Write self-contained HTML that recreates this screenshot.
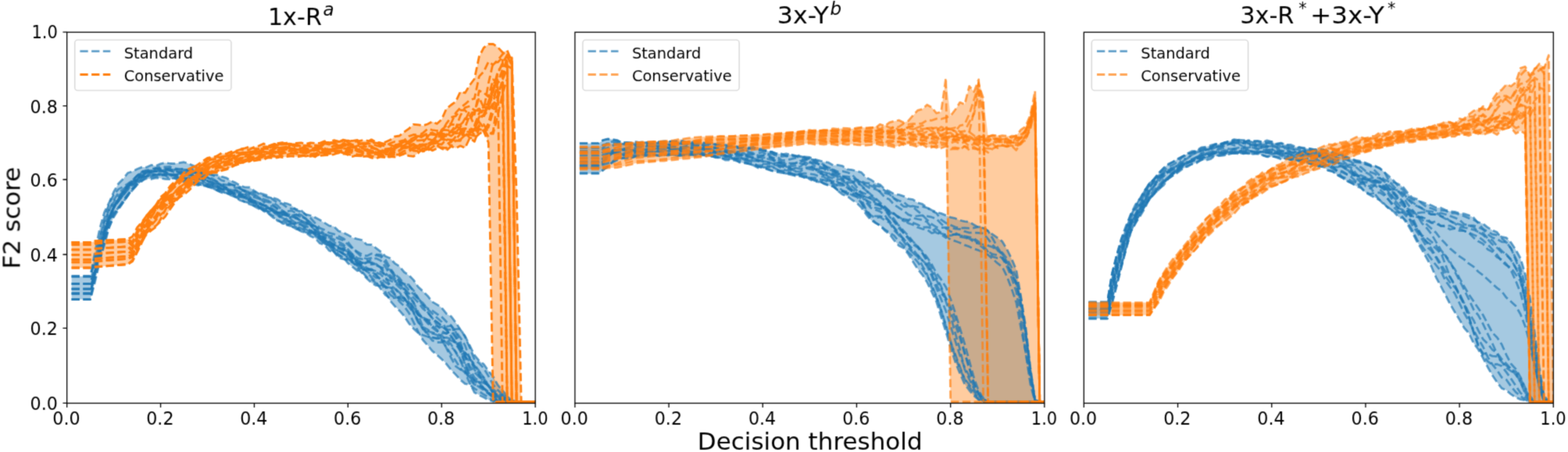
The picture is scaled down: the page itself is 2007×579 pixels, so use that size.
<!DOCTYPE html>
<html lang="en"><head><meta charset="utf-8"><title>F2 score vs decision threshold</title>
<style>
html,body{margin:0;padding:0;background:#fff}
body{width:2007px;height:579px;overflow:hidden}
svg{display:block}
text{font-family:"DejaVu Sans","Liberation Sans",sans-serif;fill:#000}
.tk text{font-size:22.2px}
.lg{font-size:19.44px}
.tt{font-size:31px}
.sup{font-size:23px;font-style:italic}
.st{font-size:20.5px}
</style></head><body>
<svg width="2007" height="579" viewBox="0 0 2007 579" role="img" aria-label="F2 score versus decision threshold for three models">
<rect width="2007" height="579" fill="#fff"/>
<defs>
<clipPath id="c0"><rect x="85.7" y="41.3" width="599.6" height="475.2"/></clipPath>
<clipPath id="c1"><rect x="735.9" y="41.3" width="600.9" height="475.2"/></clipPath>
<clipPath id="c2"><rect x="1387.3" y="41.3" width="601.0" height="475.2"/></clipPath>
<filter id="bl" filterUnits="userSpaceOnUse" x="0" y="0" width="2007" height="579" color-interpolation-filters="sRGB"><feConvolveMatrix order="3" kernelMatrix="0.0277 0.1110 0.0277 0.1110 0.4452 0.1110 0.0277 0.1110 0.0277" edgeMode="duplicate" preserveAlpha="false"/></filter>
</defs>
<g filter="url(#bl)">
<g clip-path="url(#c0)">
<path d="M91.6 354.0L97.6 354.0L103.6 354.0L109.6 354.0L115.6 354.0L121.6 322.6L127.6 293.1L133.6 271.8L139.6 259.7L145.6 245.7L151.6 235.3L157.6 229.2L163.6 221.5L169.6 219.6L175.6 216.5L181.6 214.1L187.6 214.3L193.6 211.4L199.6 212.6L205.6 209.8L211.6 208.6L217.6 209.5L223.5 209.6L229.5 208.7L235.5 207.7L241.5 209.7L247.5 212.2L253.5 214.2L259.5 217.4L265.5 222.3L271.5 223.6L277.5 224.0L283.5 226.1L289.5 227.8L295.5 231.5L301.5 234.1L307.5 237.9L313.5 239.8L319.5 240.0L325.5 244.4L331.5 247.1L337.5 248.9L343.5 250.8L349.5 253.4L355.4 255.4L361.4 259.6L367.4 260.8L373.4 263.2L379.4 268.0L385.4 269.5L391.4 274.6L397.4 276.0L403.4 278.6L409.4 281.7L415.4 285.4L421.4 289.1L427.4 290.0L433.4 296.0L439.4 297.9L445.4 300.9L451.4 304.5L457.4 306.1L463.4 307.5L469.4 313.2L475.4 313.5L481.4 317.8L487.3 322.4L493.3 328.3L499.3 330.7L505.3 337.3L511.3 341.1L517.3 348.5L523.3 352.4L529.3 358.6L535.3 367.5L541.3 373.1L547.3 378.9L553.3 386.6L559.3 390.1L565.3 394.1L571.3 401.7L577.3 405.2L583.3 413.0L589.3 421.2L595.3 430.6L601.3 442.7L607.3 454.8L613.3 462.1L619.2 466.5L625.2 475.1L631.2 482.4L637.2 493.2L643.2 500.2L649.2 507.4L655.2 512.8L661.2 515.3L667.2 516.0L673.2 516.0L679.2 516.0L685.2 516.0L685.2 516.0L679.2 516.0L673.2 516.0L667.2 516.0L661.2 516.0L655.2 516.2L649.2 516.5L643.2 515.5L637.2 515.0L631.2 514.2L625.2 512.3L619.2 509.1L613.3 506.1L607.3 502.8L601.3 492.8L595.3 491.6L589.3 486.5L583.3 479.9L577.3 473.8L571.3 466.1L565.3 460.1L559.3 454.5L553.3 449.6L547.3 442.3L541.3 435.5L535.3 426.6L529.3 420.9L523.3 414.1L517.3 404.8L511.3 397.9L505.3 392.2L499.3 385.0L493.3 377.9L487.3 370.0L481.4 365.7L475.4 362.4L469.4 356.6L463.4 349.7L457.4 346.9L451.4 342.0L445.4 337.2L439.4 331.9L433.4 330.2L427.4 323.1L421.4 321.1L415.4 313.6L409.4 311.7L403.4 305.3L397.4 302.6L391.4 297.9L385.4 296.3L379.4 293.6L373.4 290.1L367.4 288.4L361.4 286.3L355.4 283.0L349.5 278.7L343.5 273.6L337.5 270.4L331.5 267.4L325.5 264.2L319.5 261.7L313.5 258.8L307.5 256.8L301.5 252.6L295.5 250.3L289.5 248.0L283.5 246.7L277.5 243.9L271.5 241.1L265.5 239.1L259.5 238.6L253.5 237.4L247.5 236.0L241.5 233.3L235.5 232.6L229.5 232.2L223.5 228.2L217.6 229.7L211.6 229.4L205.6 228.4L199.6 227.8L193.6 229.5L187.6 228.7L181.6 232.2L175.6 236.7L169.6 243.7L163.6 250.6L157.6 259.4L151.6 268.5L145.6 277.9L139.6 291.6L133.6 314.2L127.6 335.2L121.6 361.0L115.6 383.5L109.6 383.5L103.6 383.5L97.6 383.5L91.6 383.5Z" fill="#1f77b4" fill-opacity="0.4"/>
<path d="M91.6 310.5L97.6 310.5L103.6 310.5L109.6 310.5L115.6 310.5L121.6 309.0L127.6 308.6L133.6 308.3L139.6 307.9L145.6 307.6L151.6 307.2L157.6 306.9L163.6 306.5L169.6 303.0L175.6 291.5L181.6 284.4L187.6 276.1L193.6 269.1L199.6 262.4L205.6 252.4L211.6 247.5L217.6 238.5L223.5 232.5L229.5 228.4L235.5 221.2L241.5 216.4L247.5 213.7L253.5 210.6L259.5 206.5L265.5 202.3L271.5 201.1L277.5 199.9L283.5 196.2L289.5 197.2L295.5 194.4L301.5 193.3L307.5 191.1L313.5 189.8L319.5 188.0L325.5 188.3L331.5 186.8L337.5 184.0L343.5 187.0L349.5 184.1L355.4 183.6L361.4 182.6L367.4 183.1L373.4 184.4L379.4 183.4L385.4 182.9L391.4 184.5L397.4 182.9L403.4 183.4L409.4 183.4L415.4 180.8L421.4 182.0L427.4 179.7L433.4 181.1L439.4 179.1L445.4 180.0L451.4 180.3L457.4 179.5L463.4 179.8L469.4 180.2L475.4 178.8L481.4 182.0L487.3 182.9L493.3 182.0L499.3 179.3L505.3 174.8L511.3 174.0L517.3 169.2L523.3 164.9L529.3 159.3L535.3 159.8L541.3 160.9L547.3 159.0L553.3 155.8L559.3 158.5L565.3 153.0L571.3 139.5L577.3 134.5L583.3 130.2L589.3 117.4L595.3 119.0L601.3 109.1L607.3 101.0L613.3 72.4L619.2 61.2L625.2 56.5L631.2 56.4L637.2 60.6L643.2 67.0L649.2 64.6L655.2 74.0L661.2 250.0L667.2 516.5L673.2 516.5L679.2 516.5L685.2 516.5L685.2 516.5L679.2 516.5L673.2 516.5L667.2 516.5L661.2 516.5L655.2 516.5L649.2 516.5L643.2 516.5L637.2 516.5L631.2 516.5L625.2 182.6L619.2 168.5L613.3 171.6L607.3 181.4L601.3 176.7L595.3 189.6L589.3 186.8L583.3 189.8L577.3 187.4L571.3 193.0L565.3 190.3L559.3 190.0L553.3 192.9L547.3 193.1L541.3 194.0L535.3 196.1L529.3 200.4L523.3 199.6L517.3 197.7L511.3 199.4L505.3 201.1L499.3 201.2L493.3 201.6L487.3 200.9L481.4 203.0L475.4 202.2L469.4 200.2L463.4 200.6L457.4 199.5L451.4 200.5L445.4 198.4L439.4 197.1L433.4 195.9L427.4 197.8L421.4 198.7L415.4 198.8L409.4 199.3L403.4 201.0L397.4 200.4L391.4 200.1L385.4 200.1L379.4 201.1L373.4 199.8L367.4 200.5L361.4 201.7L355.4 201.8L349.5 202.4L343.5 201.8L337.5 204.6L331.5 204.9L325.5 205.9L319.5 206.9L313.5 207.6L307.5 209.7L301.5 211.6L295.5 214.4L289.5 217.2L283.5 218.7L277.5 221.1L271.5 221.4L265.5 224.2L259.5 230.0L253.5 231.7L247.5 238.1L241.5 244.2L235.5 249.2L229.5 253.1L223.5 260.0L217.6 268.3L211.6 277.2L205.6 283.6L199.6 290.7L193.6 295.2L187.6 299.9L181.6 310.6L175.6 323.2L169.6 334.8L163.6 338.5L157.6 339.0L151.6 339.5L145.6 340.0L139.6 340.5L133.6 341.0L127.6 341.5L121.6 342.0L115.6 343.0L109.6 343.0L103.6 343.0L97.6 343.0L91.6 343.0Z" fill="#ff7f0e" fill-opacity="0.4"/>
<g fill="none" stroke="#1f77b4" stroke-width="2.78" stroke-dasharray="10.28 4.44" stroke-opacity="0.70" stroke-linejoin="round">
<path d="M91.6 354.0L97.6 354.0L103.6 354.0L109.6 354.0L115.6 354.0L121.6 322.6L127.6 293.1L133.6 271.8L139.6 259.7L145.6 245.7L151.6 235.3L157.6 229.2L163.6 221.5L169.6 219.6L175.6 216.5L181.6 214.1L187.6 214.3L193.6 211.4L199.6 212.6L205.6 209.8L211.6 208.6L217.6 209.5L223.5 209.6L229.5 208.7L235.5 207.7L241.5 209.7L247.5 212.2L253.5 214.2L259.5 217.4L265.5 222.3L271.5 223.6L277.5 224.0L283.5 226.1L289.5 227.8L295.5 231.5L301.5 234.1L307.5 237.9L313.5 239.8L319.5 240.0L325.5 244.4L331.5 248.5L337.5 250.8L343.5 253.1L349.5 253.4L355.4 255.4L361.4 259.6L367.4 260.8L373.4 263.2L379.4 269.5L385.4 271.3L391.4 274.6L397.4 276.0L403.4 278.6L409.4 281.7L415.4 285.4L421.4 289.1L427.4 290.0L433.4 296.0L439.4 297.9L445.4 300.9L451.4 304.5L457.4 306.1L463.4 307.5L469.4 313.2L475.4 313.5L481.4 317.8L487.3 322.4L493.3 328.3L499.3 330.7L505.3 337.3L511.3 341.1L517.3 348.5L523.3 352.4L529.3 358.6L535.3 367.5L541.3 373.1L547.3 378.9L553.3 386.6L559.3 390.1L565.3 394.1L571.3 401.7L577.3 405.2L583.3 413.0L589.3 422.3L595.3 430.6L601.3 442.7L607.3 454.8L613.3 462.1L619.2 466.5L625.2 475.1L631.2 482.4L637.2 493.2L643.2 500.2L649.2 507.4L655.2 512.8L661.2 514.6L667.2 514.6L673.2 514.6L679.2 514.6L685.2 514.6"/>
<path d="M91.6 354.0L97.6 354.0L103.6 354.0L109.6 354.0L115.6 354.0L121.6 330.1L127.6 306.0L133.6 284.5L139.6 268.8L145.6 259.1L151.6 251.2L157.6 245.4L163.6 236.5L169.6 231.0L175.6 224.8L181.6 220.3L187.6 218.1L193.6 216.8L199.6 215.2L205.6 213.6L211.6 214.0L217.6 213.5L223.5 217.2L229.5 217.7L235.5 219.4L241.5 217.3L247.5 216.1L253.5 219.5L259.5 220.1L265.5 222.4L271.5 224.5L277.5 226.5L283.5 231.0L289.5 232.5L295.5 236.6L301.5 238.0L307.5 242.0L313.5 244.3L319.5 247.1L325.5 245.7L331.5 247.1L337.5 248.9L343.5 250.8L349.5 255.9L355.4 259.6L361.4 261.2L367.4 265.8L373.4 267.4L379.4 268.0L385.4 269.5L391.4 275.3L397.4 279.2L403.4 285.9L409.4 292.1L415.4 294.6L421.4 298.4L427.4 299.9L433.4 302.5L439.4 305.4L445.4 310.2L451.4 317.8L457.4 324.1L463.4 329.7L469.4 331.5L475.4 330.3L481.4 326.9L487.3 328.7L493.3 336.7L499.3 345.9L505.3 354.8L511.3 361.1L517.3 369.5L523.3 375.6L529.3 381.5L535.3 387.5L541.3 395.5L547.3 400.0L553.3 407.3L559.3 416.2L565.3 423.9L571.3 427.5L577.3 423.3L583.3 421.7L589.3 421.2L595.3 431.6L601.3 445.5L607.3 460.8L613.3 465.4L619.2 471.9L625.2 481.8L631.2 492.8L637.2 499.7L643.2 505.1L649.2 508.0L655.2 512.8L661.2 514.6L667.2 514.6L673.2 514.6L679.2 514.6L685.2 514.6"/>
<path d="M91.6 363.7L97.6 363.7L103.6 363.7L109.6 363.7L115.6 363.7L121.6 337.8L127.6 306.1L133.6 280.7L139.6 261.2L145.6 249.4L151.6 242.4L157.6 239.1L163.6 235.3L169.6 231.2L175.6 225.1L181.6 222.2L187.6 220.1L193.6 219.3L199.6 219.6L205.6 219.2L211.6 217.5L217.6 218.5L223.5 220.9L229.5 221.0L235.5 219.1L241.5 218.7L247.5 219.7L253.5 221.9L259.5 222.9L265.5 226.8L271.5 228.5L277.5 232.5L283.5 238.4L289.5 240.6L295.5 243.3L301.5 244.0L307.5 244.0L313.5 244.1L319.5 246.4L325.5 248.2L331.5 253.4L337.5 255.2L343.5 257.0L349.5 262.3L355.4 267.7L361.4 271.6L367.4 275.5L373.4 276.0L379.4 274.7L385.4 277.2L391.4 280.5L397.4 288.5L403.4 295.3L409.4 302.6L415.4 304.1L421.4 304.0L427.4 306.8L433.4 309.7L439.4 312.9L445.4 319.5L451.4 326.2L457.4 330.6L463.4 331.8L469.4 332.8L475.4 337.2L481.4 339.7L487.3 342.5L493.3 343.5L499.3 345.6L505.3 351.4L511.3 356.0L517.3 364.3L523.3 371.7L529.3 376.8L535.3 383.5L541.3 388.2L547.3 395.8L553.3 401.8L559.3 407.0L565.3 412.3L571.3 421.1L577.3 430.7L583.3 438.4L589.3 444.8L595.3 452.0L601.3 457.7L607.3 469.3L613.3 479.8L619.2 488.7L625.2 494.2L631.2 502.0L637.2 506.1L643.2 505.8L649.2 509.0L655.2 513.6L661.2 514.6L667.2 514.6L673.2 514.6L679.2 514.6L685.2 514.6"/>
<path d="M91.6 376.0L97.6 376.0L103.6 376.0L109.6 376.0L115.6 376.0L121.6 349.1L127.6 320.6L133.6 292.1L139.6 269.9L145.6 256.3L151.6 247.1L157.6 242.5L163.6 237.3L169.6 233.0L175.6 227.9L181.6 220.5L187.6 220.2L193.6 218.4L199.6 220.0L205.6 219.0L211.6 219.1L217.6 218.2L223.5 217.5L229.5 215.8L235.5 217.3L241.5 217.5L247.5 218.9L253.5 223.0L259.5 229.2L265.5 231.3L271.5 235.2L277.5 236.2L283.5 236.1L289.5 236.7L295.5 237.2L301.5 240.8L307.5 239.7L313.5 245.4L319.5 249.0L325.5 252.7L331.5 254.6L337.5 257.4L343.5 259.0L349.5 259.0L355.4 263.5L361.4 269.8L367.4 273.4L373.4 276.7L379.4 275.3L385.4 278.2L391.4 279.6L397.4 286.7L403.4 289.8L409.4 295.2L415.4 303.2L421.4 308.7L427.4 314.0L433.4 313.0L439.4 315.4L445.4 321.9L451.4 331.2L457.4 336.5L463.4 339.4L469.4 336.0L475.4 332.0L481.4 331.0L487.3 333.7L493.3 341.7L499.3 352.9L505.3 356.4L511.3 361.3L517.3 363.5L523.3 366.2L529.3 372.0L535.3 381.8L541.3 390.3L547.3 394.9L553.3 397.9L559.3 402.2L565.3 405.7L571.3 412.0L577.3 416.6L583.3 424.9L589.3 432.5L595.3 442.5L601.3 459.2L607.3 473.7L613.3 480.7L619.2 489.3L625.2 493.6L631.2 501.4L637.2 507.1L643.2 508.1L649.2 512.0L655.2 514.1L661.2 514.6L667.2 514.6L673.2 514.6L679.2 514.6L685.2 514.6"/>
<path d="M91.6 354.0L97.6 354.0L103.6 354.0L109.6 354.0L115.6 354.0L121.6 335.0L127.6 312.9L133.6 295.3L139.6 279.0L145.6 263.3L151.6 257.1L157.6 250.0L163.6 240.6L169.6 232.1L175.6 225.3L181.6 219.5L187.6 219.0L193.6 219.1L199.6 219.6L205.6 215.2L211.6 217.4L217.6 215.6L223.5 215.8L229.5 216.3L235.5 216.5L241.5 218.7L247.5 219.5L253.5 221.7L259.5 221.3L265.5 227.3L271.5 230.6L277.5 234.5L283.5 236.6L289.5 236.8L295.5 236.0L301.5 237.6L307.5 241.5L313.5 245.3L319.5 247.5L325.5 250.8L331.5 252.9L337.5 258.6L343.5 266.3L349.5 270.5L355.4 272.4L361.4 271.6L367.4 270.6L373.4 269.9L379.4 273.5L385.4 275.3L391.4 280.2L397.4 285.0L403.4 291.5L409.4 298.2L415.4 299.9L421.4 302.1L427.4 302.7L433.4 305.8L439.4 307.9L445.4 313.4L451.4 318.7L457.4 322.5L463.4 326.0L469.4 327.9L475.4 324.9L481.4 325.8L487.3 326.5L493.3 332.4L499.3 343.1L505.3 352.5L511.3 358.9L517.3 364.8L523.3 364.7L529.3 373.3L535.3 382.8L541.3 391.2L547.3 399.7L553.3 407.6L559.3 412.6L565.3 417.8L571.3 422.0L577.3 422.3L583.3 430.7L589.3 442.4L595.3 455.4L601.3 469.1L607.3 476.8L613.3 483.0L619.2 487.4L625.2 495.0L631.2 503.4L637.2 506.5L643.2 509.5L649.2 510.6L655.2 514.6L661.2 514.6L667.2 514.6L673.2 514.6L679.2 514.6L685.2 514.6"/>
<path d="M91.6 370.2L97.6 370.2L103.6 370.2L109.6 370.2L115.6 370.2L121.6 347.7L127.6 323.3L133.6 301.9L139.6 279.2L145.6 265.5L151.6 254.7L157.6 245.1L163.6 238.4L169.6 234.1L175.6 229.8L181.6 221.9L187.6 220.8L193.6 217.7L199.6 215.9L205.6 215.8L211.6 216.0L217.6 216.8L223.5 218.3L229.5 221.2L235.5 224.2L241.5 223.7L247.5 221.8L253.5 224.2L259.5 226.4L265.5 231.7L271.5 236.9L277.5 239.3L283.5 241.7L289.5 244.4L295.5 245.4L301.5 246.1L307.5 249.7L313.5 252.5L319.5 257.4L325.5 259.4L331.5 261.2L337.5 263.3L343.5 265.3L349.5 267.9L355.4 270.8L361.4 273.6L367.4 274.9L373.4 277.8L379.4 278.5L385.4 282.9L391.4 285.3L397.4 287.9L403.4 289.9L409.4 293.8L415.4 300.1L421.4 305.2L427.4 309.5L433.4 317.1L439.4 321.6L445.4 324.4L451.4 330.3L457.4 332.9L463.4 336.9L469.4 336.2L475.4 336.1L481.4 338.5L487.3 342.6L493.3 350.0L499.3 355.3L505.3 360.2L511.3 364.9L517.3 369.5L523.3 378.6L529.3 387.1L535.3 403.4L541.3 418.7L547.3 427.6L553.3 432.2L559.3 433.9L565.3 433.2L571.3 432.4L577.3 434.2L583.3 438.4L589.3 446.9L595.3 451.9L601.3 459.5L607.3 466.9L613.3 475.4L619.2 484.2L625.2 494.5L631.2 503.1L637.2 508.1L643.2 510.0L649.2 512.0L655.2 514.6L661.2 514.6L667.2 514.6L673.2 514.6L679.2 514.6L685.2 514.6"/>
<path d="M91.6 363.7L97.6 363.7L103.6 363.7L109.6 363.7L115.6 363.7L121.6 347.6L127.6 317.4L133.6 296.6L139.6 279.1L145.6 265.5L151.6 255.4L157.6 246.5L163.6 239.1L169.6 232.5L175.6 229.3L181.6 224.1L187.6 222.0L193.6 220.0L199.6 218.5L205.6 218.9L211.6 220.0L217.6 223.1L223.5 223.7L229.5 223.7L235.5 221.7L241.5 220.2L247.5 220.3L253.5 223.4L259.5 227.0L265.5 227.5L271.5 230.5L277.5 232.5L283.5 238.4L289.5 241.2L295.5 243.6L301.5 243.7L307.5 246.1L313.5 247.8L319.5 252.0L325.5 257.6L331.5 264.7L337.5 268.4L343.5 271.4L349.5 271.4L355.4 272.1L361.4 274.1L367.4 275.8L373.4 279.0L379.4 279.9L385.4 282.7L391.4 284.8L397.4 287.5L403.4 294.9L409.4 299.6L415.4 307.0L421.4 311.7L427.4 313.4L433.4 316.2L439.4 319.0L445.4 322.8L451.4 327.8L457.4 336.0L463.4 341.1L469.4 345.2L475.4 345.7L481.4 347.3L487.3 348.1L493.3 351.9L499.3 355.7L505.3 358.8L511.3 363.5L517.3 371.4L523.3 383.6L529.3 394.5L535.3 402.6L541.3 407.6L547.3 412.1L553.3 417.4L559.3 418.1L565.3 418.9L571.3 418.4L577.3 417.3L583.3 425.1L589.3 437.9L595.3 457.2L601.3 472.6L607.3 483.6L613.3 488.3L619.2 490.6L625.2 493.2L631.2 498.9L637.2 503.6L643.2 508.2L649.2 512.3L655.2 514.6L661.2 514.6L667.2 514.6L673.2 514.6L679.2 514.6L685.2 514.6"/>
<path d="M91.6 370.2L97.6 370.2L103.6 370.2L109.6 370.2L115.6 370.2L121.6 347.7L127.6 324.8L133.6 302.5L139.6 282.8L145.6 265.8L151.6 256.8L157.6 247.9L163.6 238.8L169.6 235.7L175.6 229.9L181.6 223.3L187.6 221.8L193.6 220.3L199.6 216.0L205.6 217.1L211.6 217.1L217.6 218.3L223.5 220.1L229.5 220.1L235.5 221.5L241.5 222.9L247.5 225.1L253.5 228.4L259.5 229.2L265.5 230.9L271.5 233.6L277.5 234.7L283.5 237.9L289.5 239.8L295.5 245.4L301.5 249.5L307.5 252.5L313.5 253.7L319.5 257.1L325.5 259.6L331.5 263.6L337.5 266.8L343.5 269.2L349.5 269.5L355.4 272.8L361.4 274.7L367.4 276.3L373.4 277.2L379.4 279.0L385.4 282.9L391.4 288.4L397.4 294.5L403.4 300.3L409.4 304.2L415.4 309.3L421.4 313.0L427.4 317.1L433.4 326.0L439.4 329.7L445.4 332.1L451.4 335.6L457.4 337.8L463.4 343.4L469.4 344.4L475.4 344.7L481.4 349.3L487.3 351.4L493.3 357.7L499.3 359.2L505.3 362.1L511.3 368.2L517.3 373.4L523.3 380.3L529.3 387.7L535.3 399.7L541.3 408.4L547.3 409.9L553.3 417.5L559.3 422.0L565.3 433.8L571.3 445.6L577.3 458.3L583.3 469.1L589.3 473.5L595.3 476.4L601.3 482.6L607.3 487.0L613.3 489.7L619.2 497.5L625.2 501.6L631.2 506.9L637.2 511.4L643.2 511.0L649.2 512.5L655.2 514.6L661.2 514.6L667.2 514.6L673.2 514.6L679.2 514.6L685.2 514.6"/>
<path d="M91.6 376.0L97.6 376.0L103.6 376.0L109.6 376.0L115.6 376.0L121.6 350.0L127.6 323.7L133.6 298.5L139.6 279.7L145.6 264.8L151.6 257.5L157.6 249.4L163.6 241.5L169.6 238.2L175.6 233.0L181.6 226.6L187.6 226.1L193.6 224.3L199.6 223.9L205.6 223.8L211.6 223.3L217.6 223.9L223.5 225.1L229.5 228.6L235.5 229.6L241.5 227.6L247.5 228.4L253.5 228.1L259.5 231.5L265.5 235.4L271.5 237.9L277.5 241.7L283.5 242.4L289.5 243.5L295.5 247.6L301.5 247.3L307.5 248.6L313.5 249.5L319.5 255.2L325.5 258.2L331.5 260.6L337.5 262.5L343.5 264.2L349.5 264.0L355.4 267.3L361.4 269.5L367.4 274.9L373.4 281.8L379.4 286.2L385.4 288.1L391.4 292.4L397.4 295.2L403.4 298.7L409.4 304.6L415.4 307.8L421.4 310.1L427.4 313.2L433.4 318.5L439.4 319.5L445.4 326.2L451.4 332.1L457.4 337.1L463.4 339.4L469.4 343.0L475.4 346.7L481.4 352.3L487.3 358.4L493.3 367.8L499.3 377.5L505.3 381.5L511.3 381.7L517.3 382.0L523.3 386.8L529.3 393.7L535.3 403.0L541.3 406.7L547.3 409.6L553.3 410.8L559.3 412.3L565.3 417.3L571.3 423.0L577.3 430.5L583.3 441.0L589.3 448.9L595.3 456.9L601.3 462.9L607.3 468.6L613.3 476.2L619.2 483.5L625.2 493.8L631.2 504.1L637.2 509.6L643.2 513.1L649.2 513.6L655.2 514.3L661.2 514.6L667.2 514.6L673.2 514.6L679.2 514.6L685.2 514.6"/>
<path d="M91.6 376.0L97.6 376.0L103.6 376.0L109.6 376.0L115.6 376.0L121.6 349.1L127.6 323.6L133.6 303.6L139.6 283.1L145.6 266.5L151.6 255.0L157.6 245.9L163.6 237.7L169.6 235.8L175.6 231.3L181.6 227.2L187.6 225.5L193.6 225.5L199.6 224.0L205.6 223.5L211.6 221.6L217.6 223.2L223.5 224.5L229.5 222.5L235.5 223.3L241.5 224.4L247.5 224.8L253.5 225.9L259.5 226.4L265.5 231.7L271.5 233.7L277.5 237.7L283.5 241.9L289.5 243.4L295.5 246.1L301.5 248.7L307.5 249.6L313.5 252.4L319.5 254.0L325.5 257.0L331.5 259.4L337.5 262.9L343.5 265.7L349.5 270.5L355.4 275.7L361.4 279.0L367.4 281.8L373.4 285.0L379.4 289.8L385.4 292.6L391.4 296.2L397.4 297.9L403.4 297.9L409.4 302.0L415.4 304.4L421.4 312.1L427.4 315.4L433.4 317.1L439.4 318.5L445.4 322.8L451.4 326.0L457.4 334.2L463.4 342.6L469.4 347.7L475.4 351.5L481.4 355.8L487.3 356.3L493.3 361.4L499.3 365.1L505.3 369.6L511.3 376.6L517.3 381.7L523.3 390.6L529.3 394.5L535.3 403.5L541.3 406.9L547.3 414.2L553.3 419.6L559.3 424.3L565.3 427.2L571.3 426.7L577.3 424.5L583.3 432.4L589.3 446.0L595.3 465.2L601.3 478.9L607.3 487.0L613.3 489.4L619.2 497.6L625.2 503.6L631.2 509.4L637.2 513.4L643.2 514.3L649.2 514.6L655.2 514.6L661.2 514.6L667.2 514.6L673.2 514.6L679.2 514.6L685.2 514.6"/>
<path d="M91.6 363.7L97.6 363.7L103.6 363.7L109.6 363.7L115.6 363.7L121.6 345.2L127.6 317.2L133.6 295.9L139.6 278.3L145.6 266.0L151.6 257.9L157.6 250.3L163.6 243.2L169.6 237.0L175.6 230.1L181.6 225.1L187.6 221.5L193.6 220.3L199.6 219.6L205.6 218.6L211.6 220.2L217.6 223.3L223.5 225.6L229.5 227.4L235.5 230.6L241.5 232.1L247.5 233.6L253.5 236.1L259.5 238.6L265.5 236.5L271.5 238.8L277.5 240.1L283.5 241.9L289.5 241.7L295.5 245.9L301.5 245.8L307.5 247.6L313.5 251.4L319.5 257.4L325.5 262.0L331.5 265.1L337.5 267.7L343.5 266.7L349.5 268.2L355.4 273.6L361.4 278.7L367.4 283.4L373.4 283.8L379.4 285.8L385.4 284.4L391.4 286.3L397.4 287.9L403.4 295.5L409.4 301.8L415.4 306.6L421.4 312.8L427.4 319.1L433.4 321.8L439.4 325.0L445.4 329.7L451.4 335.1L457.4 343.1L463.4 349.7L469.4 356.6L475.4 362.4L481.4 365.7L487.3 366.2L493.3 367.5L499.3 368.5L505.3 369.2L511.3 374.7L517.3 382.4L523.3 389.9L529.3 399.4L535.3 411.2L541.3 421.0L547.3 428.6L553.3 436.1L559.3 438.5L565.3 438.6L571.3 435.6L577.3 436.2L583.3 438.7L589.3 450.0L595.3 466.8L601.3 480.6L607.3 487.8L613.3 493.6L619.2 497.5L625.2 503.4L631.2 506.9L637.2 510.0L643.2 511.2L649.2 513.0L655.2 514.6L661.2 514.6L667.2 514.6L673.2 514.6L679.2 514.6L685.2 514.6"/>
<path d="M91.6 370.2L97.6 370.2L103.6 370.2L109.6 370.2L115.6 370.2L121.6 348.8L127.6 321.9L133.6 299.8L139.6 283.1L145.6 271.3L151.6 266.4L157.6 259.1L163.6 250.6L169.6 243.7L175.6 236.6L181.6 228.6L187.6 224.0L193.6 225.2L199.6 223.2L205.6 222.5L211.6 224.2L217.6 224.2L223.5 223.9L229.5 226.3L235.5 227.2L241.5 229.4L247.5 229.2L253.5 233.2L259.5 231.8L265.5 236.2L271.5 237.0L277.5 238.4L283.5 240.2L289.5 242.6L295.5 246.7L301.5 252.4L307.5 255.2L313.5 258.7L319.5 259.9L325.5 264.2L331.5 267.4L337.5 269.5L343.5 270.7L349.5 271.9L355.4 275.5L361.4 281.5L367.4 286.7L373.4 290.1L379.4 293.6L385.4 291.8L391.4 293.7L397.4 297.8L403.4 298.1L409.4 304.8L415.4 311.8L421.4 315.2L427.4 322.6L433.4 321.1L439.4 325.4L445.4 327.6L451.4 330.4L457.4 333.2L463.4 336.7L469.4 336.9L475.4 338.9L481.4 338.2L487.3 343.0L493.3 354.6L499.3 365.8L505.3 376.7L511.3 383.2L517.3 386.0L523.3 393.0L529.3 400.7L535.3 411.0L541.3 421.7L547.3 424.4L553.3 425.8L559.3 427.9L565.3 429.6L571.3 435.7L577.3 440.9L583.3 451.4L589.3 462.1L595.3 475.7L601.3 486.0L607.3 492.7L613.3 493.9L619.2 497.8L625.2 502.6L631.2 508.0L637.2 510.8L643.2 511.7L649.2 513.4L655.2 514.6L661.2 514.6L667.2 514.6L673.2 514.6L679.2 514.6L685.2 514.6"/>
<path d="M91.6 383.5L97.6 383.5L103.6 383.5L109.6 383.5L115.6 383.5L121.6 350.9L127.6 330.0L133.6 308.9L139.6 291.6L145.6 275.7L151.6 266.6L157.6 256.6L163.6 248.8L169.6 241.3L175.6 234.3L181.6 225.7L187.6 224.1L193.6 222.1L199.6 223.6L205.6 223.8L211.6 223.9L217.6 225.6L223.5 224.1L229.5 226.1L235.5 229.3L241.5 232.9L247.5 236.0L253.5 237.4L259.5 235.9L265.5 238.7L271.5 240.6L277.5 243.9L283.5 246.2L289.5 247.1L295.5 249.0L301.5 252.4L307.5 251.4L313.5 251.2L319.5 255.0L325.5 257.4L331.5 259.9L337.5 263.5L343.5 266.6L349.5 270.4L355.4 272.2L361.4 275.5L367.4 281.3L373.4 287.9L379.4 291.2L385.4 296.2L391.4 297.6L397.4 299.4L403.4 302.1L409.4 305.8L415.4 310.1L421.4 315.0L427.4 322.4L433.4 330.2L439.4 331.9L445.4 333.0L451.4 336.6L457.4 340.3L463.4 343.9L469.4 347.0L475.4 355.1L481.4 361.5L487.3 370.0L493.3 377.9L499.3 381.8L505.3 381.6L511.3 380.2L517.3 381.6L523.3 389.6L529.3 400.3L535.3 413.1L541.3 419.0L547.3 422.0L553.3 427.1L559.3 429.0L565.3 435.9L571.3 444.8L577.3 453.7L583.3 462.1L589.3 472.0L595.3 477.6L601.3 490.9L607.3 502.8L613.3 506.1L619.2 509.1L625.2 512.3L631.2 514.2L637.2 511.4L643.2 512.6L649.2 513.5L655.2 514.6L661.2 514.6L667.2 514.6L673.2 514.6L679.2 514.6L685.2 514.6"/>
<path d="M91.6 383.5L97.6 383.5L103.6 383.5L109.6 383.5L115.6 383.5L121.6 357.0L127.6 333.4L133.6 314.2L139.6 291.2L145.6 277.9L151.6 268.5L157.6 259.4L163.6 250.0L169.6 242.5L175.6 236.7L181.6 232.2L187.6 225.9L193.6 227.0L199.6 226.5L205.6 224.5L211.6 224.8L217.6 229.0L223.5 228.2L229.5 232.2L235.5 232.6L241.5 233.3L247.5 234.4L253.5 235.4L259.5 237.5L265.5 238.9L271.5 241.1L277.5 243.5L283.5 246.7L289.5 248.0L295.5 247.7L301.5 249.0L307.5 250.8L313.5 252.6L319.5 257.2L325.5 261.4L331.5 265.7L337.5 269.4L343.5 273.2L349.5 276.5L355.4 283.0L361.4 284.7L367.4 288.4L373.4 289.9L379.4 293.0L385.4 296.3L391.4 297.9L397.4 302.6L403.4 305.3L409.4 311.7L415.4 313.6L421.4 321.1L427.4 323.1L433.4 327.5L439.4 329.5L445.4 337.2L451.4 342.0L457.4 346.9L463.4 346.3L469.4 344.6L475.4 347.9L481.4 352.1L487.3 360.6L493.3 373.8L499.3 385.0L505.3 392.2L511.3 397.9L517.3 404.8L523.3 414.1L529.3 420.9L535.3 426.6L541.3 429.3L547.3 431.3L553.3 432.9L559.3 432.9L565.3 433.3L571.3 439.2L577.3 443.5L583.3 450.6L589.3 460.4L595.3 471.8L601.3 483.0L607.3 491.7L613.3 495.9L619.2 499.8L625.2 504.5L631.2 509.1L637.2 514.6L643.2 514.6L649.2 514.6L655.2 514.6L661.2 514.6L667.2 514.6L673.2 514.6L679.2 514.6L685.2 514.6"/>
<path d="M91.6 383.5L97.6 383.5L103.6 383.5L109.6 383.5L115.6 383.5L121.6 361.0L127.6 335.2L133.6 308.4L139.6 286.6L145.6 273.4L151.6 265.8L157.6 259.1L163.6 250.4L169.6 242.4L175.6 235.8L181.6 231.1L187.6 228.7L193.6 229.5L199.6 227.8L205.6 228.4L211.6 229.4L217.6 229.7L223.5 228.2L229.5 229.1L235.5 229.8L241.5 229.2L247.5 231.4L253.5 233.7L259.5 234.6L265.5 239.1L271.5 239.9L277.5 242.5L283.5 244.8L289.5 246.7L295.5 250.3L301.5 252.6L307.5 256.8L313.5 258.8L319.5 261.7L325.5 263.6L331.5 265.6L337.5 270.4L343.5 273.6L349.5 278.7L355.4 281.3L361.4 286.3L367.4 287.1L373.4 287.0L379.4 286.0L385.4 287.2L391.4 291.0L397.4 296.6L403.4 300.6L409.4 306.9L415.4 312.3L421.4 314.0L427.4 317.8L433.4 321.5L439.4 324.8L445.4 330.6L451.4 333.8L457.4 339.7L463.4 347.9L469.4 355.1L475.4 358.0L481.4 362.9L487.3 364.2L493.3 366.9L499.3 371.5L505.3 377.7L511.3 386.2L517.3 392.2L523.3 400.6L529.3 412.6L535.3 424.9L541.3 435.5L547.3 442.3L553.3 449.6L559.3 454.5L565.3 460.1L571.3 466.1L577.3 473.8L583.3 479.9L589.3 486.5L595.3 491.6L601.3 492.8L607.3 497.7L613.3 501.4L619.2 505.3L625.2 508.8L631.2 513.5L637.2 513.5L643.2 513.5L649.2 514.2L655.2 514.6L661.2 514.6L667.2 514.6L673.2 514.6L679.2 514.6L685.2 514.6"/>
</g>
<g fill="none" stroke="#ff7f0e" stroke-width="2.78" stroke-dasharray="10.28 4.44" stroke-opacity="1.00" stroke-linejoin="round">
<path d="M91.6 310.5L97.6 310.5L103.6 310.5L109.6 310.5L115.6 310.5L121.6 309.0L127.6 308.6L133.6 308.3L139.6 307.9L145.6 307.6L151.6 307.2L157.6 306.9L163.6 306.5L169.6 303.0L175.6 291.5L181.6 284.4L187.6 276.4L193.6 269.5L199.6 262.5L205.6 255.0L211.6 251.3L217.6 245.1L223.5 237.1L229.5 228.4L235.5 221.2L241.5 216.4L247.5 213.7L253.5 213.3L259.5 210.7L265.5 206.2L271.5 204.1L277.5 203.2L283.5 200.6L289.5 200.0L295.5 197.1L301.5 194.3L307.5 191.1L313.5 189.8L319.5 188.0L325.5 190.3L331.5 190.7L337.5 188.2L343.5 187.9L349.5 184.1L355.4 186.0L361.4 183.0L367.4 183.8L373.4 184.4L379.4 183.4L385.4 182.9L391.4 184.5L397.4 182.9L403.4 183.4L409.4 183.4L415.4 180.8L421.4 183.6L427.4 182.1L433.4 181.9L439.4 179.1L445.4 180.5L451.4 180.3L457.4 179.5L463.4 183.7L469.4 183.3L475.4 182.9L481.4 183.1L487.3 182.9L493.3 182.0L499.3 179.3L505.3 174.8L511.3 174.0L517.3 169.2L523.3 164.9L529.3 159.3L535.3 159.8L541.3 160.9L547.3 159.0L553.3 155.8L559.3 158.5L565.3 153.0L571.3 139.5L577.3 134.5L583.3 130.2L589.3 117.4L595.3 119.0L601.3 109.1L607.3 101.0L613.3 72.4L619.2 61.2L625.2 56.5L631.2 56.4L637.2 60.6L643.2 67.0L649.2 73.9L655.2 74.0L661.2 250.0L667.2 514.6L673.2 514.6L679.2 514.6L685.2 514.6"/>
<path d="M91.6 310.5L97.6 310.5L103.6 310.5L109.6 310.5L115.6 310.5L121.6 309.0L127.6 308.6L133.6 308.3L139.6 307.9L145.6 307.6L151.6 307.2L157.6 306.9L163.6 306.5L169.6 310.8L175.6 296.2L181.6 286.0L187.6 276.1L193.6 269.1L199.6 263.2L205.6 256.3L211.6 252.4L217.6 245.4L223.5 239.6L229.5 232.4L235.5 226.1L241.5 221.4L247.5 216.4L253.5 214.8L259.5 210.6L265.5 204.3L271.5 202.1L277.5 199.9L283.5 196.2L289.5 197.2L295.5 194.4L301.5 193.3L307.5 191.5L313.5 192.4L319.5 191.5L325.5 188.3L331.5 186.8L337.5 184.0L343.5 187.0L349.5 184.8L355.4 184.1L361.4 184.2L367.4 183.1L373.4 184.7L379.4 185.2L385.4 189.2L391.4 189.5L397.4 192.1L403.4 188.6L409.4 187.6L415.4 182.2L421.4 182.6L427.4 179.7L433.4 181.1L439.4 181.7L445.4 180.0L451.4 181.4L457.4 181.2L463.4 179.8L469.4 180.2L475.4 181.1L481.4 182.4L487.3 186.2L493.3 186.9L499.3 183.6L505.3 181.5L511.3 181.1L517.3 179.7L523.3 174.6L529.3 172.5L535.3 172.6L541.3 173.9L547.3 171.5L553.3 172.4L559.3 172.9L565.3 166.4L571.3 161.0L577.3 158.3L583.3 144.7L589.3 137.9L595.3 133.4L601.3 127.9L607.3 126.3L613.3 97.9L619.2 91.8L625.2 79.1L631.2 83.1L637.2 77.1L643.2 69.6L649.2 64.6L655.2 79.3L661.2 514.6L667.2 514.6L673.2 514.6L679.2 514.6L685.2 514.6"/>
<path d="M91.6 313.4L97.6 313.4L103.6 313.4L109.6 313.4L115.6 313.4L121.6 312.0L127.6 311.6L133.6 311.2L139.6 310.9L145.6 310.5L151.6 310.1L157.6 309.8L163.6 309.4L169.6 312.5L175.6 299.1L181.6 288.5L187.6 279.9L193.6 272.4L199.6 263.8L205.6 256.4L211.6 249.5L217.6 244.4L223.5 239.6L229.5 234.9L235.5 229.3L241.5 221.1L247.5 214.7L253.5 210.6L259.5 206.5L265.5 202.3L271.5 201.1L277.5 201.1L283.5 201.9L289.5 199.9L295.5 198.0L301.5 195.5L307.5 196.0L313.5 195.2L319.5 194.7L325.5 194.2L331.5 194.5L337.5 190.6L343.5 189.9L349.5 187.4L355.4 184.9L361.4 185.1L367.4 184.8L373.4 185.4L379.4 187.0L385.4 186.3L391.4 186.9L397.4 185.4L403.4 186.2L409.4 187.1L415.4 183.9L421.4 185.1L427.4 180.8L433.4 181.7L439.4 180.4L445.4 182.4L451.4 185.4L457.4 182.5L463.4 184.1L469.4 182.3L475.4 178.8L481.4 182.0L487.3 183.1L493.3 184.9L499.3 185.7L505.3 187.6L511.3 183.9L517.3 181.6L523.3 179.5L529.3 176.5L535.3 173.4L541.3 170.4L547.3 165.1L553.3 166.5L559.3 167.5L565.3 166.1L571.3 166.7L577.3 167.4L583.3 164.3L589.3 148.0L595.3 137.8L601.3 136.0L607.3 141.4L613.3 141.8L619.2 137.1L625.2 139.2L631.2 118.1L637.2 94.4L643.2 80.5L649.2 70.8L655.2 76.7L661.2 514.6L667.2 514.6L673.2 514.6L679.2 514.6L685.2 514.6"/>
<path d="M91.6 310.5L97.6 310.5L103.6 310.5L109.6 310.5L115.6 310.5L121.6 309.0L127.6 308.6L133.6 308.3L139.6 307.9L145.6 307.6L151.6 307.2L157.6 306.9L163.6 306.5L169.6 309.9L175.6 297.3L181.6 288.1L187.6 279.2L193.6 270.9L199.6 262.4L205.6 252.4L211.6 247.5L217.6 238.5L223.5 232.5L229.5 231.2L235.5 225.3L241.5 223.0L247.5 219.1L253.5 217.2L259.5 214.8L265.5 212.6L271.5 208.0L277.5 206.1L283.5 203.9L289.5 200.2L295.5 200.0L301.5 198.8L307.5 196.4L313.5 195.4L319.5 195.4L325.5 193.6L331.5 190.6L337.5 190.4L343.5 190.5L349.5 188.3L355.4 188.6L361.4 191.1L367.4 190.3L373.4 185.8L379.4 185.3L385.4 187.5L391.4 186.6L397.4 188.0L403.4 187.2L409.4 186.6L415.4 182.6L421.4 182.7L427.4 184.0L433.4 186.7L439.4 185.2L445.4 183.7L451.4 187.3L457.4 188.6L463.4 187.9L469.4 188.0L475.4 189.5L481.4 191.2L487.3 192.0L493.3 193.5L499.3 192.8L505.3 190.6L511.3 187.1L517.3 186.1L523.3 182.5L529.3 184.1L535.3 190.7L541.3 193.1L547.3 191.1L553.3 179.6L559.3 177.9L565.3 168.6L571.3 158.4L577.3 150.4L583.3 148.7L589.3 141.2L595.3 141.4L601.3 147.9L607.3 160.7L613.3 145.0L619.2 140.8L625.2 106.8L631.2 80.4L637.2 79.7L643.2 73.5L649.2 514.6L655.2 514.6L661.2 514.6L667.2 514.6L673.2 514.6L679.2 514.6L685.2 514.6"/>
<path d="M91.6 313.4L97.6 313.4L103.6 313.4L109.6 313.4L115.6 313.4L121.6 312.0L127.6 311.6L133.6 311.2L139.6 310.9L145.6 310.5L151.6 310.1L157.6 309.8L163.6 309.4L169.6 315.5L175.6 303.1L181.6 292.1L187.6 282.3L193.6 273.9L199.6 266.0L205.6 260.2L211.6 253.2L217.6 242.6L223.5 236.3L229.5 230.2L235.5 225.7L241.5 221.8L247.5 219.9L253.5 216.4L259.5 213.2L265.5 207.3L271.5 206.5L277.5 207.3L283.5 204.6L289.5 203.8L295.5 200.2L301.5 200.9L307.5 197.7L313.5 195.6L319.5 194.6L325.5 193.9L331.5 193.4L337.5 192.6L343.5 188.4L349.5 187.4L355.4 183.6L361.4 182.6L367.4 185.8L373.4 185.8L379.4 188.7L385.4 190.2L391.4 190.2L397.4 193.2L403.4 189.8L409.4 189.7L415.4 184.0L421.4 182.0L427.4 184.2L433.4 184.9L439.4 185.3L445.4 185.2L451.4 189.1L457.4 186.7L463.4 186.5L469.4 184.2L475.4 184.0L481.4 186.3L487.3 187.8L493.3 191.5L499.3 191.7L505.3 186.5L511.3 185.0L517.3 184.3L523.3 180.7L529.3 179.4L535.3 174.2L541.3 176.4L547.3 174.1L553.3 170.8L559.3 170.0L565.3 172.3L571.3 170.8L577.3 174.3L583.3 169.8L589.3 162.4L595.3 151.6L601.3 154.6L607.3 142.6L613.3 139.2L619.2 147.1L625.2 130.1L631.2 114.4L637.2 91.4L643.2 82.7L649.2 70.3L655.2 78.3L661.2 514.6L667.2 514.6L673.2 514.6L679.2 514.6L685.2 514.6"/>
<path d="M91.6 335.9L97.6 335.9L103.6 335.9L109.6 335.9L115.6 335.8L121.6 334.7L127.6 334.3L133.6 333.8L139.6 333.3L145.6 332.9L151.6 332.4L157.6 331.9L163.6 331.5L169.6 327.9L175.6 312.8L181.6 298.5L187.6 285.9L193.6 278.3L199.6 268.9L205.6 262.0L211.6 254.4L217.6 242.9L223.5 234.2L229.5 229.2L235.5 225.2L241.5 222.2L247.5 218.2L253.5 219.5L259.5 218.5L265.5 214.9L271.5 213.0L277.5 212.9L283.5 208.5L289.5 205.3L295.5 203.8L301.5 200.4L307.5 198.2L313.5 197.3L319.5 197.2L325.5 195.6L331.5 193.5L337.5 194.4L343.5 195.0L349.5 193.9L355.4 194.6L361.4 192.2L367.4 188.6L373.4 189.0L379.4 191.3L385.4 192.4L391.4 191.8L397.4 193.0L403.4 191.0L409.4 189.6L415.4 191.6L421.4 191.4L427.4 191.3L433.4 189.0L439.4 187.5L445.4 186.2L451.4 188.1L457.4 189.9L463.4 190.2L469.4 191.7L475.4 188.8L481.4 190.3L487.3 194.9L493.3 196.0L499.3 193.3L505.3 189.8L511.3 185.6L517.3 187.4L523.3 188.1L529.3 185.5L535.3 187.0L541.3 181.8L547.3 175.6L553.3 169.7L559.3 174.8L565.3 170.3L571.3 174.2L577.3 168.6L583.3 160.4L589.3 159.6L595.3 154.3L601.3 141.7L607.3 146.8L613.3 116.1L619.2 118.8L625.2 123.9L631.2 101.8L637.2 106.0L643.2 88.9L649.2 78.7L655.2 514.6L661.2 514.6L667.2 514.6L673.2 514.6L679.2 514.6L685.2 514.6"/>
<path d="M91.6 319.9L97.6 319.9L103.6 319.9L109.6 319.9L115.6 319.9L121.6 318.6L127.6 318.2L133.6 317.8L139.6 317.4L145.6 317.0L151.6 316.6L157.6 316.2L163.6 315.8L169.6 318.8L175.6 305.6L181.6 293.5L187.6 281.8L193.6 273.5L199.6 266.7L205.6 260.8L211.6 257.3L217.6 252.6L223.5 246.6L229.5 240.4L235.5 235.9L241.5 231.6L247.5 226.1L253.5 222.2L259.5 214.9L265.5 211.1L271.5 208.2L277.5 206.4L283.5 205.9L289.5 207.6L295.5 205.4L301.5 205.3L307.5 202.4L313.5 201.8L319.5 199.3L325.5 196.2L331.5 195.9L337.5 194.5L343.5 194.0L349.5 190.9L355.4 189.1L361.4 189.0L367.4 189.6L373.4 191.4L379.4 194.8L385.4 196.0L391.4 196.2L397.4 194.8L403.4 192.5L409.4 190.5L415.4 190.1L421.4 192.5L427.4 190.6L433.4 190.2L439.4 189.1L445.4 188.9L451.4 188.4L457.4 185.7L463.4 183.9L469.4 187.2L475.4 187.2L481.4 191.7L487.3 194.0L493.3 195.2L499.3 193.8L505.3 188.4L511.3 184.2L517.3 181.7L523.3 179.7L529.3 179.8L535.3 175.0L541.3 174.5L547.3 170.2L553.3 170.4L559.3 172.8L565.3 177.2L571.3 179.2L577.3 182.2L583.3 175.0L589.3 169.1L595.3 163.0L601.3 147.5L607.3 143.3L613.3 125.1L619.2 137.8L625.2 131.6L631.2 125.4L637.2 110.3L643.2 514.6L649.2 514.6L655.2 514.6L661.2 514.6L667.2 514.6L673.2 514.6L679.2 514.6L685.2 514.6"/>
<path d="M91.6 326.4L97.6 326.4L103.6 326.4L109.6 326.4L115.6 326.4L121.6 325.2L127.6 324.7L133.6 324.3L139.6 323.9L145.6 323.5L151.6 323.0L157.6 322.6L163.6 322.2L169.6 325.0L175.6 312.5L181.6 300.3L187.6 287.2L193.6 277.6L199.6 268.3L205.6 263.3L211.6 256.0L217.6 250.1L223.5 247.9L229.5 243.8L235.5 239.1L241.5 235.6L247.5 228.9L253.5 224.0L259.5 218.6L265.5 213.3L271.5 213.8L277.5 212.9L283.5 211.7L289.5 210.9L295.5 210.5L301.5 206.1L307.5 203.1L313.5 200.8L319.5 197.7L325.5 194.1L331.5 195.7L337.5 196.5L343.5 196.8L349.5 197.7L355.4 195.7L361.4 194.8L367.4 194.6L373.4 191.8L379.4 194.2L385.4 195.1L391.4 195.0L397.4 197.1L403.4 196.7L409.4 194.2L415.4 194.8L421.4 191.8L427.4 190.0L433.4 188.7L439.4 190.1L445.4 190.7L451.4 191.1L457.4 193.4L463.4 193.8L469.4 191.9L475.4 192.9L481.4 194.8L487.3 197.2L493.3 199.6L499.3 200.6L505.3 201.1L511.3 199.4L517.3 196.9L523.3 193.7L529.3 190.7L535.3 185.6L541.3 185.7L547.3 184.2L553.3 182.2L559.3 180.8L565.3 177.7L571.3 173.2L577.3 167.7L583.3 170.6L589.3 165.4L595.3 164.6L601.3 164.5L607.3 166.4L613.3 149.7L619.2 149.5L625.2 133.7L631.2 109.8L637.2 95.9L643.2 96.6L649.2 72.4L655.2 83.4L661.2 514.6L667.2 514.6L673.2 514.6L679.2 514.6L685.2 514.6"/>
<path d="M91.6 332.6L97.6 332.6L103.6 332.6L109.6 332.6L115.6 332.6L121.6 331.4L127.6 331.0L133.6 330.5L139.6 330.1L145.6 329.6L151.6 329.2L157.6 328.7L163.6 328.3L169.6 326.1L175.6 312.9L181.6 301.4L187.6 290.0L193.6 282.8L199.6 275.8L205.6 265.8L211.6 259.5L217.6 252.5L223.5 246.1L229.5 239.8L235.5 235.7L241.5 228.6L247.5 226.1L253.5 225.3L259.5 220.5L265.5 216.7L271.5 212.2L277.5 209.3L283.5 208.7L289.5 207.0L295.5 205.7L301.5 203.0L307.5 197.6L313.5 197.3L319.5 197.8L325.5 197.8L331.5 196.5L337.5 197.0L343.5 196.0L349.5 194.8L355.4 191.8L361.4 191.1L367.4 188.2L373.4 191.0L379.4 190.3L385.4 192.8L391.4 193.4L397.4 193.2L403.4 192.2L409.4 190.7L415.4 193.3L421.4 189.4L427.4 186.8L433.4 186.6L439.4 183.5L445.4 185.8L451.4 187.7L457.4 191.1L463.4 192.0L469.4 193.0L475.4 193.3L481.4 194.8L487.3 196.5L493.3 191.0L499.3 190.2L505.3 185.7L511.3 184.6L517.3 182.3L523.3 184.1L529.3 179.9L535.3 180.0L541.3 179.4L547.3 177.8L553.3 179.6L559.3 176.0L565.3 173.8L571.3 170.3L577.3 168.9L583.3 168.8L589.3 167.1L595.3 175.4L601.3 170.6L607.3 164.7L613.3 153.5L619.2 146.7L625.2 137.7L631.2 115.0L637.2 101.2L643.2 98.7L649.2 82.1L655.2 514.6L661.2 514.6L667.2 514.6L673.2 514.6L679.2 514.6L685.2 514.6"/>
<path d="M91.6 332.6L97.6 332.6L103.6 332.6L109.6 332.6L115.6 332.6L121.6 331.4L127.6 331.0L133.6 330.5L139.6 330.1L145.6 329.6L151.6 329.2L157.6 328.7L163.6 328.3L169.6 326.5L175.6 314.4L181.6 303.0L187.6 292.5L193.6 285.3L199.6 279.9L205.6 269.5L211.6 261.9L217.6 254.9L223.5 249.5L229.5 245.2L235.5 237.6L241.5 233.7L247.5 228.2L253.5 224.3L259.5 222.8L265.5 220.7L271.5 219.8L277.5 215.7L283.5 211.8L289.5 208.4L295.5 205.4L301.5 204.7L307.5 203.9L313.5 202.3L319.5 201.4L325.5 201.0L331.5 199.5L337.5 197.8L343.5 195.6L349.5 192.1L355.4 189.5L361.4 189.1L367.4 187.9L373.4 192.9L379.4 191.9L385.4 194.9L391.4 193.4L397.4 193.4L403.4 191.2L409.4 189.4L415.4 191.8L421.4 192.0L427.4 193.0L433.4 193.3L439.4 193.8L445.4 193.7L451.4 193.1L457.4 191.2L463.4 193.5L469.4 195.8L475.4 200.0L481.4 200.3L487.3 200.9L493.3 201.6L499.3 197.9L505.3 194.7L511.3 192.4L517.3 188.7L523.3 190.6L529.3 190.3L535.3 189.5L541.3 186.5L547.3 184.5L553.3 181.1L559.3 173.8L565.3 167.5L571.3 165.6L577.3 159.5L583.3 159.7L589.3 166.3L595.3 169.9L601.3 176.6L607.3 177.0L613.3 171.6L619.2 168.1L625.2 158.1L631.2 134.6L637.2 121.9L643.2 105.4L649.2 514.6L655.2 514.6L661.2 514.6L667.2 514.6L673.2 514.6L679.2 514.6L685.2 514.6"/>
<path d="M91.6 326.4L97.6 326.4L103.6 326.4L109.6 326.4L115.6 326.4L121.6 325.2L127.6 324.7L133.6 324.3L139.6 323.9L145.6 323.5L151.6 323.0L157.6 322.6L163.6 322.2L169.6 325.3L175.6 316.5L181.6 307.2L187.6 294.3L193.6 286.7L199.6 279.5L205.6 270.3L211.6 263.9L217.6 260.3L223.5 257.4L229.5 249.9L235.5 245.9L241.5 238.3L247.5 231.6L253.5 226.7L259.5 223.5L265.5 222.0L271.5 219.5L277.5 215.2L283.5 214.6L289.5 209.1L295.5 209.2L301.5 208.1L307.5 208.8L313.5 207.6L319.5 206.9L325.5 203.1L331.5 201.5L337.5 199.4L343.5 199.8L349.5 195.7L355.4 196.1L361.4 193.1L367.4 191.1L373.4 189.9L379.4 192.1L385.4 191.4L391.4 192.5L397.4 194.8L403.4 191.5L409.4 194.2L415.4 193.1L421.4 195.4L427.4 196.2L433.4 195.9L439.4 192.9L445.4 191.6L451.4 191.8L457.4 194.0L463.4 195.6L469.4 196.7L475.4 196.1L481.4 195.3L487.3 193.4L493.3 194.9L499.3 193.2L505.3 188.6L511.3 188.9L517.3 189.8L523.3 188.9L529.3 193.0L535.3 193.6L541.3 190.1L547.3 189.3L553.3 184.4L559.3 183.1L565.3 176.1L571.3 172.3L577.3 168.9L583.3 170.8L589.3 170.0L595.3 173.5L601.3 171.7L607.3 166.6L613.3 156.1L619.2 163.9L625.2 175.6L631.2 168.0L637.2 125.5L643.2 100.8L649.2 84.3L655.2 87.7L661.2 514.6L667.2 514.6L673.2 514.6L679.2 514.6L685.2 514.6"/>
<path d="M91.6 319.9L97.6 319.9L103.6 319.9L109.6 319.9L115.6 319.9L121.6 318.6L127.6 318.2L133.6 317.8L139.6 317.4L145.6 317.0L151.6 316.6L157.6 316.2L163.6 315.8L169.6 322.8L175.6 310.3L181.6 301.4L187.6 290.7L193.6 286.5L199.6 279.7L205.6 267.8L211.6 261.5L217.6 256.8L223.5 254.1L229.5 249.3L235.5 245.0L241.5 240.0L247.5 233.5L253.5 228.1L259.5 221.3L265.5 217.1L271.5 212.7L277.5 214.0L283.5 211.3L289.5 209.7L295.5 209.7L301.5 208.7L307.5 205.5L313.5 206.8L319.5 203.4L325.5 201.6L331.5 201.7L337.5 199.7L343.5 201.0L349.5 199.8L355.4 201.0L361.4 196.7L367.4 193.4L373.4 191.6L379.4 191.9L385.4 194.5L391.4 196.0L397.4 198.2L403.4 197.5L409.4 196.5L415.4 195.5L421.4 193.5L427.4 193.1L433.4 193.6L439.4 194.2L445.4 194.9L451.4 195.7L457.4 198.0L463.4 198.7L469.4 194.0L475.4 194.0L481.4 194.6L487.3 194.4L493.3 194.2L499.3 196.6L505.3 192.1L511.3 186.7L517.3 187.4L523.3 186.6L529.3 184.3L535.3 190.4L541.3 185.3L547.3 184.7L553.3 181.0L559.3 182.4L565.3 177.9L571.3 180.6L577.3 187.4L583.3 189.8L589.3 186.8L595.3 189.6L601.3 176.7L607.3 181.4L613.3 165.0L619.2 167.8L625.2 163.1L631.2 143.4L637.2 126.4L643.2 105.7L649.2 514.6L655.2 514.6L661.2 514.6L667.2 514.6L673.2 514.6L679.2 514.6L685.2 514.6"/>
<path d="M91.6 335.9L97.6 335.9L103.6 335.9L109.6 335.9L115.6 335.8L121.6 334.7L127.6 334.3L133.6 333.8L139.6 333.3L145.6 332.9L151.6 332.4L157.6 331.9L163.6 331.5L169.6 329.4L175.6 318.3L181.6 309.1L187.6 299.9L193.6 295.2L199.6 290.7L205.6 280.8L211.6 268.6L217.6 259.7L223.5 252.0L229.5 246.5L235.5 241.4L241.5 236.5L247.5 234.8L253.5 226.9L259.5 223.7L265.5 218.2L271.5 214.6L277.5 212.3L283.5 212.7L289.5 211.8L295.5 209.7L301.5 208.6L307.5 205.9L313.5 204.4L319.5 204.8L325.5 202.3L331.5 202.9L337.5 200.7L343.5 200.7L349.5 199.4L355.4 198.6L361.4 196.1L367.4 195.7L373.4 195.4L379.4 197.2L385.4 198.9L391.4 200.1L397.4 198.9L403.4 200.1L409.4 197.8L415.4 196.7L421.4 196.8L427.4 195.8L433.4 193.7L439.4 192.4L445.4 194.9L451.4 193.0L457.4 191.3L463.4 195.1L469.4 192.9L475.4 193.4L481.4 196.8L487.3 197.8L493.3 201.6L499.3 197.2L505.3 195.2L511.3 193.1L517.3 188.8L523.3 189.0L529.3 185.2L535.3 189.8L541.3 194.0L547.3 193.1L553.3 188.7L559.3 184.2L565.3 185.0L571.3 178.6L577.3 179.2L583.3 178.7L589.3 171.3L595.3 169.6L601.3 168.4L607.3 165.4L613.3 149.3L619.2 148.4L625.2 141.2L631.2 132.2L637.2 105.6L643.2 101.8L649.2 88.6L655.2 514.6L661.2 514.6L667.2 514.6L673.2 514.6L679.2 514.6L685.2 514.6"/>
<path d="M91.6 343.0L97.6 343.0L103.6 343.0L109.6 343.0L115.6 343.0L121.6 342.0L127.6 341.5L133.6 341.0L139.6 340.5L145.6 340.0L151.6 339.5L157.6 339.0L163.6 338.5L169.6 333.4L175.6 321.6L181.6 307.9L187.6 294.4L193.6 288.8L199.6 281.8L205.6 275.0L211.6 270.2L217.6 263.7L223.5 258.9L229.5 253.1L235.5 249.2L241.5 244.2L247.5 238.1L253.5 231.7L259.5 230.0L265.5 224.2L271.5 219.7L277.5 219.7L283.5 215.1L289.5 216.7L295.5 211.7L301.5 211.2L307.5 207.1L313.5 204.8L319.5 206.1L325.5 205.9L331.5 204.9L337.5 204.6L343.5 201.8L349.5 202.4L355.4 201.8L361.4 199.9L367.4 198.0L373.4 196.6L379.4 198.3L385.4 199.3L391.4 199.0L397.4 198.8L403.4 201.0L409.4 195.6L415.4 195.5L421.4 193.7L427.4 193.0L433.4 195.7L439.4 195.4L445.4 198.4L451.4 200.5L457.4 198.8L463.4 200.6L469.4 200.2L475.4 197.9L481.4 197.2L487.3 200.0L493.3 197.4L499.3 197.9L505.3 197.6L511.3 198.2L517.3 197.7L523.3 199.6L529.3 200.4L535.3 196.1L541.3 190.0L547.3 188.1L553.3 183.6L559.3 186.0L565.3 190.3L571.3 193.0L577.3 187.4L583.3 180.0L589.3 180.3L595.3 165.0L601.3 166.0L607.3 172.8L613.3 160.3L619.2 159.4L625.2 169.9L631.2 171.3L637.2 147.8L643.2 119.7L649.2 101.1L655.2 514.6L661.2 514.6L667.2 514.6L673.2 514.6L679.2 514.6L685.2 514.6"/>
<path d="M91.6 343.0L97.6 343.0L103.6 343.0L109.6 343.0L115.6 343.0L121.6 342.0L127.6 341.5L133.6 341.0L139.6 340.5L145.6 340.0L151.6 339.5L157.6 339.0L163.6 338.5L169.6 334.8L175.6 323.2L181.6 310.6L187.6 298.3L193.6 292.4L199.6 289.3L205.6 283.6L211.6 277.2L217.6 268.3L223.5 260.0L229.5 251.1L235.5 242.1L241.5 233.9L247.5 228.8L253.5 229.1L259.5 228.5L265.5 224.1L271.5 221.4L277.5 221.1L283.5 218.7L289.5 217.2L295.5 214.4L301.5 211.6L307.5 209.7L313.5 207.3L319.5 205.0L325.5 203.0L331.5 201.9L337.5 203.4L343.5 200.6L349.5 201.3L355.4 200.2L361.4 201.7L367.4 200.5L373.4 199.8L379.4 201.1L385.4 200.1L391.4 199.1L397.4 200.4L403.4 198.8L409.4 199.3L415.4 198.8L421.4 198.7L427.4 197.8L433.4 195.7L439.4 197.1L445.4 197.3L451.4 199.2L457.4 199.5L463.4 199.8L469.4 199.8L475.4 202.2L481.4 203.0L487.3 200.8L493.3 200.8L499.3 201.2L505.3 197.5L511.3 196.8L517.3 193.3L523.3 192.9L529.3 188.6L535.3 185.9L541.3 184.8L547.3 189.3L553.3 192.9L559.3 190.0L565.3 188.9L571.3 189.7L577.3 179.6L583.3 179.4L589.3 178.7L595.3 172.9L601.3 172.3L607.3 173.8L613.3 161.1L619.2 168.5L625.2 182.6L631.2 514.6L637.2 514.6L643.2 514.6L649.2 514.6L655.2 514.6L661.2 514.6L667.2 514.6L673.2 514.6L679.2 514.6L685.2 514.6"/>
</g>
</g>
<rect x="85.65" y="41.30" width="599.55" height="475.20" fill="none" stroke="#000" stroke-width="1.3"/>
<path d="M85.65 516.50v5.4M205.56 516.50v5.4M325.47 516.50v5.4M445.38 516.50v5.4M565.29 516.50v5.4M685.20 516.50v5.4M85.65 516.40h-5.2M85.65 420.40h-5.2M85.65 326.00h-5.2M85.65 230.00h-5.2M85.65 135.60h-5.2M85.65 41.10h-5.2" stroke="#000" stroke-width="1.3" fill="none"/>
<g class="tk" text-anchor="middle">
<text x="85.0" y="544.1">0.0</text>
<text x="204.9" y="544.1">0.2</text>
<text x="324.8" y="544.1">0.4</text>
<text x="444.7" y="544.1">0.6</text>
<text x="564.6" y="544.1">0.8</text>
<text x="684.9" y="544.1" textLength="33.5" lengthAdjust="spacingAndGlyphs">1.0</text>
</g>
<g class="tk" text-anchor="end">
<text x="73.9" y="525.0">0.0</text>
<text x="73.9" y="429.2">0.2</text>
<text x="73.9" y="334.7">0.4</text>
<text x="73.9" y="239.0">0.6</text>
<text x="73.9" y="144.5">0.8</text>
<text x="73.9" y="48.6" textLength="33.5" lengthAdjust="spacingAndGlyphs">1.0</text>
</g>
<rect x="95.7" y="51.1" width="200.3" height="64.8" rx="3.9" ry="3.9" fill="#fff" fill-opacity="0.8" stroke="#ccc" stroke-opacity="0.8" stroke-width="1.39"/>
<path d="M102.4 65.7h38.9" stroke="#1f77b4" stroke-opacity="0.70" stroke-width="2.78" stroke-dasharray="10.28 4.44" fill="none"/>
<path d="M102.4 95.5h38.9" stroke="#ff7f0e" stroke-opacity="1.00" stroke-width="2.78" stroke-dasharray="10.28 4.44" fill="none"/>
<text class="lg" x="158.7" y="74.5">Standard</text>
<text class="lg" x="158.7" y="103.9">Conservative</text>
<text class="tt" x="342.9" y="32.2" textLength="69.0" lengthAdjust="spacingAndGlyphs">1x-R</text>
<text class="sup" x="413.4" y="20.4">a</text>
<g clip-path="url(#c1)">
<path d="M741.9 183.7L747.9 183.7L753.9 183.7L759.9 183.7L765.9 183.7L772.0 179.5L778.0 177.8L784.0 178.4L790.0 179.6L796.0 182.8L802.0 182.4L808.0 182.6L814.0 181.6L820.0 182.2L826.0 182.3L832.1 182.3L838.1 181.7L844.1 181.6L850.1 180.8L856.1 181.0L862.1 180.6L868.1 180.8L874.1 180.5L880.1 182.9L886.1 181.9L892.1 181.6L898.2 182.8L904.2 183.4L910.2 184.0L916.2 184.7L922.2 185.8L928.2 185.7L934.2 186.2L940.2 186.9L946.2 188.7L952.2 187.3L958.3 189.1L964.3 188.5L970.3 190.6L976.3 191.0L982.3 193.3L988.3 194.5L994.3 196.7L1000.3 197.0L1006.3 196.9L1012.3 198.0L1018.3 199.4L1024.4 198.6L1030.4 200.8L1036.4 201.5L1042.4 204.1L1048.4 205.7L1054.4 207.2L1060.4 208.2L1066.4 211.7L1072.4 211.4L1078.4 212.7L1084.5 216.9L1090.5 217.6L1096.5 219.1L1102.5 220.9L1108.5 227.2L1114.5 230.2L1120.5 234.3L1126.5 236.6L1132.5 242.5L1138.5 245.1L1144.5 248.6L1150.6 249.4L1156.6 251.3L1162.6 254.7L1168.6 255.7L1174.6 259.8L1180.6 261.4L1186.6 265.8L1192.6 269.3L1198.6 271.8L1204.6 273.4L1210.7 275.9L1216.7 278.4L1222.7 279.7L1228.7 282.2L1234.7 283.6L1240.7 284.3L1246.7 288.0L1252.7 290.7L1258.7 291.1L1264.7 295.8L1270.7 300.4L1276.8 304.7L1282.8 309.2L1288.8 319.3L1294.8 331.4L1300.8 345.6L1306.8 379.9L1312.8 417.5L1318.8 470.4L1324.8 512.1L1330.8 516.5L1336.8 516.5L1336.8 516.5L1330.8 516.5L1324.8 516.5L1318.8 516.5L1312.8 516.5L1306.8 516.5L1300.8 516.5L1294.8 516.5L1288.8 516.5L1282.8 516.5L1276.8 516.5L1270.7 516.5L1264.7 516.5L1258.7 516.1L1252.7 512.1L1246.7 506.9L1240.7 500.0L1234.7 492.1L1228.7 478.5L1222.7 463.7L1216.7 444.9L1210.7 425.0L1204.6 405.9L1198.6 386.5L1192.6 374.0L1186.6 361.4L1180.6 352.0L1174.6 344.6L1168.6 335.3L1162.6 325.5L1156.6 317.7L1150.6 314.8L1144.5 307.8L1138.5 300.0L1132.5 295.3L1126.5 289.1L1120.5 285.5L1114.5 281.7L1108.5 274.3L1102.5 265.8L1096.5 259.9L1090.5 256.0L1084.5 251.4L1078.4 249.1L1072.4 244.5L1066.4 239.2L1060.4 237.7L1054.4 235.4L1048.4 233.2L1042.4 232.3L1036.4 229.7L1030.4 228.0L1024.4 226.0L1018.3 225.3L1012.3 224.0L1006.3 222.4L1000.3 221.4L994.3 220.4L988.3 218.9L982.3 217.0L976.3 215.1L970.3 215.1L964.3 211.7L958.3 210.1L952.2 208.9L946.2 208.0L940.2 205.3L934.2 205.0L928.2 205.0L922.2 202.4L916.2 201.9L910.2 200.3L904.2 199.8L898.2 198.6L892.1 200.0L886.1 198.1L880.1 199.2L874.1 199.2L868.1 199.6L862.1 198.4L856.1 199.0L850.1 198.9L844.1 199.8L838.1 198.8L832.1 199.4L826.0 199.9L820.0 200.1L814.0 200.4L808.0 202.2L802.0 203.1L796.0 202.7L790.0 205.2L784.0 208.0L778.0 213.7L772.0 218.0L765.9 222.4L759.9 222.4L753.9 222.4L747.9 222.4L741.9 222.4Z" fill="#1f77b4" fill-opacity="0.4"/>
<path d="M741.9 187.8L747.9 187.8L753.9 187.8L759.9 187.8L765.9 187.8L772.0 185.8L778.0 184.4L784.0 184.4L790.0 184.6L796.0 184.1L802.0 183.5L808.0 183.1L814.0 182.4L820.0 182.2L826.0 181.8L832.1 181.3L838.1 181.7L844.1 181.1L850.1 180.8L856.1 180.4L862.1 179.8L868.1 178.7L874.1 178.1L880.1 177.2L886.1 176.4L892.1 175.9L898.2 175.3L904.2 175.1L910.2 175.0L916.2 174.8L922.2 174.7L928.2 174.7L934.2 174.5L940.2 174.2L946.2 173.6L952.2 173.7L958.3 173.2L964.3 173.0L970.3 172.6L976.3 172.4L982.3 171.9L988.3 171.8L994.3 170.8L1000.3 170.5L1006.3 170.0L1012.3 169.3L1018.3 169.3L1024.4 168.4L1030.4 167.9L1036.4 166.6L1042.4 167.0L1048.4 167.2L1054.4 166.6L1060.4 166.5L1066.4 164.7L1072.4 165.3L1078.4 164.2L1084.5 164.4L1090.5 165.0L1096.5 163.9L1102.5 163.0L1108.5 163.8L1114.5 163.3L1120.5 162.3L1126.5 159.2L1132.5 160.8L1138.5 156.9L1144.5 155.2L1150.6 154.0L1156.6 157.1L1162.6 154.9L1168.6 147.9L1174.6 141.4L1180.6 139.8L1186.6 134.2L1192.6 137.5L1198.6 145.0L1204.6 143.2L1210.7 99.9L1216.7 148.5L1222.7 140.5L1228.7 131.1L1234.7 133.8L1240.7 110.3L1246.7 117.5L1252.7 101.9L1258.7 125.9L1264.7 174.6L1270.7 173.1L1276.8 173.8L1282.8 173.7L1288.8 174.2L1294.8 174.2L1300.8 173.5L1306.8 166.2L1312.8 162.0L1318.8 147.4L1324.8 116.5L1330.8 516.5L1336.8 516.5L1336.8 516.5L1330.8 516.5L1324.8 516.5L1318.8 516.5L1312.8 516.5L1306.8 516.5L1300.8 516.5L1294.8 516.5L1288.8 516.5L1282.8 516.5L1276.8 516.5L1270.7 516.5L1264.7 516.5L1258.7 516.5L1252.7 516.5L1246.7 516.5L1240.7 516.5L1234.7 516.5L1228.7 516.5L1222.7 516.5L1216.7 516.5L1210.7 187.5L1204.6 189.8L1198.6 189.3L1192.6 188.8L1186.6 188.8L1180.6 184.8L1174.6 188.2L1168.6 186.2L1162.6 185.0L1156.6 185.6L1150.6 186.5L1144.5 188.5L1138.5 186.8L1132.5 186.5L1126.5 185.7L1120.5 184.0L1114.5 185.6L1108.5 186.1L1102.5 185.9L1096.5 185.5L1090.5 184.6L1084.5 185.3L1078.4 184.3L1072.4 185.9L1066.4 184.8L1060.4 184.6L1054.4 185.0L1048.4 184.4L1042.4 185.0L1036.4 183.7L1030.4 183.9L1024.4 185.0L1018.3 185.8L1012.3 186.3L1006.3 187.1L1000.3 187.5L994.3 187.8L988.3 188.9L982.3 189.7L976.3 190.4L970.3 191.0L964.3 191.9L958.3 192.7L952.2 193.4L946.2 194.2L940.2 194.9L934.2 195.9L928.2 196.7L922.2 197.4L916.2 198.3L910.2 199.1L904.2 200.1L898.2 201.2L892.1 201.6L886.1 202.3L880.1 203.0L874.1 203.3L868.1 204.2L862.1 204.8L856.1 205.2L850.1 206.0L844.1 206.2L838.1 206.8L832.1 207.3L826.0 207.9L820.0 208.4L814.0 209.0L808.0 210.6L802.0 211.9L796.0 213.5L790.0 214.6L784.0 214.9L778.0 215.1L772.0 216.1L765.9 217.0L759.9 217.0L753.9 217.0L747.9 217.0L741.9 217.0Z" fill="#ff7f0e" fill-opacity="0.4"/>
<g fill="none" stroke="#1f77b4" stroke-width="2.78" stroke-dasharray="10.28 4.44" stroke-opacity="0.70" stroke-linejoin="round">
<path d="M741.9 183.7L747.9 183.7L753.9 183.7L759.9 183.7L765.9 183.7L772.0 179.5L778.0 177.8L784.0 179.0L790.0 180.0L796.0 183.0L802.0 182.4L808.0 182.6L814.0 182.8L820.0 182.2L826.0 182.3L832.1 183.0L838.1 181.8L844.1 182.6L850.1 182.0L856.1 181.3L862.1 181.6L868.1 180.8L874.1 180.5L880.1 183.4L886.1 183.0L892.1 183.9L898.2 182.8L904.2 183.4L910.2 184.4L916.2 185.8L922.2 185.9L928.2 189.5L934.2 188.3L940.2 189.1L946.2 190.0L952.2 188.2L958.3 190.2L964.3 189.1L970.3 190.6L976.3 191.0L982.3 193.3L988.3 194.7L994.3 196.7L1000.3 198.0L1006.3 196.9L1012.3 198.1L1018.3 200.1L1024.4 200.4L1030.4 200.8L1036.4 201.5L1042.4 204.1L1048.4 205.7L1054.4 207.2L1060.4 208.2L1066.4 211.7L1072.4 211.4L1078.4 212.7L1084.5 216.9L1090.5 217.6L1096.5 219.1L1102.5 220.9L1108.5 227.2L1114.5 230.2L1120.5 234.3L1126.5 236.6L1132.5 242.5L1138.5 245.1L1144.5 248.6L1150.6 249.4L1156.6 251.3L1162.6 254.7L1168.6 255.7L1174.6 259.8L1180.6 261.4L1186.6 265.8L1192.6 269.3L1198.6 271.8L1204.6 273.4L1210.7 275.9L1216.7 278.4L1222.7 279.7L1228.7 282.2L1234.7 283.6L1240.7 284.3L1246.7 288.0L1252.7 291.3L1258.7 292.2L1264.7 296.1L1270.7 300.4L1276.8 304.7L1282.8 309.2L1288.8 319.3L1294.8 331.4L1300.8 345.6L1306.8 379.9L1312.8 424.7L1318.8 474.8L1324.8 512.4L1330.8 514.6L1336.8 514.6"/>
<path d="M741.9 193.4L747.9 193.4L753.9 193.4L759.9 193.4L765.9 193.4L772.0 189.2L778.0 182.7L784.0 181.3L790.0 181.3L796.0 184.4L802.0 184.5L808.0 184.9L814.0 185.1L820.0 184.0L826.0 182.7L832.1 182.7L838.1 183.1L844.1 184.2L850.1 184.9L856.1 185.1L862.1 186.0L868.1 184.2L874.1 183.5L880.1 183.6L886.1 183.8L892.1 183.7L898.2 185.4L904.2 186.1L910.2 184.5L916.2 184.7L922.2 185.8L928.2 185.7L934.2 186.2L940.2 186.9L946.2 188.8L952.2 190.6L958.3 194.6L964.3 196.2L970.3 199.1L976.3 199.0L982.3 197.6L988.3 201.7L994.3 203.6L1000.3 207.4L1006.3 208.6L1012.3 209.1L1018.3 209.1L1024.4 206.1L1030.4 204.8L1036.4 204.3L1042.4 204.6L1048.4 207.7L1054.4 210.8L1060.4 216.1L1066.4 217.3L1072.4 219.9L1078.4 219.3L1084.5 220.8L1090.5 223.6L1096.5 230.1L1102.5 232.1L1108.5 234.5L1114.5 235.0L1120.5 238.1L1126.5 238.9L1132.5 244.3L1138.5 247.4L1144.5 254.4L1150.6 259.4L1156.6 264.5L1162.6 264.8L1168.6 264.0L1174.6 265.4L1180.6 264.6L1186.6 266.2L1192.6 270.3L1198.6 273.0L1204.6 281.4L1210.7 285.6L1216.7 288.3L1222.7 290.9L1228.7 292.1L1234.7 292.0L1240.7 292.3L1246.7 291.9L1252.7 290.7L1258.7 291.1L1264.7 295.8L1270.7 305.8L1276.8 316.7L1282.8 326.2L1288.8 338.3L1294.8 350.7L1300.8 362.9L1306.8 388.4L1312.8 424.2L1318.8 473.5L1324.8 512.7L1330.8 514.6L1336.8 514.6"/>
<path d="M741.9 195.7L747.9 195.7L753.9 195.7L759.9 195.7L765.9 195.7L772.0 191.4L778.0 189.4L784.0 186.5L790.0 184.8L796.0 185.6L802.0 184.5L808.0 185.2L814.0 186.1L820.0 185.9L826.0 185.4L832.1 183.6L838.1 183.7L844.1 182.4L850.1 182.3L856.1 184.7L862.1 188.4L868.1 189.2L874.1 190.1L880.1 187.8L886.1 187.3L892.1 188.6L898.2 188.3L904.2 190.2L910.2 191.0L916.2 189.5L922.2 191.7L928.2 191.5L934.2 193.9L940.2 195.6L946.2 197.8L952.2 199.9L958.3 200.0L964.3 201.6L970.3 201.5L976.3 202.2L982.3 201.6L988.3 202.3L994.3 207.5L1000.3 209.1L1006.3 210.1L1012.3 210.6L1018.3 209.1L1024.4 206.3L1030.4 207.5L1036.4 211.5L1042.4 215.4L1048.4 221.7L1054.4 224.0L1060.4 223.1L1066.4 223.0L1072.4 225.0L1078.4 225.7L1084.5 226.2L1090.5 227.2L1096.5 230.4L1102.5 233.8L1108.5 238.0L1114.5 241.7L1120.5 242.2L1126.5 245.2L1132.5 247.1L1138.5 248.8L1144.5 254.3L1150.6 257.1L1156.6 258.7L1162.6 263.7L1168.6 265.2L1174.6 270.4L1180.6 275.3L1186.6 281.6L1192.6 287.2L1198.6 290.9L1204.6 291.6L1210.7 291.5L1216.7 291.8L1222.7 293.2L1228.7 293.5L1234.7 296.4L1240.7 298.1L1246.7 298.0L1252.7 298.3L1258.7 298.9L1264.7 306.1L1270.7 313.7L1276.8 320.3L1282.8 323.4L1288.8 331.3L1294.8 342.3L1300.8 355.0L1306.8 382.3L1312.8 417.5L1318.8 470.4L1324.8 512.1L1330.8 514.6L1336.8 514.6"/>
<path d="M741.9 211.1L747.9 211.1L753.9 211.1L759.9 211.1L765.9 211.1L772.0 206.8L778.0 198.9L784.0 192.6L790.0 191.0L796.0 192.0L802.0 192.5L808.0 192.5L814.0 191.6L820.0 191.8L826.0 191.6L832.1 189.6L838.1 186.7L844.1 187.0L850.1 186.4L856.1 189.9L862.1 190.2L868.1 190.7L874.1 193.3L880.1 193.2L886.1 194.3L892.1 192.9L898.2 190.3L904.2 191.5L910.2 191.2L916.2 195.1L922.2 195.2L928.2 194.4L934.2 193.0L940.2 195.3L946.2 196.1L952.2 196.2L958.3 201.6L964.3 202.8L970.3 204.5L976.3 206.4L982.3 207.3L988.3 209.0L994.3 208.6L1000.3 208.1L1006.3 213.4L1012.3 214.9L1018.3 215.2L1024.4 216.3L1030.4 215.4L1036.4 216.6L1042.4 218.1L1048.4 220.6L1054.4 224.1L1060.4 228.6L1066.4 234.6L1072.4 236.9L1078.4 237.7L1084.5 233.5L1090.5 233.8L1096.5 232.8L1102.5 233.4L1108.5 236.7L1114.5 237.9L1120.5 240.5L1126.5 246.0L1132.5 252.7L1138.5 255.6L1144.5 262.2L1150.6 266.2L1156.6 269.9L1162.6 274.9L1168.6 277.1L1174.6 276.6L1180.6 275.8L1186.6 276.9L1192.6 278.2L1198.6 280.2L1204.6 286.6L1210.7 292.5L1216.7 296.6L1222.7 298.3L1228.7 301.5L1234.7 302.7L1240.7 305.7L1246.7 310.3L1252.7 312.2L1258.7 313.3L1264.7 314.6L1270.7 316.8L1276.8 320.9L1282.8 325.4L1288.8 334.9L1294.8 348.2L1300.8 361.4L1306.8 389.3L1312.8 425.8L1318.8 475.6L1324.8 513.0L1330.8 514.6L1336.8 514.6"/>
<path d="M741.9 212.0L747.9 212.0L753.9 212.0L759.9 212.0L765.9 212.0L772.0 207.7L778.0 201.0L784.0 195.5L790.0 194.9L796.0 197.5L802.0 200.2L808.0 202.2L814.0 200.4L820.0 198.3L826.0 195.5L832.1 191.4L838.1 190.7L844.1 189.8L850.1 189.0L856.1 189.5L862.1 191.5L868.1 192.0L874.1 195.1L880.1 195.0L886.1 195.3L892.1 195.8L898.2 197.4L904.2 198.5L910.2 195.9L916.2 196.2L922.2 195.8L928.2 199.2L934.2 200.7L940.2 204.0L946.2 203.0L952.2 202.9L958.3 203.1L964.3 206.0L970.3 206.0L976.3 209.9L982.3 210.4L988.3 210.5L994.3 211.8L1000.3 215.6L1006.3 218.4L1012.3 218.1L1018.3 219.8L1024.4 219.8L1030.4 215.1L1036.4 214.1L1042.4 214.1L1048.4 218.3L1054.4 222.9L1060.4 226.3L1066.4 228.8L1072.4 229.9L1078.4 229.5L1084.5 229.4L1090.5 232.0L1096.5 233.5L1102.5 237.6L1108.5 243.5L1114.5 249.0L1120.5 253.7L1126.5 259.4L1132.5 265.9L1138.5 270.6L1144.5 274.1L1150.6 278.7L1156.6 280.6L1162.6 281.9L1168.6 279.2L1174.6 280.6L1180.6 281.7L1186.6 284.3L1192.6 291.9L1198.6 298.3L1204.6 300.4L1210.7 304.5L1216.7 300.7L1222.7 300.1L1228.7 300.7L1234.7 302.4L1240.7 303.7L1246.7 305.3L1252.7 309.6L1258.7 314.5L1264.7 322.8L1270.7 328.8L1276.8 330.6L1282.8 330.6L1288.8 338.2L1294.8 349.3L1300.8 364.6L1306.8 395.1L1312.8 432.9L1318.8 479.7L1324.8 513.9L1330.8 514.6L1336.8 514.6"/>
<path d="M741.9 213.6L747.9 213.6L753.9 213.6L759.9 213.6L765.9 213.6L772.0 209.3L778.0 201.5L784.0 195.7L790.0 192.8L796.0 191.4L802.0 190.3L808.0 192.3L814.0 194.7L820.0 197.4L826.0 198.7L832.1 199.4L838.1 198.4L844.1 199.8L850.1 198.9L856.1 198.0L862.1 198.1L868.1 199.6L874.1 199.2L880.1 197.2L886.1 197.3L892.1 195.7L898.2 195.2L904.2 197.4L910.2 199.6L916.2 199.7L922.2 199.0L928.2 199.9L934.2 202.0L940.2 204.0L946.2 203.0L952.2 204.2L958.3 210.1L964.3 211.7L970.3 215.1L976.3 214.2L982.3 214.5L988.3 213.4L994.3 216.9L1000.3 220.8L1006.3 222.4L1012.3 222.0L1018.3 223.7L1024.4 223.1L1030.4 224.8L1036.4 229.7L1042.4 232.3L1048.4 233.2L1054.4 230.5L1060.4 231.5L1066.4 232.1L1072.4 234.1L1078.4 235.4L1084.5 240.8L1090.5 243.4L1096.5 245.3L1102.5 246.3L1108.5 248.6L1114.5 254.3L1120.5 258.4L1126.5 263.1L1132.5 267.1L1138.5 271.5L1144.5 274.2L1150.6 278.0L1156.6 281.6L1162.6 286.0L1168.6 287.8L1174.6 291.3L1180.6 293.3L1186.6 294.1L1192.6 298.7L1198.6 297.1L1204.6 299.1L1210.7 300.6L1216.7 301.8L1222.7 300.0L1228.7 303.3L1234.7 304.3L1240.7 306.0L1246.7 307.0L1252.7 313.1L1258.7 318.0L1264.7 322.3L1270.7 325.6L1276.8 326.7L1282.8 330.7L1288.8 341.2L1294.8 355.6L1300.8 373.9L1306.8 410.0L1312.8 451.8L1318.8 491.8L1324.8 514.6L1330.8 514.6L1336.8 514.6"/>
<path d="M741.9 221.7L747.9 221.7L753.9 221.7L759.9 221.7L765.9 221.7L772.0 217.3L778.0 213.7L784.0 208.0L790.0 205.2L796.0 202.7L802.0 201.7L808.0 199.2L814.0 199.0L820.0 198.7L826.0 197.6L832.1 195.1L838.1 194.6L844.1 193.2L850.1 192.7L856.1 193.6L862.1 193.9L868.1 196.1L874.1 197.3L880.1 199.1L886.1 198.0L892.1 198.8L898.2 197.5L904.2 199.1L910.2 200.1L916.2 201.3L922.2 202.4L928.2 203.0L934.2 203.9L940.2 203.5L946.2 208.0L952.2 208.1L958.3 209.9L964.3 210.8L970.3 213.7L976.3 213.7L982.3 217.0L988.3 218.9L994.3 220.4L1000.3 221.4L1006.3 222.3L1012.3 221.7L1018.3 224.7L1024.4 226.0L1030.4 227.2L1036.4 228.6L1042.4 229.8L1048.4 231.7L1054.4 235.4L1060.4 237.7L1066.4 238.5L1072.4 244.1L1078.4 245.2L1084.5 247.4L1090.5 247.5L1096.5 248.3L1102.5 250.4L1108.5 252.5L1114.5 254.4L1120.5 260.3L1126.5 262.7L1132.5 264.5L1138.5 270.4L1144.5 273.4L1150.6 279.5L1156.6 283.1L1162.6 282.8L1168.6 285.4L1174.6 287.8L1180.6 291.1L1186.6 290.8L1192.6 292.4L1198.6 293.3L1204.6 298.0L1210.7 302.0L1216.7 307.0L1222.7 308.8L1228.7 311.0L1234.7 313.9L1240.7 315.9L1246.7 318.8L1252.7 320.7L1258.7 323.3L1264.7 326.5L1270.7 331.8L1276.8 337.2L1282.8 341.7L1288.8 353.9L1294.8 369.8L1300.8 387.5L1306.8 420.5L1312.8 450.7L1318.8 485.1L1324.8 514.2L1330.8 514.6L1336.8 514.6"/>
<path d="M741.9 183.7L747.9 183.7L753.9 183.7L759.9 183.7L765.9 183.7L772.0 179.5L778.0 178.3L784.0 178.4L790.0 179.6L796.0 182.8L802.0 182.7L808.0 183.4L814.0 181.6L820.0 182.9L826.0 182.4L832.1 182.3L838.1 181.7L844.1 181.6L850.1 180.8L856.1 181.0L862.1 182.7L868.1 182.5L874.1 184.8L880.1 184.8L886.1 181.9L892.1 181.6L898.2 182.9L904.2 183.5L910.2 184.0L916.2 185.0L922.2 185.8L928.2 186.5L934.2 188.0L940.2 187.0L946.2 188.7L952.2 187.3L958.3 189.1L964.3 188.5L970.3 191.3L976.3 192.6L982.3 193.7L988.3 195.5L994.3 199.7L1000.3 200.3L1006.3 199.7L1012.3 199.9L1018.3 200.3L1024.4 198.6L1030.4 202.7L1036.4 202.7L1042.4 205.9L1048.4 210.7L1054.4 212.4L1060.4 214.5L1066.4 217.4L1072.4 221.7L1078.4 225.5L1084.5 228.6L1090.5 229.6L1096.5 231.7L1102.5 239.0L1108.5 243.8L1114.5 250.8L1120.5 255.4L1126.5 261.7L1132.5 268.3L1138.5 277.5L1144.5 283.5L1150.6 288.9L1156.6 295.6L1162.6 302.1L1168.6 309.4L1174.6 315.6L1180.6 322.1L1186.6 329.4L1192.6 338.6L1198.6 349.9L1204.6 357.9L1210.7 367.7L1216.7 382.9L1222.7 400.9L1228.7 420.3L1234.7 440.3L1240.7 462.3L1246.7 484.3L1252.7 500.6L1258.7 510.1L1264.7 514.6L1270.7 514.6L1276.8 514.6L1282.8 514.6L1288.8 514.6L1294.8 514.6L1300.8 514.6L1306.8 514.6L1312.8 514.6L1318.8 514.6L1324.8 514.6L1330.8 514.6L1336.8 514.6"/>
<path d="M741.9 189.7L747.9 189.7L753.9 189.7L759.9 189.7L765.9 189.7L772.0 185.5L778.0 183.8L784.0 183.6L790.0 182.9L796.0 184.3L802.0 183.9L808.0 184.8L814.0 186.3L820.0 187.4L826.0 186.2L832.1 185.8L838.1 182.7L844.1 182.6L850.1 182.4L856.1 181.5L862.1 180.6L868.1 182.3L874.1 181.5L880.1 182.9L886.1 184.3L892.1 185.6L898.2 187.6L904.2 190.0L910.2 190.3L916.2 189.7L922.2 191.9L928.2 193.6L934.2 194.4L940.2 194.9L946.2 194.0L952.2 192.3L958.3 190.4L964.3 190.0L970.3 192.9L976.3 192.2L982.3 194.7L988.3 194.5L994.3 197.2L1000.3 197.0L1006.3 200.1L1012.3 198.0L1018.3 199.4L1024.4 203.1L1030.4 204.5L1036.4 203.0L1042.4 207.8L1048.4 210.7L1054.4 212.1L1060.4 218.0L1066.4 220.5L1072.4 223.0L1078.4 226.3L1084.5 229.2L1090.5 231.9L1096.5 239.7L1102.5 246.7L1108.5 256.5L1114.5 264.1L1120.5 266.2L1126.5 267.7L1132.5 266.6L1138.5 273.5L1144.5 280.7L1150.6 289.5L1156.6 298.2L1162.6 305.9L1168.6 313.3L1174.6 317.0L1180.6 324.4L1186.6 335.2L1192.6 351.0L1198.6 364.3L1204.6 376.2L1210.7 382.0L1216.7 393.1L1222.7 406.5L1228.7 427.7L1234.7 451.5L1240.7 470.9L1246.7 491.0L1252.7 504.3L1258.7 511.2L1264.7 514.6L1270.7 514.6L1276.8 514.6L1282.8 514.6L1288.8 514.6L1294.8 514.6L1300.8 514.6L1306.8 514.6L1312.8 514.6L1318.8 514.6L1324.8 514.6L1330.8 514.6L1336.8 514.6"/>
<path d="M741.9 202.6L747.9 202.6L753.9 202.6L759.9 202.6L765.9 202.6L772.0 198.3L778.0 196.9L784.0 193.3L790.0 192.2L796.0 191.4L802.0 189.9L808.0 187.7L814.0 186.8L820.0 185.7L826.0 185.4L832.1 187.1L838.1 189.0L844.1 188.4L850.1 188.5L856.1 186.8L862.1 187.7L868.1 188.0L874.1 188.6L880.1 186.7L886.1 185.4L892.1 186.3L898.2 185.4L904.2 188.5L910.2 188.0L916.2 189.0L922.2 192.4L928.2 194.0L934.2 197.2L940.2 196.5L946.2 198.8L952.2 197.8L958.3 198.3L964.3 198.2L970.3 201.3L976.3 199.6L982.3 197.1L988.3 197.0L994.3 200.3L1000.3 205.2L1006.3 205.3L1012.3 203.9L1018.3 202.4L1024.4 200.5L1030.4 201.6L1036.4 206.5L1042.4 212.3L1048.4 216.2L1054.4 215.4L1060.4 217.1L1066.4 218.7L1072.4 223.3L1078.4 229.5L1084.5 236.5L1090.5 243.4L1096.5 248.4L1102.5 251.8L1108.5 256.1L1114.5 259.8L1120.5 261.9L1126.5 263.5L1132.5 268.3L1138.5 275.2L1144.5 284.0L1150.6 292.4L1156.6 298.4L1162.6 304.0L1168.6 310.1L1174.6 315.8L1180.6 324.0L1186.6 331.6L1192.6 342.8L1198.6 355.2L1204.6 367.0L1210.7 382.1L1216.7 397.8L1222.7 415.8L1228.7 433.3L1234.7 453.0L1240.7 471.9L1246.7 490.3L1252.7 504.4L1258.7 511.3L1264.7 514.6L1270.7 514.6L1276.8 514.6L1282.8 514.6L1288.8 514.6L1294.8 514.6L1300.8 514.6L1306.8 514.6L1312.8 514.6L1318.8 514.6L1324.8 514.6L1330.8 514.6L1336.8 514.6"/>
<path d="M741.9 206.8L747.9 206.8L753.9 206.8L759.9 206.8L765.9 206.8L772.0 202.5L778.0 197.7L784.0 194.8L790.0 193.5L796.0 192.6L802.0 191.3L808.0 190.4L814.0 189.5L820.0 189.2L826.0 188.0L832.1 186.7L838.1 187.9L844.1 188.2L850.1 187.7L856.1 189.7L862.1 189.3L868.1 189.5L874.1 191.2L880.1 188.8L886.1 189.9L892.1 192.4L898.2 191.9L904.2 191.6L910.2 194.0L916.2 193.6L922.2 193.0L928.2 194.6L934.2 196.8L940.2 198.4L946.2 195.9L952.2 199.2L958.3 200.9L964.3 202.7L970.3 206.2L976.3 204.3L982.3 203.5L988.3 205.2L994.3 206.7L1000.3 210.3L1006.3 212.7L1012.3 212.8L1018.3 212.1L1024.4 209.1L1030.4 210.6L1036.4 214.4L1042.4 216.5L1048.4 218.4L1054.4 220.5L1060.4 222.2L1066.4 223.3L1072.4 227.1L1078.4 232.1L1084.5 235.4L1090.5 238.6L1096.5 243.8L1102.5 251.0L1108.5 259.1L1114.5 266.3L1120.5 268.8L1126.5 270.9L1132.5 275.6L1138.5 283.9L1144.5 291.4L1150.6 298.1L1156.6 306.5L1162.6 313.1L1168.6 319.4L1174.6 327.1L1180.6 333.4L1186.6 339.3L1192.6 347.6L1198.6 358.9L1204.6 369.3L1210.7 385.9L1216.7 404.9L1222.7 426.5L1228.7 447.5L1234.7 472.8L1240.7 485.9L1246.7 498.3L1252.7 507.5L1258.7 512.4L1264.7 514.6L1270.7 514.6L1276.8 514.6L1282.8 514.6L1288.8 514.6L1294.8 514.6L1300.8 514.6L1306.8 514.6L1312.8 514.6L1318.8 514.6L1324.8 514.6L1330.8 514.6L1336.8 514.6"/>
<path d="M741.9 199.2L747.9 199.2L753.9 199.2L759.9 199.2L765.9 199.2L772.0 195.0L778.0 194.5L784.0 194.2L790.0 195.0L796.0 194.9L802.0 194.9L808.0 193.9L814.0 193.2L820.0 194.3L826.0 194.7L832.1 193.9L838.1 194.4L844.1 193.1L850.1 192.8L856.1 191.6L862.1 191.7L868.1 191.9L874.1 188.7L880.1 188.4L886.1 188.0L892.1 188.9L898.2 191.4L904.2 192.3L910.2 195.0L916.2 195.5L922.2 197.2L928.2 200.7L934.2 199.2L940.2 197.7L946.2 199.9L952.2 197.8L958.3 196.4L964.3 197.2L970.3 196.2L976.3 195.0L982.3 199.0L988.3 203.3L994.3 210.3L1000.3 213.0L1006.3 215.5L1012.3 216.6L1018.3 215.3L1024.4 213.3L1030.4 208.5L1036.4 208.3L1042.4 208.7L1048.4 213.1L1054.4 215.7L1060.4 221.6L1066.4 225.7L1072.4 233.6L1078.4 235.6L1084.5 240.3L1090.5 245.1L1096.5 247.4L1102.5 255.5L1108.5 268.2L1114.5 275.8L1120.5 279.1L1126.5 278.2L1132.5 282.2L1138.5 285.0L1144.5 295.1L1150.6 301.4L1156.6 309.1L1162.6 317.8L1168.6 323.9L1174.6 326.6L1180.6 333.6L1186.6 340.8L1192.6 353.6L1198.6 369.3L1204.6 383.4L1210.7 398.3L1216.7 417.8L1222.7 436.6L1228.7 455.5L1234.7 470.7L1240.7 481.5L1246.7 495.4L1252.7 505.1L1258.7 513.0L1264.7 514.6L1270.7 514.6L1276.8 514.6L1282.8 514.6L1288.8 514.6L1294.8 514.6L1300.8 514.6L1306.8 514.6L1312.8 514.6L1318.8 514.6L1324.8 514.6L1330.8 514.6L1336.8 514.6"/>
<path d="M741.9 208.2L747.9 208.2L753.9 208.2L759.9 208.2L765.9 208.2L772.0 203.9L778.0 199.6L784.0 196.4L790.0 196.6L796.0 196.8L802.0 196.1L808.0 194.8L814.0 193.3L820.0 192.9L826.0 192.0L832.1 191.7L838.1 191.9L844.1 191.1L850.1 190.3L856.1 191.8L862.1 191.6L868.1 192.6L874.1 194.0L880.1 192.3L886.1 189.7L892.1 188.9L898.2 190.2L904.2 190.6L910.2 194.1L916.2 195.3L922.2 199.2L928.2 198.4L934.2 202.2L940.2 202.5L946.2 205.3L952.2 203.9L958.3 205.6L964.3 205.0L970.3 205.5L976.3 207.0L982.3 208.2L988.3 209.2L994.3 212.0L1000.3 212.8L1006.3 211.8L1012.3 216.4L1018.3 219.3L1024.4 225.1L1030.4 228.0L1036.4 227.6L1042.4 227.7L1048.4 229.6L1054.4 230.4L1060.4 233.1L1066.4 234.4L1072.4 238.8L1078.4 244.2L1084.5 246.0L1090.5 249.9L1096.5 252.1L1102.5 260.2L1108.5 270.0L1114.5 276.0L1120.5 276.8L1126.5 276.9L1132.5 278.6L1138.5 283.3L1144.5 291.9L1150.6 301.2L1156.6 305.9L1162.6 313.3L1168.6 323.8L1174.6 329.0L1180.6 340.3L1186.6 351.2L1192.6 367.8L1198.6 380.9L1204.6 397.2L1210.7 416.4L1216.7 437.1L1222.7 456.8L1228.7 472.6L1234.7 485.4L1240.7 492.7L1246.7 501.7L1252.7 509.3L1258.7 513.9L1264.7 514.6L1270.7 514.6L1276.8 514.6L1282.8 514.6L1288.8 514.6L1294.8 514.6L1300.8 514.6L1306.8 514.6L1312.8 514.6L1318.8 514.6L1324.8 514.6L1330.8 514.6L1336.8 514.6"/>
<path d="M741.9 215.1L747.9 215.1L753.9 215.1L759.9 215.1L765.9 215.1L772.0 210.8L778.0 209.1L784.0 206.9L790.0 202.7L796.0 199.6L802.0 197.5L808.0 196.2L814.0 196.1L820.0 194.9L826.0 194.5L832.1 194.4L838.1 193.3L844.1 194.6L850.1 194.8L856.1 196.6L862.1 198.4L868.1 198.4L874.1 198.2L880.1 196.8L886.1 196.9L892.1 197.0L898.2 198.6L904.2 198.5L910.2 199.3L916.2 201.9L922.2 201.8L928.2 200.3L934.2 200.3L940.2 199.3L946.2 202.7L952.2 201.1L958.3 206.8L964.3 208.3L970.3 213.2L976.3 215.1L982.3 216.4L988.3 218.7L994.3 219.3L1000.3 218.9L1006.3 219.0L1012.3 222.5L1018.3 223.2L1024.4 222.6L1030.4 222.0L1036.4 222.9L1042.4 223.6L1048.4 225.9L1054.4 226.4L1060.4 231.3L1066.4 236.4L1072.4 244.5L1078.4 249.1L1084.5 251.4L1090.5 256.0L1096.5 259.9L1102.5 265.8L1108.5 274.3L1114.5 281.7L1120.5 285.5L1126.5 288.8L1132.5 294.0L1138.5 298.0L1144.5 301.9L1150.6 309.6L1156.6 314.9L1162.6 323.1L1168.6 328.6L1174.6 335.6L1180.6 344.0L1186.6 353.2L1192.6 364.7L1198.6 379.6L1204.6 397.5L1210.7 418.1L1216.7 438.7L1222.7 454.1L1228.7 469.9L1234.7 485.7L1240.7 495.4L1246.7 504.5L1252.7 511.6L1258.7 514.6L1264.7 514.6L1270.7 514.6L1276.8 514.6L1282.8 514.6L1288.8 514.6L1294.8 514.6L1300.8 514.6L1306.8 514.6L1312.8 514.6L1318.8 514.6L1324.8 514.6L1330.8 514.6L1336.8 514.6"/>
<path d="M741.9 222.4L747.9 222.4L753.9 222.4L759.9 222.4L765.9 222.4L772.0 218.0L778.0 213.0L784.0 207.4L790.0 203.5L796.0 202.7L802.0 203.1L808.0 201.8L814.0 200.4L820.0 200.1L826.0 199.9L832.1 199.1L838.1 198.8L844.1 199.0L850.1 198.7L856.1 199.0L862.1 197.5L868.1 199.2L874.1 198.7L880.1 199.2L886.1 198.1L892.1 200.0L898.2 197.6L904.2 199.8L910.2 200.3L916.2 200.0L922.2 201.8L928.2 205.0L934.2 205.0L940.2 205.3L946.2 207.2L952.2 208.9L958.3 209.7L964.3 211.7L970.3 211.8L976.3 211.9L982.3 212.8L988.3 213.2L994.3 217.4L1000.3 219.5L1006.3 222.4L1012.3 224.0L1018.3 225.3L1024.4 224.5L1030.4 225.3L1036.4 227.1L1042.4 231.4L1048.4 232.2L1054.4 234.6L1060.4 237.0L1066.4 239.2L1072.4 243.3L1078.4 244.6L1084.5 248.6L1090.5 248.3L1096.5 251.5L1102.5 258.8L1108.5 270.9L1114.5 279.3L1120.5 285.1L1126.5 289.1L1132.5 295.3L1138.5 300.0L1144.5 307.8L1150.6 314.8L1156.6 317.7L1162.6 325.5L1168.6 335.3L1174.6 344.6L1180.6 352.0L1186.6 361.4L1192.6 374.0L1198.6 386.5L1204.6 405.9L1210.7 425.0L1216.7 444.9L1222.7 463.7L1228.7 478.5L1234.7 492.1L1240.7 500.0L1246.7 506.9L1252.7 512.1L1258.7 514.6L1264.7 514.6L1270.7 514.6L1276.8 514.6L1282.8 514.6L1288.8 514.6L1294.8 514.6L1300.8 514.6L1306.8 514.6L1312.8 514.6L1318.8 514.6L1324.8 514.6L1330.8 514.6L1336.8 514.6"/>
</g>
<g fill="none" stroke="#ff7f0e" stroke-width="2.78" stroke-dasharray="10.28 4.44" stroke-opacity="0.70" stroke-linejoin="round">
<path d="M741.9 188.6L747.9 188.6L753.9 188.6L759.9 188.6L765.9 188.6L772.0 186.6L778.0 185.6L784.0 186.0L790.0 185.8L796.0 185.3L802.0 184.3L808.0 183.3L814.0 182.7L820.0 182.8L826.0 182.5L832.1 182.2L838.1 181.7L844.1 181.1L850.1 180.8L856.1 180.4L862.1 179.8L868.1 178.7L874.1 178.1L880.1 177.2L886.1 176.4L892.1 175.9L898.2 175.3L904.2 175.1L910.2 175.0L916.2 174.8L922.2 174.7L928.2 175.1L934.2 174.9L940.2 174.5L946.2 174.2L952.2 173.8L958.3 173.2L964.3 173.0L970.3 172.6L976.3 172.4L982.3 171.9L988.3 171.8L994.3 170.8L1000.3 170.5L1006.3 170.0L1012.3 169.3L1018.3 169.3L1024.4 168.4L1030.4 167.9L1036.4 167.8L1042.4 167.0L1048.4 167.5L1054.4 166.8L1060.4 166.5L1066.4 164.7L1072.4 165.3L1078.4 164.2L1084.5 164.4L1090.5 165.0L1096.5 163.9L1102.5 163.0L1108.5 163.8L1114.5 163.3L1120.5 163.9L1126.5 159.2L1132.5 161.4L1138.5 156.9L1144.5 155.2L1150.6 154.0L1156.6 157.1L1162.6 154.9L1168.6 147.9L1174.6 141.4L1180.6 139.8L1186.6 134.2L1192.6 137.5L1198.6 145.0L1204.6 143.2L1210.7 99.9L1216.7 514.6L1222.7 514.6L1228.7 514.6L1234.7 514.6L1240.7 514.6L1246.7 514.6L1252.7 514.6L1258.7 514.6L1264.7 514.6L1270.7 514.6L1276.8 514.6L1282.8 514.6L1288.8 514.6L1294.8 514.6L1300.8 514.6L1306.8 514.6L1312.8 514.6L1318.8 514.6L1324.8 514.6L1330.8 514.6L1336.8 514.6"/>
<path d="M741.9 187.8L747.9 187.8L753.9 187.8L759.9 187.8L765.9 187.8L772.0 185.8L778.0 184.4L784.0 184.4L790.0 184.6L796.0 184.1L802.0 183.5L808.0 183.1L814.0 183.1L820.0 183.3L826.0 183.1L832.1 182.7L838.1 182.0L844.1 182.0L850.1 181.7L856.1 182.0L862.1 182.2L868.1 181.9L874.1 181.6L880.1 181.4L886.1 180.8L892.1 180.0L898.2 178.6L904.2 177.5L910.2 176.6L916.2 175.7L922.2 174.7L928.2 174.7L934.2 174.5L940.2 174.2L946.2 173.6L952.2 173.7L958.3 173.7L964.3 173.3L970.3 173.4L976.3 172.8L982.3 172.1L988.3 172.0L994.3 171.5L1000.3 171.2L1006.3 170.5L1012.3 170.5L1018.3 169.4L1024.4 169.2L1030.4 168.3L1036.4 168.2L1042.4 168.3L1048.4 167.5L1054.4 167.3L1060.4 167.2L1066.4 167.2L1072.4 167.3L1078.4 167.1L1084.5 167.0L1090.5 166.1L1096.5 165.2L1102.5 163.9L1108.5 164.7L1114.5 164.0L1120.5 162.3L1126.5 165.8L1132.5 160.8L1138.5 163.5L1144.5 163.6L1150.6 162.3L1156.6 158.3L1162.6 159.4L1168.6 158.5L1174.6 159.0L1180.6 157.8L1186.6 154.1L1192.6 154.3L1198.6 152.1L1204.6 152.5L1210.7 150.6L1216.7 148.5L1222.7 140.5L1228.7 131.1L1234.7 133.8L1240.7 110.3L1246.7 117.5L1252.7 101.9L1258.7 514.6L1264.7 514.6L1270.7 514.6L1276.8 514.6L1282.8 514.6L1288.8 514.6L1294.8 514.6L1300.8 514.6L1306.8 514.6L1312.8 514.6L1318.8 514.6L1324.8 514.6L1330.8 514.6L1336.8 514.6"/>
<path d="M741.9 194.2L747.9 194.2L753.9 194.2L759.9 194.2L765.9 194.2L772.0 192.4L778.0 190.9L784.0 190.2L790.0 189.0L796.0 187.8L802.0 186.6L808.0 185.9L814.0 185.7L820.0 185.7L826.0 186.0L832.1 185.8L838.1 185.6L844.1 185.0L850.1 184.8L856.1 184.9L862.1 184.1L868.1 183.6L874.1 183.2L880.1 182.7L886.1 182.4L892.1 181.6L898.2 180.8L904.2 180.4L910.2 179.4L916.2 179.0L922.2 178.0L928.2 178.3L934.2 177.8L940.2 178.0L946.2 177.8L952.2 177.5L958.3 177.5L964.3 177.2L970.3 176.6L976.3 176.4L982.3 175.8L988.3 174.5L994.3 173.1L1000.3 172.2L1006.3 171.4L1012.3 170.3L1018.3 169.7L1024.4 168.8L1030.4 168.1L1036.4 166.6L1042.4 168.2L1048.4 167.2L1054.4 167.8L1060.4 167.4L1066.4 167.7L1072.4 167.8L1078.4 168.8L1084.5 168.6L1090.5 167.9L1096.5 168.9L1102.5 166.9L1108.5 167.6L1114.5 166.4L1120.5 167.9L1126.5 165.8L1132.5 166.3L1138.5 167.2L1144.5 161.6L1150.6 167.3L1156.6 164.5L1162.6 163.3L1168.6 160.5L1174.6 163.5L1180.6 160.6L1186.6 164.4L1192.6 163.7L1198.6 167.4L1204.6 162.6L1210.7 165.3L1216.7 165.8L1222.7 168.1L1228.7 160.9L1234.7 159.4L1240.7 146.0L1246.7 127.8L1252.7 108.6L1258.7 125.9L1264.7 514.6L1270.7 514.6L1276.8 514.6L1282.8 514.6L1288.8 514.6L1294.8 514.6L1300.8 514.6L1306.8 514.6L1312.8 514.6L1318.8 514.6L1324.8 514.6L1330.8 514.6L1336.8 514.6"/>
<path d="M741.9 195.2L747.9 195.2L753.9 195.2L759.9 195.2L765.9 195.2L772.0 193.5L778.0 191.4L784.0 190.5L790.0 188.9L796.0 187.0L802.0 185.0L808.0 183.4L814.0 182.4L820.0 182.2L826.0 181.8L832.1 181.3L838.1 181.7L844.1 182.1L850.1 182.7L856.1 183.1L862.1 182.8L868.1 183.0L874.1 182.1L880.1 181.5L886.1 180.7L892.1 179.7L898.2 178.8L904.2 178.5L910.2 178.3L916.2 178.3L922.2 178.2L928.2 178.0L934.2 178.0L940.2 177.6L946.2 177.3L952.2 176.8L958.3 176.7L964.3 176.3L970.3 176.2L976.3 176.0L982.3 175.7L988.3 175.4L994.3 175.2L1000.3 174.9L1006.3 174.4L1012.3 173.0L1018.3 171.9L1024.4 170.9L1030.4 170.8L1036.4 169.4L1042.4 168.2L1048.4 168.2L1054.4 166.6L1060.4 167.4L1066.4 167.6L1072.4 167.8L1078.4 167.2L1084.5 168.9L1090.5 169.6L1096.5 167.3L1102.5 168.6L1108.5 169.2L1114.5 170.5L1120.5 167.6L1126.5 166.3L1132.5 166.9L1138.5 169.4L1144.5 166.6L1150.6 166.7L1156.6 168.9L1162.6 162.4L1168.6 162.3L1174.6 167.7L1180.6 167.9L1186.6 164.2L1192.6 168.1L1198.6 167.1L1204.6 167.2L1210.7 164.4L1216.7 164.8L1222.7 163.6L1228.7 168.8L1234.7 168.0L1240.7 156.5L1246.7 146.1L1252.7 117.4L1258.7 150.8L1264.7 514.6L1270.7 514.6L1276.8 514.6L1282.8 514.6L1288.8 514.6L1294.8 514.6L1300.8 514.6L1306.8 514.6L1312.8 514.6L1318.8 514.6L1324.8 514.6L1330.8 514.6L1336.8 514.6"/>
<path d="M741.9 196.9L747.9 196.9L753.9 196.9L759.9 196.9L765.9 196.9L772.0 195.2L778.0 194.0L784.0 193.5L790.0 192.2L796.0 190.8L802.0 189.3L808.0 187.8L814.0 186.7L820.0 186.4L826.0 186.0L832.1 185.0L838.1 184.2L844.1 183.5L850.1 183.5L856.1 183.3L862.1 182.9L868.1 182.8L874.1 182.6L880.1 182.5L886.1 181.8L892.1 181.6L898.2 181.4L904.2 181.2L910.2 180.6L916.2 180.2L922.2 179.9L928.2 179.7L934.2 179.4L940.2 179.1L946.2 178.6L952.2 177.9L958.3 177.6L964.3 177.4L970.3 177.2L976.3 177.1L982.3 176.8L988.3 176.5L994.3 175.5L1000.3 174.4L1006.3 173.8L1012.3 171.9L1018.3 171.4L1024.4 170.9L1030.4 170.4L1036.4 170.1L1042.4 169.8L1048.4 169.5L1054.4 170.4L1060.4 170.3L1066.4 171.2L1072.4 170.5L1078.4 170.7L1084.5 168.7L1090.5 170.4L1096.5 168.8L1102.5 168.1L1108.5 168.3L1114.5 169.1L1120.5 171.1L1126.5 170.6L1132.5 167.8L1138.5 169.3L1144.5 168.7L1150.6 166.1L1156.6 166.5L1162.6 164.3L1168.6 165.7L1174.6 163.5L1180.6 165.3L1186.6 164.6L1192.6 164.3L1198.6 163.6L1204.6 167.4L1210.7 164.1L1216.7 165.9L1222.7 168.1L1228.7 176.4L1234.7 176.0L1240.7 168.9L1246.7 142.5L1252.7 105.8L1258.7 139.2L1264.7 514.6L1270.7 514.6L1276.8 514.6L1282.8 514.6L1288.8 514.6L1294.8 514.6L1300.8 514.6L1306.8 514.6L1312.8 514.6L1318.8 514.6L1324.8 514.6L1330.8 514.6L1336.8 514.6"/>
<path d="M741.9 196.7L747.9 196.7L753.9 196.7L759.9 196.7L765.9 196.7L772.0 195.0L778.0 193.8L784.0 193.3L790.0 193.2L796.0 192.2L802.0 191.4L808.0 190.1L814.0 189.6L820.0 189.0L826.0 188.6L832.1 187.6L838.1 187.2L844.1 186.5L850.1 186.3L856.1 185.9L862.1 185.8L868.1 185.6L874.1 185.1L880.1 184.7L886.1 184.3L892.1 184.0L898.2 183.5L904.2 183.4L910.2 183.2L916.2 183.0L922.2 182.7L928.2 182.3L934.2 182.1L940.2 181.2L946.2 180.4L952.2 179.4L958.3 179.0L964.3 178.4L970.3 178.0L976.3 178.0L982.3 177.3L988.3 177.0L994.3 176.7L1000.3 176.2L1006.3 174.9L1012.3 174.2L1018.3 173.1L1024.4 171.5L1030.4 170.3L1036.4 169.7L1042.4 170.7L1048.4 170.3L1054.4 169.6L1060.4 170.2L1066.4 170.4L1072.4 170.4L1078.4 170.5L1084.5 171.8L1090.5 169.5L1096.5 170.1L1102.5 169.1L1108.5 169.0L1114.5 168.5L1120.5 168.9L1126.5 168.1L1132.5 168.7L1138.5 168.5L1144.5 166.9L1150.6 171.4L1156.6 166.7L1162.6 169.6L1168.6 172.9L1174.6 168.8L1180.6 173.1L1186.6 173.7L1192.6 171.7L1198.6 167.1L1204.6 173.9L1210.7 171.1L1216.7 170.1L1222.7 174.9L1228.7 171.6L1234.7 176.9L1240.7 174.5L1246.7 177.7L1252.7 174.5L1258.7 176.1L1264.7 174.6L1270.7 173.9L1276.8 175.0L1282.8 173.7L1288.8 174.2L1294.8 176.5L1300.8 173.5L1306.8 166.2L1312.8 162.0L1318.8 147.4L1324.8 116.5L1330.8 514.6L1336.8 514.6"/>
<path d="M741.9 201.9L747.9 201.9L753.9 201.9L759.9 201.9L765.9 201.9L772.0 200.3L778.0 199.0L784.0 198.7L790.0 198.0L796.0 196.9L802.0 195.4L808.0 194.4L814.0 193.1L820.0 192.6L826.0 191.6L832.1 190.8L838.1 190.0L844.1 189.0L850.1 188.1L856.1 187.0L862.1 185.8L868.1 184.8L874.1 183.9L880.1 182.9L886.1 182.1L892.1 181.8L898.2 181.9L904.2 182.2L910.2 182.9L916.2 183.6L922.2 184.0L928.2 184.0L934.2 183.7L940.2 182.8L946.2 182.1L952.2 181.4L958.3 180.2L964.3 179.8L970.3 179.2L976.3 178.6L982.3 178.6L988.3 177.9L994.3 177.7L1000.3 177.5L1006.3 176.9L1012.3 176.0L1018.3 174.7L1024.4 174.8L1030.4 173.2L1036.4 172.7L1042.4 172.5L1048.4 172.1L1054.4 172.0L1060.4 172.0L1066.4 171.6L1072.4 173.8L1078.4 172.2L1084.5 171.4L1090.5 171.8L1096.5 170.8L1102.5 173.7L1108.5 172.1L1114.5 173.1L1120.5 173.1L1126.5 171.9L1132.5 171.7L1138.5 170.0L1144.5 170.8L1150.6 170.0L1156.6 170.9L1162.6 169.6L1168.6 173.1L1174.6 172.5L1180.6 171.4L1186.6 168.8L1192.6 173.8L1198.6 174.5L1204.6 172.5L1210.7 169.8L1216.7 173.5L1222.7 174.8L1228.7 168.4L1234.7 174.2L1240.7 169.2L1246.7 173.6L1252.7 177.5L1258.7 174.0L1264.7 175.1L1270.7 173.1L1276.8 173.8L1282.8 178.6L1288.8 177.6L1294.8 174.2L1300.8 174.3L1306.8 172.2L1312.8 168.3L1318.8 149.3L1324.8 128.2L1330.8 514.6L1336.8 514.6"/>
<path d="M741.9 202.9L747.9 202.9L753.9 202.9L759.9 202.9L765.9 202.9L772.0 201.5L778.0 199.7L784.0 199.0L790.0 197.7L796.0 195.9L802.0 194.0L808.0 192.7L814.0 191.5L820.0 191.1L826.0 190.4L832.1 189.8L838.1 189.4L844.1 189.2L850.1 189.4L856.1 189.4L862.1 189.2L868.1 188.8L874.1 189.0L880.1 188.7L886.1 188.4L892.1 188.6L898.2 188.6L904.2 188.9L910.2 188.8L916.2 187.9L922.2 187.3L928.2 186.2L934.2 185.2L940.2 184.0L946.2 182.7L952.2 181.9L958.3 181.2L964.3 180.8L970.3 180.5L976.3 180.6L982.3 180.4L988.3 180.0L994.3 179.6L1000.3 178.9L1006.3 177.7L1012.3 176.9L1018.3 176.6L1024.4 175.2L1030.4 175.3L1036.4 173.9L1042.4 173.6L1048.4 174.2L1054.4 174.5L1060.4 173.7L1066.4 174.4L1072.4 174.4L1078.4 174.2L1084.5 173.0L1090.5 172.8L1096.5 171.4L1102.5 172.7L1108.5 172.9L1114.5 174.0L1120.5 170.8L1126.5 170.8L1132.5 170.0L1138.5 172.3L1144.5 168.0L1150.6 169.1L1156.6 174.0L1162.6 172.1L1168.6 169.0L1174.6 171.7L1180.6 173.9L1186.6 173.6L1192.6 172.2L1198.6 171.1L1204.6 174.5L1210.7 172.9L1216.7 175.1L1222.7 174.8L1228.7 173.9L1234.7 179.3L1240.7 176.2L1246.7 179.3L1252.7 177.7L1258.7 179.1L1264.7 179.2L1270.7 177.4L1276.8 178.7L1282.8 180.8L1288.8 181.6L1294.8 180.3L1300.8 176.5L1306.8 176.8L1312.8 166.5L1318.8 153.4L1324.8 126.0L1330.8 514.6L1336.8 514.6"/>
<path d="M741.9 204.7L747.9 204.7L753.9 204.7L759.9 204.7L765.9 204.7L772.0 203.3L778.0 201.9L784.0 201.4L790.0 200.4L796.0 199.1L802.0 198.1L808.0 197.1L814.0 196.4L820.0 196.3L826.0 196.2L832.1 196.4L838.1 196.1L844.1 195.9L850.1 195.2L856.1 194.6L862.1 193.5L868.1 192.7L874.1 191.8L880.1 191.1L886.1 190.2L892.1 189.7L898.2 189.1L904.2 188.6L910.2 188.1L916.2 187.5L922.2 186.3L928.2 185.5L934.2 184.4L940.2 183.6L946.2 182.4L952.2 181.6L958.3 180.7L964.3 180.4L970.3 179.9L976.3 179.0L982.3 179.0L988.3 178.5L994.3 177.5L1000.3 177.2L1006.3 176.7L1012.3 175.9L1018.3 175.4L1024.4 173.8L1030.4 174.3L1036.4 174.1L1042.4 173.8L1048.4 173.4L1054.4 173.7L1060.4 173.5L1066.4 174.7L1072.4 174.5L1078.4 175.6L1084.5 173.9L1090.5 175.3L1096.5 173.7L1102.5 174.1L1108.5 173.3L1114.5 174.9L1120.5 174.3L1126.5 175.0L1132.5 176.0L1138.5 173.9L1144.5 174.5L1150.6 175.2L1156.6 173.7L1162.6 172.8L1168.6 174.4L1174.6 175.1L1180.6 176.2L1186.6 176.8L1192.6 174.3L1198.6 176.8L1204.6 178.7L1210.7 175.1L1216.7 176.9L1222.7 174.8L1228.7 176.8L1234.7 180.6L1240.7 177.6L1246.7 175.5L1252.7 178.9L1258.7 179.3L1264.7 181.9L1270.7 176.4L1276.8 177.6L1282.8 180.1L1288.8 177.2L1294.8 183.3L1300.8 176.3L1306.8 175.9L1312.8 167.0L1318.8 152.8L1324.8 131.4L1330.8 514.6L1336.8 514.6"/>
<path d="M741.9 206.3L747.9 206.3L753.9 206.3L759.9 206.3L765.9 206.3L772.0 204.9L778.0 203.5L784.0 202.8L790.0 201.6L796.0 200.1L802.0 198.2L808.0 196.5L814.0 195.0L820.0 194.1L826.0 193.2L832.1 192.9L838.1 192.2L844.1 192.5L850.1 192.8L856.1 193.2L862.1 193.5L868.1 193.4L874.1 193.3L880.1 192.8L886.1 191.9L892.1 191.1L898.2 189.8L904.2 188.7L910.2 188.0L916.2 187.3L922.2 187.1L928.2 186.5L934.2 186.4L940.2 186.0L946.2 185.7L952.2 184.9L958.3 184.4L964.3 183.7L970.3 182.9L976.3 182.3L982.3 181.6L988.3 181.3L994.3 180.5L1000.3 179.8L1006.3 179.2L1012.3 178.3L1018.3 177.7L1024.4 177.1L1030.4 177.0L1036.4 177.2L1042.4 176.2L1048.4 177.5L1054.4 178.6L1060.4 177.8L1066.4 178.6L1072.4 179.0L1078.4 179.6L1084.5 178.8L1090.5 177.7L1096.5 177.6L1102.5 177.6L1108.5 176.6L1114.5 178.0L1120.5 176.4L1126.5 174.7L1132.5 175.0L1138.5 176.2L1144.5 176.3L1150.6 177.8L1156.6 177.4L1162.6 179.5L1168.6 177.9L1174.6 179.1L1180.6 174.9L1186.6 175.3L1192.6 177.2L1198.6 175.9L1204.6 176.8L1210.7 176.0L1216.7 174.3L1222.7 179.8L1228.7 179.2L1234.7 174.1L1240.7 176.9L1246.7 178.9L1252.7 180.6L1258.7 179.2L1264.7 176.3L1270.7 180.4L1276.8 177.8L1282.8 181.0L1288.8 179.0L1294.8 180.4L1300.8 180.0L1306.8 177.1L1312.8 166.6L1318.8 153.9L1324.8 129.7L1330.8 514.6L1336.8 514.6"/>
<path d="M741.9 209.1L747.9 209.1L753.9 209.1L759.9 209.1L765.9 209.1L772.0 207.8L778.0 205.8L784.0 204.8L790.0 203.3L796.0 201.2L802.0 199.8L808.0 198.2L814.0 196.9L820.0 196.7L826.0 196.5L832.1 196.2L838.1 196.6L844.1 196.5L850.1 196.6L856.1 196.2L862.1 196.2L868.1 195.6L874.1 195.2L880.1 194.3L886.1 194.3L892.1 194.0L898.2 193.8L904.2 193.0L910.2 192.9L916.2 192.2L922.2 190.9L928.2 190.1L934.2 189.1L940.2 188.2L946.2 186.9L952.2 186.0L958.3 185.0L964.3 184.2L970.3 183.3L976.3 182.8L982.3 182.0L988.3 180.8L994.3 180.5L1000.3 179.1L1006.3 178.3L1012.3 177.8L1018.3 176.6L1024.4 176.1L1030.4 175.9L1036.4 175.9L1042.4 175.5L1048.4 175.7L1054.4 177.0L1060.4 177.4L1066.4 177.4L1072.4 177.1L1078.4 177.8L1084.5 177.0L1090.5 175.7L1096.5 176.7L1102.5 176.7L1108.5 177.0L1114.5 175.3L1120.5 175.5L1126.5 176.7L1132.5 175.6L1138.5 176.2L1144.5 177.7L1150.6 176.9L1156.6 179.1L1162.6 176.7L1168.6 179.2L1174.6 178.6L1180.6 180.6L1186.6 177.4L1192.6 177.5L1198.6 180.4L1204.6 176.8L1210.7 176.9L1216.7 178.6L1222.7 179.1L1228.7 175.8L1234.7 180.3L1240.7 180.0L1246.7 181.6L1252.7 183.0L1258.7 182.9L1264.7 186.1L1270.7 183.9L1276.8 181.7L1282.8 182.0L1288.8 183.6L1294.8 182.4L1300.8 182.7L1306.8 176.3L1312.8 168.9L1318.8 156.0L1324.8 129.6L1330.8 514.6L1336.8 514.6"/>
<path d="M741.9 209.0L747.9 209.0L753.9 209.0L759.9 209.0L765.9 209.0L772.0 207.8L778.0 205.9L784.0 204.5L790.0 203.5L796.0 202.1L802.0 201.2L808.0 200.3L814.0 199.7L820.0 199.5L826.0 199.1L832.1 199.2L838.1 198.7L844.1 198.2L850.1 198.0L856.1 197.2L862.1 196.5L868.1 196.4L874.1 195.7L880.1 195.0L886.1 194.6L892.1 194.2L898.2 193.4L904.2 193.2L910.2 192.8L916.2 192.0L922.2 191.0L928.2 190.2L934.2 189.1L940.2 188.3L946.2 187.4L952.2 186.6L958.3 186.0L964.3 186.1L970.3 185.5L976.3 185.1L982.3 185.0L988.3 185.0L994.3 184.5L1000.3 183.3L1006.3 182.6L1012.3 181.9L1018.3 180.4L1024.4 179.2L1030.4 178.8L1036.4 179.3L1042.4 179.4L1048.4 179.7L1054.4 180.9L1060.4 182.2L1066.4 182.4L1072.4 181.9L1078.4 183.2L1084.5 180.9L1090.5 181.1L1096.5 179.7L1102.5 181.1L1108.5 180.2L1114.5 178.5L1120.5 179.3L1126.5 182.3L1132.5 180.9L1138.5 180.0L1144.5 180.7L1150.6 176.7L1156.6 177.4L1162.6 176.1L1168.6 176.7L1174.6 177.6L1180.6 179.5L1186.6 180.8L1192.6 181.1L1198.6 183.3L1204.6 178.5L1210.7 179.6L1216.7 180.9L1222.7 178.1L1228.7 179.7L1234.7 181.8L1240.7 179.7L1246.7 183.3L1252.7 185.5L1258.7 181.0L1264.7 179.1L1270.7 183.1L1276.8 180.3L1282.8 183.2L1288.8 182.0L1294.8 183.9L1300.8 185.9L1306.8 183.0L1312.8 173.7L1318.8 157.2L1324.8 132.1L1330.8 514.6L1336.8 514.6"/>
<path d="M741.9 215.7L747.9 215.7L753.9 215.7L759.9 215.7L765.9 215.7L772.0 214.7L778.0 212.8L784.0 210.8L790.0 209.3L796.0 206.7L802.0 205.1L808.0 203.5L814.0 202.3L820.0 201.9L826.0 201.1L832.1 200.4L838.1 199.9L844.1 199.2L850.1 198.9L856.1 198.4L862.1 198.1L868.1 197.8L874.1 197.3L880.1 197.2L886.1 196.3L892.1 196.0L898.2 195.4L904.2 194.5L910.2 193.5L916.2 192.8L922.2 191.6L928.2 190.4L934.2 189.6L940.2 189.0L946.2 187.8L952.2 187.3L958.3 186.6L964.3 185.7L970.3 185.3L976.3 184.5L982.3 184.1L988.3 183.4L994.3 183.0L1000.3 181.6L1006.3 181.0L1012.3 180.1L1018.3 179.5L1024.4 177.8L1030.4 177.5L1036.4 178.0L1042.4 178.7L1048.4 179.3L1054.4 179.7L1060.4 181.0L1066.4 180.3L1072.4 180.1L1078.4 179.1L1084.5 179.7L1090.5 179.4L1096.5 179.4L1102.5 178.9L1108.5 179.9L1114.5 181.3L1120.5 179.2L1126.5 178.1L1132.5 181.9L1138.5 182.4L1144.5 181.5L1150.6 181.4L1156.6 185.6L1162.6 181.8L1168.6 180.7L1174.6 182.4L1180.6 184.6L1186.6 182.7L1192.6 183.1L1198.6 184.2L1204.6 182.5L1210.7 183.6L1216.7 183.2L1222.7 181.1L1228.7 184.0L1234.7 182.0L1240.7 187.4L1246.7 184.1L1252.7 186.3L1258.7 183.6L1264.7 187.1L1270.7 184.3L1276.8 189.7L1282.8 186.3L1288.8 187.6L1294.8 182.3L1300.8 183.1L1306.8 183.0L1312.8 173.6L1318.8 162.5L1324.8 135.2L1330.8 514.6L1336.8 514.6"/>
<path d="M741.9 215.0L747.9 215.0L753.9 215.0L759.9 215.0L765.9 215.0L772.0 214.0L778.0 212.8L784.0 212.0L790.0 211.4L796.0 210.0L802.0 208.5L808.0 207.1L814.0 206.4L820.0 206.2L826.0 206.2L832.1 205.8L838.1 205.6L844.1 204.5L850.1 203.7L856.1 203.1L862.1 202.0L868.1 201.4L874.1 200.7L880.1 199.9L886.1 199.9L892.1 199.8L898.2 199.4L904.2 198.7L910.2 198.3L916.2 197.0L922.2 196.0L928.2 194.9L934.2 193.4L940.2 192.1L946.2 191.2L952.2 190.4L958.3 189.6L964.3 189.1L970.3 188.9L976.3 188.4L982.3 187.9L988.3 187.3L994.3 186.8L1000.3 186.0L1006.3 184.9L1012.3 183.5L1018.3 182.9L1024.4 181.9L1030.4 181.6L1036.4 182.2L1042.4 182.4L1048.4 182.5L1054.4 182.4L1060.4 182.1L1066.4 182.3L1072.4 181.4L1078.4 181.0L1084.5 180.2L1090.5 180.5L1096.5 180.5L1102.5 182.3L1108.5 181.6L1114.5 181.2L1120.5 183.0L1126.5 182.0L1132.5 184.1L1138.5 184.1L1144.5 186.0L1150.6 181.4L1156.6 182.8L1162.6 182.8L1168.6 183.8L1174.6 185.3L1180.6 183.2L1186.6 184.5L1192.6 187.2L1198.6 189.3L1204.6 185.7L1210.7 185.2L1216.7 191.2L1222.7 190.7L1228.7 191.5L1234.7 187.4L1240.7 189.4L1246.7 190.5L1252.7 191.1L1258.7 190.0L1264.7 190.1L1270.7 190.8L1276.8 187.0L1282.8 186.7L1288.8 186.8L1294.8 186.3L1300.8 187.4L1306.8 184.7L1312.8 177.7L1318.8 165.7L1324.8 139.1L1330.8 514.6L1336.8 514.6"/>
<path d="M741.9 217.0L747.9 217.0L753.9 217.0L759.9 217.0L765.9 217.0L772.0 216.1L778.0 215.1L784.0 214.9L790.0 214.6L796.0 213.5L802.0 211.9L808.0 210.6L814.0 209.0L820.0 208.4L826.0 207.9L832.1 207.3L838.1 206.8L844.1 206.2L850.1 206.0L856.1 205.2L862.1 204.8L868.1 204.2L874.1 203.3L880.1 203.0L886.1 202.3L892.1 201.6L898.2 201.2L904.2 200.1L910.2 199.1L916.2 198.3L922.2 197.4L928.2 196.7L934.2 195.9L940.2 194.9L946.2 194.2L952.2 193.4L958.3 192.7L964.3 191.9L970.3 191.0L976.3 190.4L982.3 189.7L988.3 188.9L994.3 187.8L1000.3 187.5L1006.3 187.1L1012.3 186.3L1018.3 185.8L1024.4 185.0L1030.4 183.9L1036.4 183.7L1042.4 185.0L1048.4 184.4L1054.4 185.0L1060.4 184.6L1066.4 184.8L1072.4 185.9L1078.4 184.3L1084.5 185.3L1090.5 184.6L1096.5 185.5L1102.5 185.9L1108.5 186.1L1114.5 185.6L1120.5 184.0L1126.5 185.7L1132.5 186.5L1138.5 186.8L1144.5 188.5L1150.6 186.5L1156.6 184.2L1162.6 185.0L1168.6 186.2L1174.6 188.2L1180.6 184.8L1186.6 188.8L1192.6 188.8L1198.6 186.4L1204.6 189.8L1210.7 187.5L1216.7 189.4L1222.7 188.9L1228.7 190.2L1234.7 187.3L1240.7 192.3L1246.7 188.0L1252.7 192.6L1258.7 191.5L1264.7 195.4L1270.7 190.5L1276.8 187.0L1282.8 185.6L1288.8 187.9L1294.8 186.6L1300.8 192.4L1306.8 181.9L1312.8 180.0L1318.8 161.4L1324.8 141.4L1330.8 514.6L1336.8 514.6"/>
</g>
</g>
<rect x="735.90" y="41.30" width="600.95" height="475.20" fill="none" stroke="#000" stroke-width="1.3"/>
<path d="M735.90 516.50v5.4M856.09 516.50v5.4M976.28 516.50v5.4M1096.47 516.50v5.4M1216.66 516.50v5.4M1336.85 516.50v5.4" stroke="#000" stroke-width="1.3" fill="none"/>
<g class="tk" text-anchor="middle">
<text x="735.2" y="544.1">0.0</text>
<text x="855.4" y="544.1">0.2</text>
<text x="975.6" y="544.1">0.4</text>
<text x="1095.8" y="544.1">0.6</text>
<text x="1216.0" y="544.1">0.8</text>
<text x="1336.5" y="544.1" textLength="33.5" lengthAdjust="spacingAndGlyphs">1.0</text>
</g>
<rect x="745.9" y="51.1" width="200.3" height="64.8" rx="3.9" ry="3.9" fill="#fff" fill-opacity="0.8" stroke="#ccc" stroke-opacity="0.8" stroke-width="1.39"/>
<path d="M752.6 65.7h38.9" stroke="#1f77b4" stroke-opacity="0.70" stroke-width="2.78" stroke-dasharray="10.28 4.44" fill="none"/>
<path d="M752.6 95.5h38.9" stroke="#ff7f0e" stroke-opacity="0.70" stroke-width="2.78" stroke-dasharray="10.28 4.44" fill="none"/>
<text class="lg" x="808.9" y="74.5">Standard</text>
<text class="lg" x="808.9" y="103.9">Conservative</text>
<text class="tt" x="994.8" y="30.4" textLength="66.0" lengthAdjust="spacingAndGlyphs">3x-Y</text>
<text class="sup" x="1062.6" y="19.4">b</text>
<g clip-path="url(#c2)">
<path d="M1393.4 387.0L1399.4 387.0L1405.4 387.0L1411.4 387.0L1417.4 387.0L1423.4 350.7L1429.4 326.3L1435.4 305.6L1441.4 289.0L1447.4 274.5L1453.5 261.9L1459.5 253.7L1465.5 243.6L1471.5 234.4L1477.5 228.7L1483.5 221.5L1489.5 215.1L1495.5 210.1L1501.5 207.2L1507.5 203.6L1513.5 200.4L1519.6 196.9L1525.6 193.7L1531.6 192.8L1537.6 188.9L1543.6 188.2L1549.6 186.2L1555.6 184.5L1561.6 184.2L1567.6 182.5L1573.6 180.6L1579.7 178.7L1585.7 179.1L1591.7 179.6L1597.7 179.9L1603.7 180.7L1609.7 180.4L1615.7 181.8L1621.7 179.8L1627.7 181.6L1633.7 184.2L1639.7 183.1L1645.8 185.3L1651.8 185.3L1657.8 187.9L1663.8 188.7L1669.8 189.5L1675.8 190.3L1681.8 191.3L1687.8 191.4L1693.8 191.8L1699.8 193.4L1705.9 194.9L1711.9 197.9L1717.9 197.8L1723.9 200.8L1729.9 203.4L1735.9 205.3L1741.9 206.4L1747.9 208.5L1753.9 211.1L1759.9 212.4L1765.9 215.2L1772.0 220.2L1778.0 225.9L1784.0 231.5L1790.0 235.8L1796.0 239.6L1802.0 247.4L1808.0 253.4L1814.0 255.2L1820.0 258.8L1826.0 261.0L1832.1 263.0L1838.1 265.9L1844.1 266.2L1850.1 269.0L1856.1 270.7L1862.1 271.3L1868.1 273.3L1874.1 273.9L1880.1 275.8L1886.1 278.7L1892.1 284.7L1898.2 286.5L1904.2 291.3L1910.2 294.9L1916.2 297.6L1922.2 303.4L1928.2 304.6L1934.2 310.9L1940.2 320.0L1946.2 331.0L1952.2 350.9L1958.3 382.0L1964.3 425.8L1970.3 470.2L1976.3 506.4L1982.3 516.0L1988.3 516.0L1988.3 516.0L1982.3 516.0L1976.3 516.0L1970.3 516.0L1964.3 516.1L1958.3 515.2L1952.2 512.8L1946.2 511.6L1940.2 509.1L1934.2 505.2L1928.2 500.0L1922.2 497.4L1916.2 489.7L1910.2 480.8L1904.2 470.2L1898.2 458.5L1892.1 447.5L1886.1 439.5L1880.1 426.8L1874.1 420.0L1868.1 409.4L1862.1 399.7L1856.1 389.5L1850.1 377.9L1844.1 366.3L1838.1 355.3L1832.1 341.3L1826.0 330.5L1820.0 319.9L1814.0 310.0L1808.0 298.3L1802.0 287.9L1796.0 279.5L1790.0 278.0L1784.0 271.0L1778.0 267.8L1772.0 262.5L1765.9 256.3L1759.9 253.2L1753.9 249.9L1747.9 246.7L1741.9 240.6L1735.9 238.4L1729.9 234.5L1723.9 231.9L1717.9 227.7L1711.9 224.2L1705.9 219.8L1699.8 218.4L1693.8 213.8L1687.8 213.4L1681.8 211.3L1675.8 209.4L1669.8 208.7L1663.8 207.0L1657.8 205.0L1651.8 204.5L1645.8 203.1L1639.7 203.9L1633.7 201.7L1627.7 200.7L1621.7 200.8L1615.7 198.8L1609.7 196.9L1603.7 197.3L1597.7 196.9L1591.7 196.8L1585.7 197.0L1579.7 196.4L1573.6 197.6L1567.6 198.8L1561.6 199.6L1555.6 199.8L1549.6 203.7L1543.6 205.3L1537.6 205.1L1531.6 208.8L1525.6 210.2L1519.6 213.7L1513.5 216.3L1507.5 221.0L1501.5 224.7L1495.5 228.8L1489.5 237.1L1483.5 242.4L1477.5 248.4L1471.5 255.0L1465.5 266.5L1459.5 276.6L1453.5 285.8L1447.4 296.7L1441.4 318.9L1435.4 342.2L1429.4 365.5L1423.4 388.2L1417.4 408.0L1411.4 408.0L1405.4 408.0L1399.4 408.0L1393.4 408.0Z" fill="#1f77b4" fill-opacity="0.4"/>
<path d="M1393.4 387.6L1399.4 387.6L1405.4 387.6L1411.4 387.6L1417.4 387.6L1423.4 387.6L1429.4 387.6L1435.4 387.6L1441.4 387.6L1447.4 387.6L1453.5 387.6L1459.5 387.6L1465.5 387.6L1471.5 387.4L1477.5 373.0L1483.5 359.0L1489.5 349.6L1495.5 340.0L1501.5 331.6L1507.5 325.1L1513.5 317.6L1519.6 310.2L1525.6 301.3L1531.6 293.2L1537.6 287.5L1543.6 280.4L1549.6 274.6L1555.6 268.0L1561.6 263.3L1567.6 255.8L1573.6 252.5L1579.7 245.5L1585.7 242.9L1591.7 238.8L1597.7 232.3L1603.7 228.2L1609.7 225.7L1615.7 221.0L1621.7 220.3L1627.7 216.0L1633.7 212.1L1639.7 210.2L1645.8 204.3L1651.8 201.9L1657.8 200.1L1663.8 198.2L1669.8 194.2L1675.8 194.6L1681.8 193.0L1687.8 190.2L1693.8 187.5L1699.8 184.9L1705.9 185.3L1711.9 182.7L1717.9 182.3L1723.9 181.2L1729.9 178.8L1735.9 175.7L1741.9 175.7L1747.9 177.0L1753.9 175.0L1759.9 174.1L1765.9 169.8L1772.0 171.2L1778.0 168.4L1784.0 169.2L1790.0 168.3L1796.0 168.2L1802.0 166.9L1808.0 164.9L1814.0 164.9L1820.0 165.4L1826.0 162.5L1832.1 162.4L1838.1 159.9L1844.1 158.9L1850.1 155.8L1856.1 156.5L1862.1 158.3L1868.1 151.9L1874.1 151.8L1880.1 146.7L1886.1 142.0L1892.1 139.5L1898.2 136.2L1904.2 140.2L1910.2 128.0L1916.2 119.2L1922.2 115.0L1928.2 108.1L1934.2 110.5L1940.2 105.3L1946.2 87.3L1952.2 85.3L1958.3 96.5L1964.3 87.9L1970.3 81.7L1976.3 86.0L1982.3 70.7L1988.3 516.5L1988.3 516.5L1982.3 516.5L1976.3 516.5L1970.3 516.5L1964.3 516.5L1958.3 516.5L1952.2 171.2L1946.2 167.7L1940.2 171.1L1934.2 163.8L1928.2 165.7L1922.2 166.3L1916.2 172.6L1910.2 169.1L1904.2 170.3L1898.2 172.9L1892.1 171.5L1886.1 170.8L1880.1 173.8L1874.1 172.3L1868.1 172.3L1862.1 174.8L1856.1 174.9L1850.1 175.5L1844.1 177.1L1838.1 177.2L1832.1 177.8L1826.0 178.9L1820.0 178.7L1814.0 180.1L1808.0 182.1L1802.0 182.1L1796.0 182.0L1790.0 182.9L1784.0 185.6L1778.0 186.6L1772.0 187.8L1765.9 189.8L1759.9 190.6L1753.9 193.2L1747.9 194.8L1741.9 195.9L1735.9 197.8L1729.9 201.7L1723.9 203.2L1717.9 204.0L1711.9 207.7L1705.9 211.1L1699.8 211.7L1693.8 214.1L1687.8 215.9L1681.8 217.8L1675.8 220.3L1669.8 222.3L1663.8 225.6L1657.8 226.5L1651.8 228.4L1645.8 231.8L1639.7 234.6L1633.7 237.0L1627.7 239.4L1621.7 242.7L1615.7 247.1L1609.7 250.1L1603.7 253.3L1597.7 259.0L1591.7 262.2L1585.7 266.7L1579.7 273.6L1573.6 278.6L1567.6 283.5L1561.6 287.6L1555.6 292.3L1549.6 298.8L1543.6 304.2L1537.6 310.8L1531.6 318.1L1525.6 324.8L1519.6 330.8L1513.5 338.8L1507.5 348.0L1501.5 355.5L1495.5 365.1L1489.5 374.0L1483.5 386.6L1477.5 394.5L1471.5 403.6L1465.5 403.7L1459.5 403.7L1453.5 403.7L1447.4 403.7L1441.4 403.7L1435.4 403.7L1429.4 403.7L1423.4 403.7L1417.4 403.7L1411.4 403.7L1405.4 403.7L1399.4 403.7L1393.4 403.7Z" fill="#ff7f0e" fill-opacity="0.4"/>
<g fill="none" stroke="#1f77b4" stroke-width="2.78" stroke-dasharray="10.28 4.44" stroke-opacity="0.70" stroke-linejoin="round">
<path d="M1393.4 387.7L1399.4 387.7L1405.4 387.7L1411.4 387.7L1417.4 387.7L1423.4 351.8L1429.4 327.8L1435.4 305.6L1441.4 289.0L1447.4 274.5L1453.5 261.9L1459.5 253.7L1465.5 243.7L1471.5 234.4L1477.5 229.6L1483.5 221.5L1489.5 215.1L1495.5 210.9L1501.5 207.4L1507.5 203.7L1513.5 200.6L1519.6 196.9L1525.6 193.7L1531.6 193.4L1537.6 190.2L1543.6 189.3L1549.6 188.7L1555.6 185.8L1561.6 184.9L1567.6 182.5L1573.6 183.4L1579.7 183.0L1585.7 183.5L1591.7 183.4L1597.7 180.1L1603.7 181.0L1609.7 181.2L1615.7 182.4L1621.7 179.8L1627.7 181.6L1633.7 184.7L1639.7 183.9L1645.8 185.3L1651.8 188.2L1657.8 189.5L1663.8 189.0L1669.8 189.5L1675.8 190.3L1681.8 191.3L1687.8 191.4L1693.8 191.8L1699.8 194.3L1705.9 196.0L1711.9 198.2L1717.9 199.8L1723.9 200.8L1729.9 204.0L1735.9 205.3L1741.9 206.4L1747.9 208.5L1753.9 211.1L1759.9 212.4L1765.9 215.2L1772.0 220.8L1778.0 225.9L1784.0 231.5L1790.0 238.7L1796.0 243.1L1802.0 251.9L1808.0 255.7L1814.0 257.0L1820.0 258.8L1826.0 261.0L1832.1 263.0L1838.1 265.9L1844.1 266.2L1850.1 269.0L1856.1 270.7L1862.1 271.3L1868.1 273.3L1874.1 273.9L1880.1 275.8L1886.1 278.7L1892.1 285.8L1898.2 293.2L1904.2 296.6L1910.2 300.1L1916.2 301.1L1922.2 303.4L1928.2 304.6L1934.2 310.9L1940.2 320.0L1946.2 331.0L1952.2 350.9L1958.3 382.0L1964.3 425.8L1970.3 470.2L1976.3 506.4L1982.3 514.6L1988.3 514.6"/>
<path d="M1393.4 387.1L1399.4 387.1L1405.4 387.1L1411.4 387.1L1417.4 387.1L1423.4 350.7L1429.4 327.7L1435.4 310.9L1441.4 295.0L1447.4 279.5L1453.5 268.0L1459.5 261.1L1465.5 247.2L1471.5 235.6L1477.5 229.7L1483.5 222.7L1489.5 218.3L1495.5 213.7L1501.5 211.0L1507.5 207.2L1513.5 201.1L1519.6 198.3L1525.6 195.4L1531.6 193.6L1537.6 192.3L1543.6 191.4L1549.6 191.7L1555.6 188.9L1561.6 186.5L1567.6 182.9L1573.6 180.6L1579.7 178.7L1585.7 179.7L1591.7 180.2L1597.7 183.3L1603.7 184.7L1609.7 185.3L1615.7 183.5L1621.7 183.2L1627.7 184.2L1633.7 184.4L1639.7 187.9L1645.8 188.8L1651.8 190.5L1657.8 192.6L1663.8 194.6L1669.8 192.6L1675.8 193.8L1681.8 192.5L1687.8 194.5L1693.8 195.0L1699.8 197.7L1705.9 199.3L1711.9 202.0L1717.9 203.7L1723.9 204.9L1729.9 206.4L1735.9 207.8L1741.9 208.4L1747.9 209.6L1753.9 212.1L1759.9 218.6L1765.9 224.8L1772.0 230.0L1778.0 232.8L1784.0 233.5L1790.0 235.8L1796.0 239.6L1802.0 247.4L1808.0 253.4L1814.0 255.2L1820.0 260.7L1826.0 265.2L1832.1 266.8L1838.1 269.4L1844.1 269.4L1850.1 269.9L1856.1 273.0L1862.1 273.0L1868.1 274.7L1874.1 276.9L1880.1 279.5L1886.1 281.5L1892.1 284.7L1898.2 286.5L1904.2 291.3L1910.2 294.9L1916.2 297.6L1922.2 305.2L1928.2 310.6L1934.2 318.4L1940.2 333.2L1946.2 349.6L1952.2 376.2L1958.3 409.3L1964.3 444.9L1970.3 481.9L1976.3 510.6L1982.3 514.6L1988.3 514.6"/>
<path d="M1393.4 395.7L1399.4 395.7L1405.4 395.7L1411.4 395.7L1417.4 395.7L1423.4 366.2L1429.4 344.8L1435.4 322.4L1441.4 303.0L1447.4 286.2L1453.5 274.7L1459.5 261.0L1465.5 248.1L1471.5 238.7L1477.5 233.4L1483.5 227.8L1489.5 225.6L1495.5 219.8L1501.5 218.2L1507.5 214.6L1513.5 212.2L1519.6 209.3L1525.6 206.4L1531.6 202.8L1537.6 196.4L1543.6 193.1L1549.6 190.5L1555.6 186.6L1561.6 187.1L1567.6 183.1L1573.6 184.7L1579.7 180.4L1585.7 181.5L1591.7 183.6L1597.7 185.1L1603.7 185.3L1609.7 187.3L1615.7 187.5L1621.7 187.5L1627.7 187.8L1633.7 188.6L1639.7 190.1L1645.8 189.8L1651.8 194.1L1657.8 194.1L1663.8 197.4L1669.8 197.1L1675.8 196.6L1681.8 199.0L1687.8 198.4L1693.8 200.1L1699.8 200.5L1705.9 204.1L1711.9 208.0L1717.9 209.5L1723.9 211.2L1729.9 211.1L1735.9 212.6L1741.9 214.2L1747.9 219.1L1753.9 220.4L1759.9 222.6L1765.9 227.9L1772.0 232.6L1778.0 237.5L1784.0 242.2L1790.0 245.1L1796.0 249.1L1802.0 255.6L1808.0 261.2L1814.0 264.1L1820.0 266.9L1826.0 270.3L1832.1 270.8L1838.1 272.4L1844.1 276.5L1850.1 278.6L1856.1 283.1L1862.1 286.3L1868.1 287.3L1874.1 289.7L1880.1 289.0L1886.1 288.8L1892.1 291.1L1898.2 293.9L1904.2 300.1L1910.2 304.4L1916.2 306.3L1922.2 309.8L1928.2 310.3L1934.2 318.5L1940.2 331.2L1946.2 343.6L1952.2 365.9L1958.3 399.9L1964.3 437.6L1970.3 477.3L1976.3 508.6L1982.3 514.6L1988.3 514.6"/>
<path d="M1393.4 397.1L1399.4 397.1L1405.4 397.1L1411.4 397.1L1417.4 397.1L1423.4 368.8L1429.4 345.6L1435.4 325.3L1441.4 307.6L1447.4 288.1L1453.5 277.7L1459.5 266.3L1465.5 254.0L1471.5 241.0L1477.5 230.9L1483.5 226.1L1489.5 222.3L1495.5 220.5L1501.5 222.3L1507.5 216.2L1513.5 213.3L1519.6 208.7L1525.6 205.1L1531.6 202.7L1537.6 199.9L1543.6 198.0L1549.6 196.6L1555.6 195.8L1561.6 196.0L1567.6 196.3L1573.6 194.3L1579.7 191.7L1585.7 190.6L1591.7 190.2L1597.7 190.8L1603.7 188.9L1609.7 191.4L1615.7 192.2L1621.7 192.5L1627.7 193.3L1633.7 196.1L1639.7 195.7L1645.8 195.8L1651.8 197.3L1657.8 199.5L1663.8 199.4L1669.8 200.8L1675.8 199.2L1681.8 199.0L1687.8 200.2L1693.8 200.4L1699.8 203.3L1705.9 207.2L1711.9 210.0L1717.9 212.0L1723.9 215.8L1729.9 220.4L1735.9 225.6L1741.9 229.5L1747.9 230.2L1753.9 230.8L1759.9 233.5L1765.9 239.1L1772.0 242.4L1778.0 242.9L1784.0 242.5L1790.0 244.2L1796.0 246.9L1802.0 255.0L1808.0 259.0L1814.0 263.4L1820.0 266.8L1826.0 271.1L1832.1 274.7L1838.1 274.5L1844.1 272.8L1850.1 274.5L1856.1 276.6L1862.1 278.9L1868.1 281.4L1874.1 287.2L1880.1 288.9L1886.1 290.7L1892.1 297.4L1898.2 300.9L1904.2 306.3L1910.2 313.0L1916.2 317.4L1922.2 323.6L1928.2 325.9L1934.2 332.5L1940.2 343.5L1946.2 355.6L1952.2 383.2L1958.3 413.7L1964.3 449.6L1970.3 484.1L1976.3 510.8L1982.3 514.6L1988.3 514.6"/>
<path d="M1393.4 394.5L1399.4 394.5L1405.4 394.5L1411.4 394.5L1417.4 394.5L1423.4 364.1L1429.4 338.4L1435.4 318.8L1441.4 302.4L1447.4 283.3L1453.5 276.3L1459.5 270.8L1465.5 260.7L1471.5 254.2L1477.5 248.1L1483.5 242.4L1489.5 234.8L1495.5 227.8L1501.5 220.9L1507.5 217.6L1513.5 211.8L1519.6 207.1L1525.6 203.7L1531.6 201.3L1537.6 197.4L1543.6 197.1L1549.6 197.4L1555.6 196.3L1561.6 193.7L1567.6 194.1L1573.6 195.4L1579.7 193.9L1585.7 194.9L1591.7 191.6L1597.7 192.8L1603.7 194.0L1609.7 195.1L1615.7 194.4L1621.7 195.2L1627.7 197.5L1633.7 196.7L1639.7 197.6L1645.8 196.6L1651.8 199.5L1657.8 201.4L1663.8 204.5L1669.8 204.1L1675.8 202.6L1681.8 201.7L1687.8 200.0L1693.8 202.5L1699.8 206.9L1705.9 213.5L1711.9 219.8L1717.9 220.6L1723.9 223.6L1729.9 224.4L1735.9 224.5L1741.9 229.2L1747.9 227.7L1753.9 231.0L1759.9 231.2L1765.9 234.6L1772.0 239.0L1778.0 244.0L1784.0 246.3L1790.0 252.7L1796.0 258.4L1802.0 267.6L1808.0 270.6L1814.0 273.0L1820.0 272.1L1826.0 272.1L1832.1 274.7L1838.1 274.9L1844.1 277.0L1850.1 280.3L1856.1 282.9L1862.1 286.1L1868.1 290.5L1874.1 291.7L1880.1 292.7L1886.1 294.3L1892.1 297.1L1898.2 298.5L1904.2 305.3L1910.2 307.9L1916.2 315.4L1922.2 321.3L1928.2 326.6L1934.2 333.2L1940.2 343.4L1946.2 355.7L1952.2 384.9L1958.3 422.7L1964.3 456.6L1970.3 492.0L1976.3 512.6L1982.3 514.6L1988.3 514.6"/>
<path d="M1393.4 400.1L1399.4 400.1L1405.4 400.1L1411.4 400.1L1417.4 400.1L1423.4 374.1L1429.4 349.9L1435.4 326.7L1441.4 307.4L1447.4 289.3L1453.5 280.8L1459.5 273.3L1465.5 262.5L1471.5 254.8L1477.5 247.0L1483.5 238.6L1489.5 232.8L1495.5 226.2L1501.5 222.7L1507.5 216.1L1513.5 208.9L1519.6 208.3L1525.6 206.0L1531.6 205.5L1537.6 203.1L1543.6 201.5L1549.6 198.4L1555.6 195.7L1561.6 195.4L1567.6 195.9L1573.6 193.4L1579.7 195.5L1585.7 195.5L1591.7 195.0L1597.7 196.9L1603.7 196.3L1609.7 194.8L1615.7 194.5L1621.7 195.9L1627.7 194.3L1633.7 194.7L1639.7 194.6L1645.8 198.5L1651.8 202.2L1657.8 203.1L1663.8 205.5L1669.8 208.7L1675.8 209.4L1681.8 211.2L1687.8 210.8L1693.8 211.8L1699.8 212.0L1705.9 216.4L1711.9 219.7L1717.9 226.7L1723.9 228.5L1729.9 232.0L1735.9 234.0L1741.9 234.2L1747.9 233.0L1753.9 237.2L1759.9 237.5L1765.9 242.4L1772.0 248.3L1778.0 256.6L1784.0 262.8L1790.0 266.5L1796.0 269.1L1802.0 270.8L1808.0 275.4L1814.0 278.1L1820.0 278.0L1826.0 282.5L1832.1 285.6L1838.1 286.4L1844.1 289.2L1850.1 289.0L1856.1 289.2L1862.1 292.5L1868.1 292.9L1874.1 295.8L1880.1 298.0L1886.1 300.8L1892.1 303.1L1898.2 307.7L1904.2 313.3L1910.2 319.4L1916.2 326.4L1922.2 334.9L1928.2 339.8L1934.2 343.0L1940.2 351.7L1946.2 360.3L1952.2 385.0L1958.3 424.3L1964.3 465.7L1970.3 496.1L1976.3 513.8L1982.3 514.6L1988.3 514.6"/>
<path d="M1393.4 408.0L1399.4 408.0L1405.4 408.0L1411.4 408.0L1417.4 408.0L1423.4 388.2L1429.4 365.4L1435.4 340.7L1441.4 318.9L1447.4 296.7L1453.5 285.8L1459.5 276.6L1465.5 266.5L1471.5 253.1L1477.5 246.7L1483.5 240.5L1489.5 233.0L1495.5 228.8L1501.5 224.7L1507.5 221.0L1513.5 216.3L1519.6 212.3L1525.6 210.2L1531.6 207.4L1537.6 205.1L1543.6 202.2L1549.6 200.2L1555.6 199.8L1561.6 199.6L1567.6 198.8L1573.6 195.5L1579.7 196.2L1585.7 195.7L1591.7 196.8L1597.7 195.5L1603.7 197.3L1609.7 196.9L1615.7 198.8L1621.7 200.7L1627.7 199.5L1633.7 201.7L1639.7 203.9L1645.8 203.1L1651.8 204.3L1657.8 204.5L1663.8 205.0L1669.8 206.9L1675.8 209.1L1681.8 211.3L1687.8 213.4L1693.8 212.8L1699.8 217.9L1705.9 219.5L1711.9 224.2L1717.9 227.7L1723.9 231.9L1729.9 234.5L1735.9 238.4L1741.9 240.6L1747.9 246.7L1753.9 249.9L1759.9 253.2L1765.9 256.3L1772.0 262.5L1778.0 266.5L1784.0 270.9L1790.0 272.4L1796.0 272.1L1802.0 274.1L1808.0 277.0L1814.0 278.3L1820.0 278.7L1826.0 279.8L1832.1 285.0L1838.1 283.8L1844.1 289.6L1850.1 289.8L1856.1 294.0L1862.1 292.7L1868.1 295.6L1874.1 295.7L1880.1 298.2L1886.1 304.4L1892.1 309.1L1898.2 312.3L1904.2 319.4L1910.2 322.5L1916.2 329.6L1922.2 332.6L1928.2 338.3L1934.2 346.9L1940.2 359.9L1946.2 374.9L1952.2 398.8L1958.3 435.8L1964.3 467.3L1970.3 496.5L1976.3 514.0L1982.3 514.6L1988.3 514.6"/>
<path d="M1393.4 387.0L1399.4 387.0L1405.4 387.0L1411.4 387.0L1417.4 387.0L1423.4 350.7L1429.4 326.3L1435.4 305.9L1441.4 291.6L1447.4 274.6L1453.5 265.7L1459.5 255.2L1465.5 243.6L1471.5 235.9L1477.5 228.7L1483.5 221.6L1489.5 215.4L1495.5 210.1L1501.5 207.2L1507.5 203.6L1513.5 200.4L1519.6 197.2L1525.6 195.8L1531.6 192.8L1537.6 188.9L1543.6 188.2L1549.6 186.2L1555.6 184.5L1561.6 184.2L1567.6 184.3L1573.6 181.4L1579.7 179.7L1585.7 180.9L1591.7 182.5L1597.7 179.9L1603.7 180.7L1609.7 180.4L1615.7 181.8L1621.7 182.6L1627.7 181.6L1633.7 184.2L1639.7 183.1L1645.8 185.5L1651.8 185.3L1657.8 187.9L1663.8 188.7L1669.8 190.8L1675.8 190.3L1681.8 191.8L1687.8 192.0L1693.8 191.9L1699.8 193.4L1705.9 194.9L1711.9 197.9L1717.9 200.9L1723.9 202.1L1729.9 203.4L1735.9 206.3L1741.9 207.8L1747.9 210.6L1753.9 212.3L1759.9 212.9L1765.9 215.7L1772.0 220.2L1778.0 232.0L1784.0 238.8L1790.0 245.7L1796.0 252.3L1802.0 261.7L1808.0 269.1L1814.0 276.0L1820.0 285.9L1826.0 291.9L1832.1 299.7L1838.1 309.9L1844.1 319.7L1850.1 328.0L1856.1 337.2L1862.1 344.8L1868.1 356.4L1874.1 366.9L1880.1 377.2L1886.1 385.9L1892.1 394.8L1898.2 403.5L1904.2 414.8L1910.2 426.2L1916.2 432.2L1922.2 441.3L1928.2 454.8L1934.2 466.3L1940.2 472.8L1946.2 483.1L1952.2 496.8L1958.3 507.3L1964.3 514.6L1970.3 514.6L1976.3 514.6L1982.3 514.6L1988.3 514.6"/>
<path d="M1393.4 395.7L1399.4 395.7L1405.4 395.7L1411.4 395.7L1417.4 395.7L1423.4 366.3L1429.4 341.9L1435.4 316.2L1441.4 295.5L1447.4 276.3L1453.5 264.0L1459.5 253.8L1465.5 244.3L1471.5 234.4L1477.5 231.2L1483.5 225.3L1489.5 222.4L1495.5 219.6L1501.5 214.3L1507.5 211.9L1513.5 204.0L1519.6 203.1L1525.6 198.2L1531.6 195.2L1537.6 193.7L1543.6 192.4L1549.6 190.1L1555.6 188.2L1561.6 187.6L1567.6 187.4L1573.6 184.3L1579.7 182.0L1585.7 179.1L1591.7 179.6L1597.7 180.6L1603.7 182.6L1609.7 184.1L1615.7 185.7L1621.7 184.8L1627.7 185.0L1633.7 187.7L1639.7 187.3L1645.8 188.0L1651.8 190.6L1657.8 191.1L1663.8 191.9L1669.8 193.2L1675.8 192.6L1681.8 193.8L1687.8 195.7L1693.8 197.3L1699.8 199.0L1705.9 198.3L1711.9 198.2L1717.9 197.8L1723.9 204.3L1729.9 207.5L1735.9 214.3L1741.9 219.4L1747.9 220.6L1753.9 224.0L1759.9 230.7L1765.9 232.2L1772.0 235.8L1778.0 241.8L1784.0 248.3L1790.0 253.8L1796.0 259.1L1802.0 271.4L1808.0 281.7L1814.0 294.2L1820.0 302.7L1826.0 309.9L1832.1 313.4L1838.1 318.5L1844.1 324.6L1850.1 327.0L1856.1 335.1L1862.1 348.1L1868.1 359.2L1874.1 371.2L1880.1 383.4L1886.1 396.4L1892.1 403.7L1898.2 414.9L1904.2 427.6L1910.2 440.0L1916.2 453.4L1922.2 464.1L1928.2 468.3L1934.2 473.5L1940.2 475.9L1946.2 484.8L1952.2 498.0L1958.3 510.7L1964.3 514.6L1970.3 514.6L1976.3 514.6L1982.3 514.6L1988.3 514.6"/>
<path d="M1393.4 391.3L1399.4 391.3L1405.4 391.3L1411.4 391.3L1417.4 391.3L1423.4 358.4L1429.4 336.7L1435.4 316.0L1441.4 301.4L1447.4 285.6L1453.5 275.8L1459.5 266.1L1465.5 255.9L1471.5 244.5L1477.5 237.6L1483.5 227.7L1489.5 221.1L1495.5 216.5L1501.5 214.5L1507.5 212.6L1513.5 207.2L1519.6 202.6L1525.6 198.4L1531.6 195.0L1537.6 193.2L1543.6 190.7L1549.6 188.3L1555.6 184.8L1561.6 184.7L1567.6 182.5L1573.6 181.8L1579.7 182.5L1585.7 182.5L1591.7 181.7L1597.7 183.7L1603.7 186.3L1609.7 186.4L1615.7 188.2L1621.7 187.4L1627.7 187.3L1633.7 189.8L1639.7 193.8L1645.8 193.4L1651.8 194.5L1657.8 196.4L1663.8 195.0L1669.8 195.0L1675.8 195.7L1681.8 196.1L1687.8 197.2L1693.8 199.4L1699.8 201.2L1705.9 203.8L1711.9 205.2L1717.9 205.2L1723.9 210.7L1729.9 217.7L1735.9 228.0L1741.9 233.4L1747.9 233.0L1753.9 229.0L1759.9 226.8L1765.9 228.4L1772.0 231.7L1778.0 241.8L1784.0 247.6L1790.0 256.3L1796.0 260.0L1802.0 269.5L1808.0 278.8L1814.0 291.8L1820.0 301.4L1826.0 304.7L1832.1 309.5L1838.1 314.4L1844.1 323.1L1850.1 338.9L1856.1 355.0L1862.1 365.8L1868.1 379.1L1874.1 388.2L1880.1 400.8L1886.1 410.2L1892.1 423.2L1898.2 434.4L1904.2 440.3L1910.2 448.0L1916.2 452.1L1922.2 460.1L1928.2 465.9L1934.2 472.7L1940.2 480.0L1946.2 489.5L1952.2 502.7L1958.3 511.1L1964.3 514.6L1970.3 514.6L1976.3 514.6L1982.3 514.6L1988.3 514.6"/>
<path d="M1393.4 399.4L1399.4 399.4L1405.4 399.4L1411.4 399.4L1417.4 399.4L1423.4 372.8L1429.4 346.1L1435.4 323.9L1441.4 302.3L1447.4 285.8L1453.5 277.2L1459.5 267.7L1465.5 257.3L1471.5 246.9L1477.5 238.1L1483.5 231.9L1489.5 225.6L1495.5 220.0L1501.5 216.4L1507.5 215.0L1513.5 209.9L1519.6 208.7L1525.6 205.7L1531.6 202.4L1537.6 202.8L1543.6 199.9L1549.6 197.4L1555.6 192.1L1561.6 189.2L1567.6 186.5L1573.6 184.0L1579.7 186.3L1585.7 184.6L1591.7 188.2L1597.7 186.1L1603.7 186.1L1609.7 186.6L1615.7 188.8L1621.7 188.7L1627.7 190.9L1633.7 194.4L1639.7 197.8L1645.8 200.3L1651.8 199.8L1657.8 198.4L1663.8 196.1L1669.8 193.9L1675.8 197.1L1681.8 202.7L1687.8 205.6L1693.8 209.4L1699.8 212.3L1705.9 214.1L1711.9 214.2L1717.9 211.7L1723.9 212.9L1729.9 214.8L1735.9 222.4L1741.9 228.8L1747.9 238.4L1753.9 241.4L1759.9 237.4L1765.9 238.3L1772.0 240.0L1778.0 250.1L1784.0 258.5L1790.0 267.1L1796.0 272.5L1802.0 279.3L1808.0 283.5L1814.0 294.0L1820.0 302.8L1826.0 310.2L1832.1 318.4L1838.1 328.5L1844.1 337.8L1850.1 347.7L1856.1 355.1L1862.1 364.5L1868.1 377.7L1874.1 390.9L1880.1 405.5L1886.1 425.0L1892.1 443.4L1898.2 452.6L1904.2 453.5L1910.2 456.1L1916.2 456.5L1922.2 463.5L1928.2 471.4L1934.2 475.4L1940.2 478.3L1946.2 489.1L1952.2 504.6L1958.3 513.7L1964.3 514.6L1970.3 514.6L1976.3 514.6L1982.3 514.6L1988.3 514.6"/>
<path d="M1393.4 404.2L1399.4 404.2L1405.4 404.2L1411.4 404.2L1417.4 404.2L1423.4 381.5L1429.4 359.0L1435.4 337.2L1441.4 315.4L1447.4 289.3L1453.5 281.4L1459.5 270.0L1465.5 258.7L1471.5 250.4L1477.5 243.0L1483.5 237.6L1489.5 229.8L1495.5 227.0L1501.5 221.6L1507.5 218.4L1513.5 213.7L1519.6 209.0L1525.6 205.8L1531.6 201.3L1537.6 200.0L1543.6 196.6L1549.6 194.3L1555.6 192.6L1561.6 191.0L1567.6 189.4L1573.6 190.8L1579.7 190.9L1585.7 193.4L1591.7 193.0L1597.7 193.7L1603.7 194.3L1609.7 193.7L1615.7 194.5L1621.7 195.3L1627.7 196.0L1633.7 196.6L1639.7 196.7L1645.8 196.3L1651.8 198.4L1657.8 197.9L1663.8 198.9L1669.8 197.3L1675.8 199.5L1681.8 199.4L1687.8 200.4L1693.8 201.7L1699.8 206.5L1705.9 208.7L1711.9 211.9L1717.9 213.6L1723.9 217.5L1729.9 222.5L1735.9 226.1L1741.9 224.6L1747.9 227.2L1753.9 232.1L1759.9 235.7L1765.9 238.2L1772.0 243.1L1778.0 246.9L1784.0 255.3L1790.0 261.9L1796.0 269.3L1802.0 276.3L1808.0 288.8L1814.0 297.5L1820.0 306.1L1826.0 315.8L1832.1 321.3L1838.1 330.0L1844.1 340.6L1850.1 353.9L1856.1 362.0L1862.1 368.2L1868.1 376.0L1874.1 388.7L1880.1 406.2L1886.1 425.3L1892.1 441.6L1898.2 455.1L1904.2 462.8L1910.2 467.2L1916.2 466.5L1922.2 468.9L1928.2 476.9L1934.2 485.3L1940.2 494.2L1946.2 503.3L1952.2 508.9L1958.3 512.9L1964.3 514.6L1970.3 514.6L1976.3 514.6L1982.3 514.6L1988.3 514.6"/>
<path d="M1393.4 403.2L1399.4 403.2L1405.4 403.2L1411.4 403.2L1417.4 403.2L1423.4 379.7L1429.4 359.3L1435.4 340.3L1441.4 317.2L1447.4 296.2L1453.5 283.4L1459.5 273.6L1465.5 264.1L1471.5 252.6L1477.5 247.5L1483.5 239.1L1489.5 233.0L1495.5 227.2L1501.5 222.4L1507.5 216.5L1513.5 210.2L1519.6 208.5L1525.6 207.1L1531.6 203.3L1537.6 202.5L1543.6 200.8L1549.6 198.6L1555.6 196.0L1561.6 196.3L1567.6 196.5L1573.6 196.9L1579.7 196.4L1585.7 197.0L1591.7 196.5L1597.7 195.6L1603.7 196.3L1609.7 195.8L1615.7 194.0L1621.7 194.4L1627.7 195.5L1633.7 196.0L1639.7 199.5L1645.8 201.8L1651.8 204.5L1657.8 204.2L1663.8 204.6L1669.8 205.1L1675.8 205.8L1681.8 206.4L1687.8 206.3L1693.8 209.2L1699.8 213.2L1705.9 214.0L1711.9 218.9L1717.9 219.1L1723.9 223.0L1729.9 226.9L1735.9 232.8L1741.9 239.8L1747.9 246.0L1753.9 248.7L1759.9 247.0L1765.9 246.6L1772.0 250.5L1778.0 256.8L1784.0 265.6L1790.0 270.9L1796.0 278.9L1802.0 285.2L1808.0 295.6L1814.0 307.5L1820.0 315.4L1826.0 323.5L1832.1 331.9L1838.1 339.7L1844.1 347.0L1850.1 359.5L1856.1 367.7L1862.1 375.9L1868.1 388.4L1874.1 401.0L1880.1 411.4L1886.1 422.6L1892.1 434.0L1898.2 444.0L1904.2 457.2L1910.2 466.8L1916.2 474.1L1922.2 483.5L1928.2 486.5L1934.2 495.1L1940.2 502.4L1946.2 507.3L1952.2 512.0L1958.3 514.6L1964.3 514.6L1970.3 514.6L1976.3 514.6L1982.3 514.6L1988.3 514.6"/>
<path d="M1393.4 408.0L1399.4 408.0L1405.4 408.0L1411.4 408.0L1417.4 408.0L1423.4 388.2L1429.4 365.5L1435.4 342.2L1441.4 318.2L1447.4 296.6L1453.5 285.3L1459.5 274.0L1465.5 264.1L1471.5 255.0L1477.5 248.4L1483.5 242.0L1489.5 237.1L1495.5 228.7L1501.5 224.6L1507.5 219.5L1513.5 214.3L1519.6 213.7L1525.6 210.1L1531.6 208.8L1537.6 204.3L1543.6 205.3L1549.6 203.7L1555.6 199.2L1561.6 198.6L1567.6 197.8L1573.6 197.6L1579.7 194.4L1585.7 194.8L1591.7 194.7L1597.7 194.2L1603.7 194.1L1609.7 196.9L1615.7 198.5L1621.7 200.8L1627.7 200.7L1633.7 200.6L1639.7 202.4L1645.8 202.8L1651.8 204.3L1657.8 205.0L1663.8 207.0L1669.8 207.4L1675.8 206.7L1681.8 210.5L1687.8 212.7L1693.8 213.8L1699.8 218.4L1705.9 219.8L1711.9 224.1L1717.9 226.7L1723.9 231.4L1729.9 234.5L1735.9 236.7L1741.9 235.5L1747.9 235.2L1753.9 239.6L1759.9 248.5L1765.9 256.2L1772.0 261.4L1778.0 267.8L1784.0 271.0L1790.0 278.0L1796.0 279.5L1802.0 287.9L1808.0 298.3L1814.0 310.0L1820.0 319.9L1826.0 330.5L1832.1 341.3L1838.1 355.3L1844.1 366.3L1850.1 377.9L1856.1 389.5L1862.1 399.7L1868.1 409.4L1874.1 420.0L1880.1 426.8L1886.1 439.5L1892.1 447.5L1898.2 458.5L1904.2 470.2L1910.2 480.8L1916.2 489.7L1922.2 497.4L1928.2 500.0L1934.2 505.2L1940.2 509.1L1946.2 511.6L1952.2 512.8L1958.3 514.6L1964.3 514.6L1970.3 514.6L1976.3 514.6L1982.3 514.6L1988.3 514.6"/>
<path d="M1393.4 399.5L1399.4 399.9L1405.4 398.7L1411.4 396.4L1417.4 394.5L1423.4 366.2L1429.4 341.7L1435.4 321.5L1441.4 302.8L1447.4 283.2L1453.5 274.4L1459.5 263.1L1465.5 254.7L1471.5 244.2L1477.5 237.9L1483.5 229.3L1489.5 222.7L1495.5 217.6L1501.5 216.4L1507.5 212.2L1513.5 211.1L1519.6 207.8L1525.6 205.8L1531.6 201.3L1537.6 199.2L1543.6 198.1L1549.6 197.2L1555.6 194.2L1561.6 194.4L1567.6 192.6L1573.6 192.7L1579.7 190.3L1585.7 189.2L1591.7 189.1L1597.7 189.2L1603.7 187.9L1609.7 190.0L1615.7 189.7L1621.7 191.9L1627.7 191.6L1633.7 193.3L1639.7 192.9L1645.8 194.1L1651.8 195.4L1657.8 195.2L1663.8 195.9L1669.8 198.7L1675.8 200.8L1681.8 201.8L1687.8 201.8L1693.8 203.5L1699.8 204.2L1705.9 206.9L1711.9 208.1L1717.9 212.6L1723.9 217.4L1729.9 220.2L1735.9 224.0L1741.9 227.5L1747.9 229.5L1753.9 231.1L1759.9 232.4L1765.9 233.8L1772.0 239.4L1778.0 245.8L1784.0 253.5L1790.0 257.4L1796.0 263.4L1802.0 268.5L1808.0 272.4L1814.0 276.0L1820.0 281.1L1826.0 287.3L1832.1 292.8L1838.1 298.1L1844.1 306.1L1850.1 312.1L1856.1 318.4L1862.1 323.4L1868.1 328.3L1874.1 332.4L1880.1 337.7L1886.1 341.6L1892.1 348.0L1898.2 352.5L1904.2 358.0L1910.2 363.5L1916.2 368.9L1922.2 373.2L1928.2 381.3L1934.2 386.4L1940.2 392.1L1946.2 402.5L1952.2 418.0L1958.3 440.9L1964.3 471.4L1970.3 493.7L1976.3 511.4L1982.3 514.6L1988.3 514.6"/>
</g>
<g fill="none" stroke="#ff7f0e" stroke-width="2.78" stroke-dasharray="10.28 4.44" stroke-opacity="0.70" stroke-linejoin="round">
<path d="M1393.4 387.6L1399.4 387.6L1405.4 387.6L1411.4 387.6L1417.4 387.6L1423.4 387.6L1429.4 387.6L1435.4 387.6L1441.4 387.6L1447.4 387.6L1453.5 387.6L1459.5 387.6L1465.5 387.6L1471.5 387.4L1477.5 373.0L1483.5 359.0L1489.5 349.6L1495.5 340.0L1501.5 331.6L1507.5 325.1L1513.5 317.6L1519.6 310.2L1525.6 301.3L1531.6 293.2L1537.6 287.5L1543.6 280.6L1549.6 274.6L1555.6 268.0L1561.6 263.3L1567.6 255.8L1573.6 252.5L1579.7 245.5L1585.7 244.2L1591.7 239.8L1597.7 238.3L1603.7 234.3L1609.7 226.7L1615.7 221.0L1621.7 220.4L1627.7 216.0L1633.7 212.1L1639.7 210.2L1645.8 204.3L1651.8 201.9L1657.8 200.1L1663.8 198.2L1669.8 194.2L1675.8 194.6L1681.8 193.0L1687.8 190.2L1693.8 187.5L1699.8 184.9L1705.9 185.3L1711.9 182.7L1717.9 182.3L1723.9 181.2L1729.9 178.8L1735.9 175.7L1741.9 175.7L1747.9 177.6L1753.9 175.0L1759.9 174.1L1765.9 169.8L1772.0 171.2L1778.0 171.4L1784.0 169.2L1790.0 168.3L1796.0 168.2L1802.0 166.9L1808.0 164.9L1814.0 164.9L1820.0 166.0L1826.0 163.9L1832.1 164.3L1838.1 163.6L1844.1 159.9L1850.1 159.9L1856.1 156.9L1862.1 158.3L1868.1 157.3L1874.1 151.8L1880.1 146.7L1886.1 142.0L1892.1 139.5L1898.2 139.3L1904.2 142.6L1910.2 128.0L1916.2 119.2L1922.2 115.0L1928.2 108.1L1934.2 110.5L1940.2 105.3L1946.2 87.3L1952.2 85.3L1958.3 96.5L1964.3 89.0L1970.3 81.7L1976.3 88.0L1982.3 70.7L1988.3 514.6"/>
<path d="M1393.4 388.8L1399.4 388.8L1405.4 388.8L1411.4 388.8L1417.4 388.8L1423.4 388.8L1429.4 388.8L1435.4 388.8L1441.4 388.8L1447.4 388.8L1453.5 388.8L1459.5 388.8L1465.5 388.8L1471.5 388.6L1477.5 374.5L1483.5 360.4L1489.5 350.9L1495.5 343.3L1501.5 336.7L1507.5 328.6L1513.5 320.6L1519.6 313.3L1525.6 306.1L1531.6 298.1L1537.6 289.5L1543.6 280.4L1549.6 275.7L1555.6 272.0L1561.6 268.0L1567.6 262.3L1573.6 255.3L1579.7 251.6L1585.7 246.4L1591.7 240.6L1597.7 235.4L1603.7 230.9L1609.7 228.2L1615.7 224.9L1621.7 220.3L1627.7 216.5L1633.7 213.9L1639.7 213.0L1645.8 210.3L1651.8 207.8L1657.8 206.5L1663.8 203.1L1669.8 200.6L1675.8 196.0L1681.8 193.2L1687.8 192.2L1693.8 194.3L1699.8 190.6L1705.9 186.5L1711.9 184.4L1717.9 184.8L1723.9 183.2L1729.9 183.5L1735.9 183.8L1741.9 183.6L1747.9 182.0L1753.9 177.9L1759.9 177.7L1765.9 173.4L1772.0 172.6L1778.0 168.4L1784.0 169.5L1790.0 168.7L1796.0 169.2L1802.0 169.9L1808.0 168.7L1814.0 166.9L1820.0 165.4L1826.0 162.5L1832.1 162.4L1838.1 159.9L1844.1 160.7L1850.1 163.0L1856.1 161.3L1862.1 158.8L1868.1 151.9L1874.1 153.9L1880.1 149.4L1886.1 149.2L1892.1 143.2L1898.2 136.2L1904.2 140.2L1910.2 134.1L1916.2 125.3L1922.2 122.7L1928.2 123.0L1934.2 126.8L1940.2 117.6L1946.2 96.5L1952.2 90.0L1958.3 97.3L1964.3 94.1L1970.3 90.0L1976.3 86.0L1982.3 514.6L1988.3 514.6"/>
<path d="M1393.4 391.2L1399.4 391.2L1405.4 391.2L1411.4 391.2L1417.4 391.2L1423.4 391.2L1429.4 391.2L1435.4 391.2L1441.4 391.2L1447.4 391.2L1453.5 391.2L1459.5 391.2L1465.5 391.2L1471.5 391.0L1477.5 377.7L1483.5 362.7L1489.5 352.8L1495.5 345.9L1501.5 337.8L1507.5 329.2L1513.5 320.9L1519.6 314.2L1525.6 308.3L1531.6 302.6L1537.6 295.6L1543.6 289.3L1549.6 282.0L1555.6 271.4L1561.6 267.3L1567.6 261.6L1573.6 254.2L1579.7 246.9L1585.7 242.9L1591.7 238.8L1597.7 232.3L1603.7 228.2L1609.7 225.7L1615.7 225.8L1621.7 221.4L1627.7 216.3L1633.7 216.2L1639.7 216.4L1645.8 214.4L1651.8 210.0L1657.8 203.0L1663.8 203.0L1669.8 201.4L1675.8 199.9L1681.8 197.8L1687.8 194.0L1693.8 191.6L1699.8 189.8L1705.9 190.3L1711.9 192.2L1717.9 188.3L1723.9 187.8L1729.9 185.2L1735.9 183.6L1741.9 179.3L1747.9 177.0L1753.9 177.8L1759.9 177.1L1765.9 176.6L1772.0 173.8L1778.0 172.3L1784.0 171.8L1790.0 170.5L1796.0 170.4L1802.0 169.8L1808.0 168.3L1814.0 167.3L1820.0 166.7L1826.0 163.7L1832.1 163.0L1838.1 160.2L1844.1 158.9L1850.1 155.8L1856.1 156.5L1862.1 160.3L1868.1 162.6L1874.1 159.1L1880.1 154.4L1886.1 151.6L1892.1 149.2L1898.2 147.9L1904.2 154.1L1910.2 147.8L1916.2 139.1L1922.2 132.0L1928.2 124.7L1934.2 125.5L1940.2 114.9L1946.2 107.3L1952.2 106.5L1958.3 101.1L1964.3 87.9L1970.3 85.5L1976.3 94.3L1982.3 514.6L1988.3 514.6"/>
<path d="M1393.4 390.4L1399.4 390.4L1405.4 390.4L1411.4 390.4L1417.4 390.4L1423.4 390.4L1429.4 390.4L1435.4 390.4L1441.4 390.4L1447.4 390.4L1453.5 390.4L1459.5 390.4L1465.5 390.4L1471.5 390.2L1477.5 376.7L1483.5 363.5L1489.5 355.4L1495.5 347.4L1501.5 340.1L1507.5 329.7L1513.5 320.0L1519.6 313.1L1525.6 307.7L1531.6 301.9L1537.6 296.2L1543.6 287.8L1549.6 279.9L1555.6 273.4L1561.6 266.3L1567.6 262.7L1573.6 259.1L1579.7 256.9L1585.7 253.6L1591.7 246.3L1597.7 241.6L1603.7 237.1L1609.7 233.4L1615.7 228.1L1621.7 224.0L1627.7 219.2L1633.7 214.7L1639.7 213.5L1645.8 210.7L1651.8 210.7L1657.8 210.9L1663.8 209.0L1669.8 204.2L1675.8 203.3L1681.8 201.4L1687.8 197.2L1693.8 194.3L1699.8 189.7L1705.9 190.6L1711.9 191.1L1717.9 190.1L1723.9 189.9L1729.9 188.1L1735.9 187.2L1741.9 187.1L1747.9 185.4L1753.9 183.9L1759.9 180.7L1765.9 178.9L1772.0 176.6L1778.0 176.2L1784.0 173.1L1790.0 171.6L1796.0 172.2L1802.0 169.2L1808.0 168.3L1814.0 167.4L1820.0 165.8L1826.0 166.0L1832.1 163.3L1838.1 163.8L1844.1 161.0L1850.1 161.4L1856.1 162.3L1862.1 163.8L1868.1 164.1L1874.1 159.7L1880.1 159.4L1886.1 155.8L1892.1 151.0L1898.2 155.8L1904.2 153.5L1910.2 148.2L1916.2 134.9L1922.2 127.0L1928.2 127.5L1934.2 132.9L1940.2 128.4L1946.2 113.1L1952.2 118.0L1958.3 111.5L1964.3 99.6L1970.3 103.7L1976.3 514.6L1982.3 514.6L1988.3 514.6"/>
<path d="M1393.4 391.5L1399.4 391.5L1405.4 391.5L1411.4 391.5L1417.4 391.5L1423.4 391.5L1429.4 391.5L1435.4 391.5L1441.4 391.5L1447.4 391.5L1453.5 391.5L1459.5 391.5L1465.5 391.5L1471.5 391.3L1477.5 378.2L1483.5 366.3L1489.5 357.5L1495.5 347.9L1501.5 340.2L1507.5 329.2L1513.5 321.6L1519.6 314.9L1525.6 307.9L1531.6 301.8L1537.6 297.5L1543.6 292.5L1549.6 284.7L1555.6 278.6L1561.6 272.4L1567.6 266.0L1573.6 257.2L1579.7 254.2L1585.7 251.1L1591.7 249.5L1597.7 245.6L1603.7 240.3L1609.7 234.1L1615.7 229.6L1621.7 226.3L1627.7 222.4L1633.7 220.9L1639.7 216.4L1645.8 214.1L1651.8 210.5L1657.8 209.2L1663.8 209.0L1669.8 206.3L1675.8 203.3L1681.8 200.0L1687.8 197.8L1693.8 193.8L1699.8 193.6L1705.9 192.5L1711.9 191.8L1717.9 187.8L1723.9 184.8L1729.9 184.1L1735.9 184.8L1741.9 181.4L1747.9 180.1L1753.9 177.2L1759.9 179.7L1765.9 180.2L1772.0 177.3L1778.0 177.1L1784.0 175.2L1790.0 175.0L1796.0 172.1L1802.0 170.2L1808.0 166.6L1814.0 164.9L1820.0 165.4L1826.0 165.2L1832.1 164.5L1838.1 163.5L1844.1 163.3L1850.1 160.7L1856.1 160.9L1862.1 161.2L1868.1 162.3L1874.1 164.1L1880.1 161.3L1886.1 153.5L1892.1 154.3L1898.2 146.3L1904.2 151.4L1910.2 152.0L1916.2 150.1L1922.2 151.5L1928.2 152.0L1934.2 149.2L1940.2 136.7L1946.2 127.3L1952.2 116.8L1958.3 105.6L1964.3 100.1L1970.3 514.6L1976.3 514.6L1982.3 514.6L1988.3 514.6"/>
<path d="M1393.4 391.6L1399.4 391.6L1405.4 391.6L1411.4 391.6L1417.4 391.6L1423.4 391.6L1429.4 391.6L1435.4 391.6L1441.4 391.6L1447.4 391.6L1453.5 391.6L1459.5 391.6L1465.5 391.6L1471.5 391.4L1477.5 378.3L1483.5 360.8L1489.5 352.1L1495.5 345.6L1501.5 338.5L1507.5 330.5L1513.5 321.2L1519.6 312.9L1525.6 308.3L1531.6 301.5L1537.6 294.4L1543.6 289.3L1549.6 282.2L1555.6 276.0L1561.6 270.3L1567.6 261.0L1573.6 256.2L1579.7 250.6L1585.7 249.1L1591.7 245.5L1597.7 241.8L1603.7 237.8L1609.7 232.7L1615.7 230.1L1621.7 227.6L1627.7 224.7L1633.7 220.8L1639.7 218.1L1645.8 215.3L1651.8 211.7L1657.8 210.1L1663.8 207.7L1669.8 205.0L1675.8 202.8L1681.8 202.4L1687.8 200.1L1693.8 199.0L1699.8 196.8L1705.9 196.8L1711.9 193.0L1717.9 187.7L1723.9 187.4L1729.9 188.1L1735.9 186.8L1741.9 188.3L1747.9 186.7L1753.9 185.1L1759.9 182.7L1765.9 178.4L1772.0 177.7L1778.0 178.3L1784.0 176.5L1790.0 176.6L1796.0 173.1L1802.0 172.3L1808.0 172.1L1814.0 171.7L1820.0 169.0L1826.0 168.6L1832.1 165.7L1838.1 166.3L1844.1 164.4L1850.1 163.2L1856.1 161.0L1862.1 160.4L1868.1 157.6L1874.1 160.7L1880.1 158.4L1886.1 157.7L1892.1 151.7L1898.2 153.9L1904.2 154.2L1910.2 152.1L1916.2 152.1L1922.2 144.5L1928.2 145.8L1934.2 142.3L1940.2 138.8L1946.2 124.1L1952.2 118.8L1958.3 514.6L1964.3 514.6L1970.3 514.6L1976.3 514.6L1982.3 514.6L1988.3 514.6"/>
<path d="M1393.4 392.3L1399.4 392.3L1405.4 392.3L1411.4 392.3L1417.4 392.3L1423.4 392.3L1429.4 392.3L1435.4 392.3L1441.4 392.3L1447.4 392.3L1453.5 392.3L1459.5 392.3L1465.5 392.3L1471.5 392.1L1477.5 379.2L1483.5 367.6L1489.5 359.4L1495.5 350.7L1501.5 342.2L1507.5 334.8L1513.5 326.5L1519.6 323.2L1525.6 314.7L1531.6 306.5L1537.6 297.6L1543.6 292.0L1549.6 285.2L1555.6 278.3L1561.6 270.1L1567.6 265.6L1573.6 259.8L1579.7 258.0L1585.7 254.8L1591.7 250.8L1597.7 245.0L1603.7 239.5L1609.7 234.7L1615.7 230.2L1621.7 227.2L1627.7 227.5L1633.7 222.9L1639.7 221.5L1645.8 220.3L1651.8 217.4L1657.8 214.6L1663.8 209.1L1669.8 206.8L1675.8 204.0L1681.8 203.6L1687.8 199.7L1693.8 196.2L1699.8 194.0L1705.9 192.6L1711.9 192.4L1717.9 190.3L1723.9 186.8L1729.9 185.5L1735.9 181.8L1741.9 181.7L1747.9 179.9L1753.9 181.3L1759.9 179.0L1765.9 182.5L1772.0 179.1L1778.0 176.2L1784.0 176.8L1790.0 176.2L1796.0 175.4L1802.0 175.8L1808.0 171.7L1814.0 171.0L1820.0 169.6L1826.0 168.8L1832.1 170.8L1838.1 171.9L1844.1 167.8L1850.1 166.0L1856.1 164.0L1862.1 162.8L1868.1 159.9L1874.1 163.5L1880.1 163.7L1886.1 165.5L1892.1 159.7L1898.2 160.8L1904.2 154.2L1910.2 153.6L1916.2 149.8L1922.2 159.2L1928.2 162.2L1934.2 154.1L1940.2 143.9L1946.2 119.7L1952.2 109.3L1958.3 114.3L1964.3 514.6L1970.3 514.6L1976.3 514.6L1982.3 514.6L1988.3 514.6"/>
<path d="M1393.4 394.4L1399.4 394.4L1405.4 394.4L1411.4 394.4L1417.4 394.4L1423.4 394.4L1429.4 394.4L1435.4 394.4L1441.4 394.4L1447.4 394.4L1453.5 394.4L1459.5 394.4L1465.5 394.4L1471.5 394.3L1477.5 382.1L1483.5 371.7L1489.5 363.1L1495.5 355.9L1501.5 347.3L1507.5 337.7L1513.5 327.7L1519.6 319.1L1525.6 311.0L1531.6 307.7L1537.6 302.4L1543.6 295.8L1549.6 288.0L1555.6 281.2L1561.6 272.8L1567.6 269.1L1573.6 264.9L1579.7 262.4L1585.7 259.3L1591.7 254.1L1597.7 247.2L1603.7 241.3L1609.7 237.3L1615.7 232.5L1621.7 230.5L1627.7 228.8L1633.7 227.2L1639.7 224.1L1645.8 220.1L1651.8 217.4L1657.8 213.3L1663.8 210.1L1669.8 206.8L1675.8 203.4L1681.8 199.8L1687.8 200.4L1693.8 200.0L1699.8 197.4L1705.9 197.2L1711.9 194.3L1717.9 193.1L1723.9 192.1L1729.9 189.5L1735.9 190.6L1741.9 188.6L1747.9 185.9L1753.9 184.3L1759.9 181.8L1765.9 179.9L1772.0 179.7L1778.0 177.3L1784.0 176.8L1790.0 175.3L1796.0 174.9L1802.0 174.4L1808.0 173.8L1814.0 173.4L1820.0 172.1L1826.0 171.9L1832.1 173.1L1838.1 170.1L1844.1 168.2L1850.1 168.9L1856.1 165.0L1862.1 165.9L1868.1 167.6L1874.1 166.8L1880.1 163.7L1886.1 161.6L1892.1 159.3L1898.2 160.0L1904.2 159.2L1910.2 153.3L1916.2 155.8L1922.2 155.5L1928.2 159.8L1934.2 154.1L1940.2 151.1L1946.2 133.8L1952.2 136.3L1958.3 122.8L1964.3 111.0L1970.3 112.3L1976.3 114.6L1982.3 514.6L1988.3 514.6"/>
<path d="M1393.4 397.9L1399.4 397.9L1405.4 397.9L1411.4 397.9L1417.4 397.9L1423.4 397.9L1429.4 397.9L1435.4 397.9L1441.4 397.9L1447.4 397.9L1453.5 397.9L1459.5 397.9L1465.5 397.9L1471.5 397.7L1477.5 386.6L1483.5 375.6L1489.5 362.8L1495.5 354.1L1501.5 345.1L1507.5 335.5L1513.5 326.8L1519.6 318.9L1525.6 312.5L1531.6 308.0L1537.6 300.7L1543.6 292.9L1549.6 286.9L1555.6 282.5L1561.6 274.5L1567.6 269.3L1573.6 263.4L1579.7 257.1L1585.7 252.9L1591.7 249.8L1597.7 248.3L1603.7 244.9L1609.7 243.2L1615.7 237.8L1621.7 229.7L1627.7 226.1L1633.7 223.3L1639.7 221.9L1645.8 219.9L1651.8 218.7L1657.8 215.9L1663.8 211.5L1669.8 208.1L1675.8 208.1L1681.8 207.8L1687.8 203.8L1693.8 198.7L1699.8 198.9L1705.9 198.3L1711.9 198.1L1717.9 197.2L1723.9 195.4L1729.9 191.8L1735.9 188.9L1741.9 188.0L1747.9 187.3L1753.9 187.8L1759.9 184.3L1765.9 183.1L1772.0 179.7L1778.0 178.5L1784.0 176.0L1790.0 172.8L1796.0 174.0L1802.0 172.1L1808.0 172.2L1814.0 172.0L1820.0 172.1L1826.0 171.5L1832.1 172.1L1838.1 171.2L1844.1 169.7L1850.1 168.9L1856.1 166.3L1862.1 167.7L1868.1 165.3L1874.1 162.4L1880.1 159.2L1886.1 156.2L1892.1 158.4L1898.2 156.9L1904.2 155.8L1910.2 160.9L1916.2 163.9L1922.2 155.4L1928.2 147.1L1934.2 146.2L1940.2 146.2L1946.2 144.7L1952.2 147.0L1958.3 514.6L1964.3 514.6L1970.3 514.6L1976.3 514.6L1982.3 514.6L1988.3 514.6"/>
<path d="M1393.4 400.2L1399.4 400.2L1405.4 400.2L1411.4 400.2L1417.4 400.2L1423.4 400.2L1429.4 400.2L1435.4 400.2L1441.4 400.2L1447.4 400.2L1453.5 400.2L1459.5 400.2L1465.5 400.2L1471.5 400.1L1477.5 389.8L1483.5 376.8L1489.5 363.8L1495.5 356.2L1501.5 348.1L1507.5 340.8L1513.5 331.1L1519.6 325.0L1525.6 318.2L1531.6 309.4L1537.6 303.4L1543.6 296.4L1549.6 287.4L1555.6 281.3L1561.6 276.2L1567.6 271.7L1573.6 266.2L1579.7 260.9L1585.7 257.6L1591.7 254.6L1597.7 253.6L1603.7 248.1L1609.7 237.8L1615.7 233.0L1621.7 230.9L1627.7 227.9L1633.7 229.6L1639.7 226.1L1645.8 223.8L1651.8 219.1L1657.8 213.7L1663.8 209.8L1669.8 210.9L1675.8 207.1L1681.8 208.3L1687.8 209.8L1693.8 206.5L1699.8 201.2L1705.9 195.7L1711.9 196.3L1717.9 195.9L1723.9 194.4L1729.9 194.0L1735.9 192.9L1741.9 190.3L1747.9 188.0L1753.9 186.1L1759.9 185.7L1765.9 184.5L1772.0 186.5L1778.0 184.4L1784.0 180.9L1790.0 177.9L1796.0 178.0L1802.0 177.3L1808.0 177.4L1814.0 174.1L1820.0 175.8L1826.0 174.1L1832.1 174.8L1838.1 172.7L1844.1 171.2L1850.1 172.1L1856.1 169.2L1862.1 170.4L1868.1 166.6L1874.1 163.8L1880.1 159.9L1886.1 159.0L1892.1 154.5L1898.2 159.8L1904.2 164.8L1910.2 161.3L1916.2 150.8L1922.2 149.0L1928.2 150.9L1934.2 154.4L1940.2 139.4L1946.2 134.3L1952.2 138.6L1958.3 136.8L1964.3 514.6L1970.3 514.6L1976.3 514.6L1982.3 514.6L1988.3 514.6"/>
<path d="M1393.4 397.7L1399.4 397.7L1405.4 397.7L1411.4 397.7L1417.4 397.7L1423.4 397.7L1429.4 397.7L1435.4 397.7L1441.4 397.7L1447.4 397.7L1453.5 397.7L1459.5 397.7L1465.5 397.7L1471.5 397.5L1477.5 386.3L1483.5 370.9L1489.5 361.7L1495.5 356.1L1501.5 349.5L1507.5 341.6L1513.5 330.9L1519.6 320.2L1525.6 314.9L1531.6 309.8L1537.6 303.7L1543.6 295.9L1549.6 289.3L1555.6 284.2L1561.6 278.9L1567.6 272.6L1573.6 267.6L1579.7 264.7L1585.7 261.1L1591.7 259.1L1597.7 254.8L1603.7 251.3L1609.7 246.5L1615.7 241.8L1621.7 235.0L1627.7 229.0L1633.7 228.4L1639.7 227.5L1645.8 227.2L1651.8 224.2L1657.8 220.4L1663.8 217.4L1669.8 214.0L1675.8 211.7L1681.8 210.5L1687.8 207.8L1693.8 206.8L1699.8 202.6L1705.9 199.9L1711.9 198.4L1717.9 194.0L1723.9 192.7L1729.9 193.7L1735.9 191.2L1741.9 193.6L1747.9 193.1L1753.9 191.5L1759.9 186.4L1765.9 185.4L1772.0 180.0L1778.0 179.5L1784.0 180.6L1790.0 177.2L1796.0 177.4L1802.0 176.0L1808.0 175.4L1814.0 175.0L1820.0 175.7L1826.0 175.2L1832.1 171.2L1838.1 170.9L1844.1 170.4L1850.1 170.9L1856.1 169.1L1862.1 166.7L1868.1 164.2L1874.1 164.5L1880.1 165.7L1886.1 167.6L1892.1 166.9L1898.2 165.3L1904.2 168.0L1910.2 167.7L1916.2 160.9L1922.2 155.5L1928.2 154.3L1934.2 158.5L1940.2 164.2L1946.2 161.2L1952.2 152.8L1958.3 140.3L1964.3 128.9L1970.3 121.6L1976.3 514.6L1982.3 514.6L1988.3 514.6"/>
<path d="M1393.4 403.6L1399.4 403.6L1405.4 403.6L1411.4 403.6L1417.4 403.6L1423.4 403.6L1429.4 403.6L1435.4 403.6L1441.4 403.6L1447.4 403.6L1453.5 403.6L1459.5 403.6L1465.5 403.6L1471.5 403.4L1477.5 394.2L1483.5 381.2L1489.5 367.6L1495.5 357.2L1501.5 350.8L1507.5 343.5L1513.5 334.2L1519.6 326.9L1525.6 318.5L1531.6 310.7L1537.6 303.1L1543.6 298.1L1549.6 292.2L1555.6 284.7L1561.6 278.7L1567.6 275.2L1573.6 270.9L1579.7 264.7L1585.7 258.5L1591.7 256.3L1597.7 252.7L1603.7 248.9L1609.7 244.4L1615.7 243.0L1621.7 241.2L1627.7 235.3L1633.7 234.2L1639.7 233.4L1645.8 231.8L1651.8 226.4L1657.8 222.3L1663.8 217.9L1669.8 216.1L1675.8 215.3L1681.8 210.5L1687.8 208.6L1693.8 204.4L1699.8 201.6L1705.9 200.6L1711.9 197.3L1717.9 194.1L1723.9 193.3L1729.9 194.3L1735.9 195.0L1741.9 192.3L1747.9 194.1L1753.9 191.8L1759.9 187.4L1765.9 186.1L1772.0 183.8L1778.0 181.6L1784.0 181.2L1790.0 179.0L1796.0 176.0L1802.0 175.2L1808.0 175.5L1814.0 176.8L1820.0 173.7L1826.0 174.7L1832.1 172.3L1838.1 173.9L1844.1 173.2L1850.1 171.5L1856.1 172.4L1862.1 170.5L1868.1 169.7L1874.1 164.6L1880.1 160.3L1886.1 162.0L1892.1 159.4L1898.2 160.0L1904.2 166.6L1910.2 167.0L1916.2 167.0L1922.2 164.3L1928.2 156.6L1934.2 157.6L1940.2 149.9L1946.2 148.3L1952.2 147.2L1958.3 514.6L1964.3 514.6L1970.3 514.6L1976.3 514.6L1982.3 514.6L1988.3 514.6"/>
<path d="M1393.4 402.9L1399.4 402.9L1405.4 402.9L1411.4 402.9L1417.4 402.9L1423.4 402.9L1429.4 402.9L1435.4 402.9L1441.4 402.9L1447.4 402.9L1453.5 402.9L1459.5 402.9L1465.5 402.9L1471.5 402.8L1477.5 393.4L1483.5 382.6L1489.5 370.6L1495.5 360.6L1501.5 354.7L1507.5 345.8L1513.5 337.1L1519.6 330.8L1525.6 324.8L1531.6 317.3L1537.6 309.2L1543.6 302.3L1549.6 292.7L1555.6 283.9L1561.6 280.3L1567.6 275.4L1573.6 270.8L1579.7 264.6L1585.7 264.0L1591.7 260.7L1597.7 259.0L1603.7 251.5L1609.7 247.3L1615.7 240.4L1621.7 237.0L1627.7 231.7L1633.7 229.2L1639.7 226.7L1645.8 224.3L1651.8 222.4L1657.8 218.6L1663.8 214.9L1669.8 213.6L1675.8 213.9L1681.8 211.6L1687.8 212.3L1693.8 210.8L1699.8 205.3L1705.9 203.1L1711.9 202.9L1717.9 201.2L1723.9 198.0L1729.9 196.2L1735.9 195.8L1741.9 192.6L1747.9 188.6L1753.9 186.4L1759.9 186.2L1765.9 186.5L1772.0 184.7L1778.0 183.7L1784.0 183.9L1790.0 181.1L1796.0 179.4L1802.0 179.6L1808.0 180.8L1814.0 178.9L1820.0 177.7L1826.0 175.8L1832.1 176.9L1838.1 173.7L1844.1 172.9L1850.1 172.4L1856.1 174.9L1862.1 174.8L1868.1 170.5L1874.1 169.6L1880.1 169.8L1886.1 169.4L1892.1 171.5L1898.2 168.0L1904.2 164.5L1910.2 169.1L1916.2 172.6L1922.2 166.3L1928.2 164.5L1934.2 162.1L1940.2 151.1L1946.2 151.7L1952.2 147.8L1958.3 148.3L1964.3 136.5L1970.3 514.6L1976.3 514.6L1982.3 514.6L1988.3 514.6"/>
<path d="M1393.4 403.3L1399.4 403.3L1405.4 403.3L1411.4 403.3L1417.4 403.3L1423.4 403.3L1429.4 403.3L1435.4 403.3L1441.4 403.3L1447.4 403.3L1453.5 403.3L1459.5 403.3L1465.5 403.3L1471.5 403.2L1477.5 393.9L1483.5 383.6L1489.5 371.0L1495.5 360.4L1501.5 350.7L1507.5 342.2L1513.5 334.6L1519.6 330.6L1525.6 324.2L1531.6 318.1L1537.6 310.8L1543.6 301.9L1549.6 296.0L1555.6 290.6L1561.6 286.7L1567.6 278.5L1573.6 274.4L1579.7 266.8L1585.7 261.9L1591.7 259.8L1597.7 257.6L1603.7 253.3L1609.7 250.1L1615.7 247.1L1621.7 242.7L1627.7 239.4L1633.7 237.0L1639.7 234.0L1645.8 230.7L1651.8 228.4L1657.8 225.1L1663.8 219.6L1669.8 218.2L1675.8 217.3L1681.8 217.8L1687.8 215.9L1693.8 214.1L1699.8 211.7L1705.9 207.4L1711.9 203.4L1717.9 200.9L1723.9 196.2L1729.9 195.7L1735.9 192.6L1741.9 193.2L1747.9 192.0L1753.9 188.5L1759.9 189.0L1765.9 189.8L1772.0 187.7L1778.0 184.9L1784.0 183.2L1790.0 180.3L1796.0 179.7L1802.0 181.6L1808.0 178.9L1814.0 179.7L1820.0 178.7L1826.0 178.9L1832.1 177.8L1838.1 177.2L1844.1 177.1L1850.1 174.9L1856.1 170.0L1862.1 169.7L1868.1 172.3L1874.1 172.3L1880.1 170.6L1886.1 167.8L1892.1 169.0L1898.2 172.9L1904.2 170.3L1910.2 168.5L1916.2 160.1L1922.2 158.4L1928.2 160.7L1934.2 163.8L1940.2 171.1L1946.2 167.7L1952.2 171.2L1958.3 514.6L1964.3 514.6L1970.3 514.6L1976.3 514.6L1982.3 514.6L1988.3 514.6"/>
<path d="M1393.4 403.7L1399.4 403.7L1405.4 403.7L1411.4 403.7L1417.4 403.7L1423.4 403.7L1429.4 403.7L1435.4 403.7L1441.4 403.7L1447.4 403.7L1453.5 403.7L1459.5 403.7L1465.5 403.7L1471.5 403.6L1477.5 394.5L1483.5 386.6L1489.5 374.0L1495.5 365.1L1501.5 355.5L1507.5 348.0L1513.5 338.8L1519.6 329.9L1525.6 318.7L1531.6 311.3L1537.6 306.3L1543.6 304.2L1549.6 298.8L1555.6 292.3L1561.6 287.6L1567.6 283.5L1573.6 278.6L1579.7 273.6L1585.7 266.7L1591.7 262.2L1597.7 258.0L1603.7 251.1L1609.7 249.1L1615.7 242.4L1621.7 241.9L1627.7 238.2L1633.7 236.9L1639.7 234.6L1645.8 231.7L1651.8 228.4L1657.8 226.5L1663.8 225.6L1669.8 222.3L1675.8 220.3L1681.8 215.9L1687.8 209.1L1693.8 210.0L1699.8 211.5L1705.9 211.1L1711.9 207.7L1717.9 204.0L1723.9 203.2L1729.9 201.7L1735.9 197.8L1741.9 195.9L1747.9 194.8L1753.9 193.2L1759.9 190.6L1765.9 188.9L1772.0 187.8L1778.0 186.6L1784.0 185.6L1790.0 182.9L1796.0 182.0L1802.0 182.1L1808.0 182.1L1814.0 180.1L1820.0 176.5L1826.0 177.1L1832.1 175.5L1838.1 175.3L1844.1 175.7L1850.1 175.5L1856.1 172.5L1862.1 171.5L1868.1 172.1L1874.1 172.2L1880.1 173.8L1886.1 170.8L1892.1 169.0L1898.2 169.2L1904.2 168.6L1910.2 166.1L1916.2 163.6L1922.2 164.4L1928.2 165.7L1934.2 161.0L1940.2 154.7L1946.2 143.7L1952.2 143.9L1958.3 514.6L1964.3 514.6L1970.3 514.6L1976.3 514.6L1982.3 514.6L1988.3 514.6"/>
</g>
</g>
<rect x="1387.35" y="41.30" width="600.95" height="475.20" fill="none" stroke="#000" stroke-width="1.3"/>
<path d="M1387.35 516.50v5.4M1507.54 516.50v5.4M1627.73 516.50v5.4M1747.92 516.50v5.4M1868.11 516.50v5.4M1988.30 516.50v5.4" stroke="#000" stroke-width="1.3" fill="none"/>
<g class="tk" text-anchor="middle">
<text x="1386.6" y="544.1">0.0</text>
<text x="1506.8" y="544.1">0.2</text>
<text x="1627.0" y="544.1">0.4</text>
<text x="1747.2" y="544.1">0.6</text>
<text x="1867.4" y="544.1">0.8</text>
<text x="1988.0" y="544.1" textLength="33.5" lengthAdjust="spacingAndGlyphs">1.0</text>
</g>
<rect x="1397.3" y="51.1" width="200.3" height="64.8" rx="3.9" ry="3.9" fill="#fff" fill-opacity="0.8" stroke="#ccc" stroke-opacity="0.8" stroke-width="1.39"/>
<path d="M1404.0 65.7h38.9" stroke="#1f77b4" stroke-opacity="0.70" stroke-width="2.78" stroke-dasharray="10.28 4.44" fill="none"/>
<path d="M1404.0 95.5h38.9" stroke="#ff7f0e" stroke-opacity="0.70" stroke-width="2.78" stroke-dasharray="10.28 4.44" fill="none"/>
<text class="lg" x="1460.3" y="74.5">Standard</text>
<text class="lg" x="1460.3" y="103.9">Conservative</text>
<text class="tt" x="1587.2" y="30.4" textLength="69.2" lengthAdjust="spacingAndGlyphs">3x-R</text>
<text class="st" x="1662.3" y="18.3">*</text>
<text class="tt" x="1677.0" y="30.4" textLength="95.0" lengthAdjust="spacingAndGlyphs">+3x-Y</text>
<text class="st" x="1776.0" y="18.3">*</text>
<text class="tt" text-anchor="middle" x="1036.7" y="575.6">Decision threshold</text>
<text class="tt" text-anchor="middle" transform="translate(25.5 279.2) rotate(-90)">F2 score</text>
</g>
</svg>
</body></html>
